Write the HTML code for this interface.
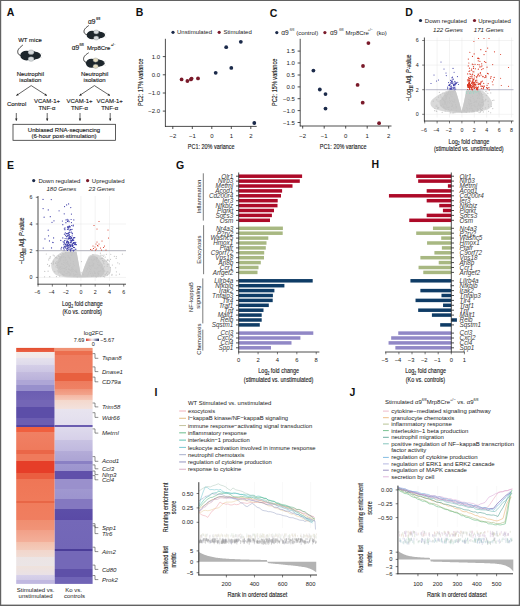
<!DOCTYPE html>
<html><head><meta charset="utf-8"><style>
html,body{margin:0;padding:0;background:#fff;}
svg{display:block;font-family:"Liberation Sans", sans-serif;}
text{stroke:none;}
text.g{stroke:none;}
text.b{stroke:#1a1a1a;stroke-width:0.13px;}
</style></head><body>
<svg width="520" height="606" viewBox="0 0 520 606">
<rect x="0" y="0" width="520" height="606" fill="#fff"/>
<text transform="translate(6.80,16.00)" font-size="10.5" fill="#111" font-weight="bold">A</text>
<text transform="translate(18.20,42.00)" font-size="6" fill="#1a1a1a" class="b">WT mice</text>
<path d="M22.5,45.3 C20,47.5 17.2,49.5 17.8,52.5 C18.2,54.5 19.5,55.5 21.5,55.6" fill="none" stroke="#3c3c3c" stroke-width="1.0" stroke-linecap="round" fill="none"/>
<ellipse cx="26.51" cy="55.60" rx="6.21" ry="4.95" fill="#1d262c"/>
<rect x="26.51" y="51.42" width="8.69" height="8.36" fill="#1d262c"/>
<ellipse cx="34.79" cy="55.60" rx="6.21" ry="3.74" fill="#1d262c"/>
<ellipse cx="31.06" cy="52.19" rx="2.90" ry="2.31" fill="#d6dadc" stroke="#7c8488" stroke-width="0.35"/>
<ellipse cx="31.06" cy="59.01" rx="2.90" ry="2.31" fill="#d6dadc" stroke="#7c8488" stroke-width="0.35"/>
<line x1="39.80" y1="54.60" x2="42.20" y2="53.20" stroke="#aaa" stroke-width="0.3"/>
<line x1="39.80" y1="56.60" x2="42.20" y2="58.00" stroke="#aaa" stroke-width="0.3"/>
<text transform="translate(88.00,23.50)" font-size="6.6" fill="#1a1a1a" class="b">α9</text>
<text transform="translate(96.20,20.20)" font-size="3.2" fill="#1a1a1a" class="b">fl/fl</text>
<path d="M88.4,25.8 C86,27.5 83.5,29.5 84.1,32.3 C84.6,34 86,34.6 87.8,34.8" fill="none" stroke="#3c3c3c" stroke-width="1.0" stroke-linecap="round" fill="none"/>
<ellipse cx="92.15" cy="35.00" rx="5.55" ry="4.32" fill="#1d262c"/>
<rect x="92.15" y="31.35" width="7.77" height="7.30" fill="#1d262c"/>
<ellipse cx="99.55" cy="35.00" rx="5.55" ry="3.26" fill="#1d262c"/>
<ellipse cx="96.22" cy="32.02" rx="2.59" ry="2.02" fill="#d6dadc" stroke="#7c8488" stroke-width="0.35"/>
<ellipse cx="96.22" cy="37.98" rx="2.59" ry="2.02" fill="#d6dadc" stroke="#7c8488" stroke-width="0.35"/>
<line x1="103.90" y1="34.00" x2="106.30" y2="32.60" stroke="#aaa" stroke-width="0.3"/>
<line x1="103.90" y1="36.00" x2="106.30" y2="37.40" stroke="#aaa" stroke-width="0.3"/>
<text transform="translate(71.80,49.60)" font-size="6.6" fill="#1a1a1a" class="b">α9</text>
<text transform="translate(79.60,46.40)" font-size="3.2" fill="#1a1a1a" class="b">fl/fl</text>
<text transform="translate(87.10,49.60)" font-size="6" fill="#1a1a1a" class="b">Mrp8Cre</text>
<text transform="translate(110.90,46.40)" font-size="3.2" fill="#1a1a1a" class="b">+/−</text>
<path d="M88.3,53 C86,54.5 83.2,56.5 83.6,59.5 C84,61.5 85.5,62.6 87.5,62.9" fill="none" stroke="#3c3c3c" stroke-width="1.0" stroke-linecap="round" fill="none"/>
<ellipse cx="91.51" cy="63.20" rx="5.61" ry="4.50" fill="#1d262c"/>
<rect x="91.51" y="59.40" width="7.85" height="7.60" fill="#1d262c"/>
<ellipse cx="98.99" cy="63.20" rx="5.61" ry="3.40" fill="#1d262c"/>
<ellipse cx="95.62" cy="60.10" rx="2.62" ry="2.10" fill="#e4dcc0" stroke="#7c8488" stroke-width="0.35"/>
<ellipse cx="95.62" cy="66.30" rx="2.62" ry="2.10" fill="#e4dcc0" stroke="#7c8488" stroke-width="0.35"/>
<line x1="103.40" y1="62.20" x2="105.80" y2="60.80" stroke="#aaa" stroke-width="0.3"/>
<line x1="103.40" y1="64.20" x2="105.80" y2="65.60" stroke="#aaa" stroke-width="0.3"/>
<text transform="translate(30.30,76.30)" font-size="6" fill="#1a1a1a" class="b" text-anchor="middle">Neutrophil</text>
<text transform="translate(30.30,82.40)" font-size="6" fill="#1a1a1a" class="b" text-anchor="middle">isolation</text>
<text transform="translate(94.60,76.30)" font-size="6" fill="#1a1a1a" class="b" text-anchor="middle">Neutrophil</text>
<text transform="translate(94.60,82.40)" font-size="6" fill="#1a1a1a" class="b" text-anchor="middle">isolation</text>
<line x1="31.20" y1="85.60" x2="16.30" y2="95.60" stroke="#222" stroke-width="0.7"/>
<path d="M16.30,95.60 L17.46,93.38 L18.80,95.37 Z" fill="#222"/>
<line x1="31.20" y1="85.60" x2="46.90" y2="95.60" stroke="#222" stroke-width="0.7"/>
<path d="M46.90,95.60 L44.40,95.43 L45.69,93.41 Z" fill="#222"/>
<line x1="94.40" y1="85.60" x2="79.40" y2="95.60" stroke="#222" stroke-width="0.7"/>
<path d="M79.40,95.60 L80.56,93.38 L81.90,95.38 Z" fill="#222"/>
<line x1="94.40" y1="85.60" x2="110.00" y2="95.60" stroke="#222" stroke-width="0.7"/>
<path d="M110.00,95.60 L107.50,95.42 L108.80,93.40 Z" fill="#222"/>
<text transform="translate(16.60,106.00)" font-size="6" fill="#1a1a1a" class="b" text-anchor="middle">Control</text>
<text transform="translate(47.00,103.20)" font-size="6" fill="#1a1a1a" class="b" text-anchor="middle">VCAM-1+</text>
<text transform="translate(47.00,109.50)" font-size="6" fill="#1a1a1a" class="b" text-anchor="middle">TNF-α</text>
<text transform="translate(79.50,103.20)" font-size="6" fill="#1a1a1a" class="b" text-anchor="middle">VCAM-1+</text>
<text transform="translate(79.50,109.50)" font-size="6" fill="#1a1a1a" class="b" text-anchor="middle">TNF-α</text>
<text transform="translate(109.70,103.20)" font-size="6" fill="#1a1a1a" class="b" text-anchor="middle">VCAM-1+</text>
<text transform="translate(109.70,109.50)" font-size="6" fill="#1a1a1a" class="b" text-anchor="middle">TNF-α</text>
<line x1="16.30" y1="113.00" x2="16.30" y2="120.80" stroke="#222" stroke-width="0.7"/>
<path d="M16.30,120.80 L15.10,118.60 L17.50,118.60 Z" fill="#222"/>
<line x1="47.20" y1="113.00" x2="47.20" y2="120.80" stroke="#222" stroke-width="0.7"/>
<path d="M47.20,120.80 L46.00,118.60 L48.40,118.60 Z" fill="#222"/>
<line x1="80.00" y1="113.00" x2="80.00" y2="120.80" stroke="#222" stroke-width="0.7"/>
<path d="M80.00,120.80 L78.80,118.60 L81.20,118.60 Z" fill="#222"/>
<line x1="110.20" y1="113.00" x2="110.20" y2="120.80" stroke="#222" stroke-width="0.7"/>
<path d="M110.20,120.80 L109.00,118.60 L111.40,118.60 Z" fill="#222"/>
<rect x="13" y="124.3" width="102.4" height="16" fill="none" stroke="#333" stroke-width="0.8"/>
<text transform="translate(64.00,131.70)" font-size="6" fill="#1a1a1a" class="b" text-anchor="middle">Unbiased RNA-sequencing</text>
<text transform="translate(64.00,138.10)" font-size="6" fill="#1a1a1a" class="b" text-anchor="middle">(6-hour post-stimulation)</text>
<text transform="translate(135.80,16.00)" font-size="10.5" fill="#111" font-weight="bold">B</text>
<line x1="165.40" y1="38.80" x2="165.40" y2="126.80" stroke="#222" stroke-width="0.8"/>
<line x1="165.00" y1="126.40" x2="256.70" y2="126.40" stroke="#222" stroke-width="0.8"/>
<line x1="172.80" y1="126.40" x2="172.80" y2="129.00" stroke="#222" stroke-width="0.8"/>
<text transform="translate(172.80,137.70)" font-size="6.0" fill="#1a1a1a" text-anchor="middle">−2</text>
<line x1="192.30" y1="126.40" x2="192.30" y2="129.00" stroke="#222" stroke-width="0.8"/>
<text transform="translate(192.30,137.70)" font-size="6.0" fill="#1a1a1a" text-anchor="middle">−1</text>
<line x1="211.80" y1="126.40" x2="211.80" y2="129.00" stroke="#222" stroke-width="0.8"/>
<text transform="translate(211.80,137.70)" font-size="6.0" fill="#1a1a1a" text-anchor="middle">0</text>
<line x1="231.30" y1="126.40" x2="231.30" y2="129.00" stroke="#222" stroke-width="0.8"/>
<text transform="translate(231.30,137.70)" font-size="6.0" fill="#1a1a1a" text-anchor="middle">1</text>
<line x1="250.80" y1="126.40" x2="250.80" y2="129.00" stroke="#222" stroke-width="0.8"/>
<text transform="translate(250.80,137.70)" font-size="6.0" fill="#1a1a1a" text-anchor="middle">2</text>
<line x1="162.80" y1="56.60" x2="165.40" y2="56.60" stroke="#222" stroke-width="0.8"/>
<text transform="translate(160.10,58.70)" font-size="6.0" fill="#1a1a1a" text-anchor="end">1.0</text>
<line x1="162.80" y1="74.80" x2="165.40" y2="74.80" stroke="#222" stroke-width="0.8"/>
<text transform="translate(160.10,76.90)" font-size="6.0" fill="#1a1a1a" text-anchor="end">0.0</text>
<line x1="162.80" y1="93.00" x2="165.40" y2="93.00" stroke="#222" stroke-width="0.8"/>
<text transform="translate(160.10,95.10)" font-size="6.0" fill="#1a1a1a" text-anchor="end">−1.0</text>
<line x1="162.80" y1="111.10" x2="165.40" y2="111.10" stroke="#222" stroke-width="0.8"/>
<text transform="translate(160.10,113.20)" font-size="6.0" fill="#1a1a1a" text-anchor="end">−2.0</text>
<text transform="translate(211.20,149.20) scale(0.76,1)" font-size="7.2" fill="#1a1a1a" class="b" text-anchor="middle">PC1: 20% variance</text>
<text transform="translate(142.70,82.40) rotate(-90) scale(0.77,1)" font-size="7.2" fill="#1a1a1a" class="b" text-anchor="middle">PC2: 17% variance</text>
<circle cx="173.00" cy="32.30" r="1.6" fill="#1b2a4a"/>
<text transform="translate(177.00,34.40)" font-size="6" fill="#1a1a1a">Unstimulated</text>
<circle cx="219.20" cy="32.30" r="1.6" fill="#7a1a2a"/>
<text transform="translate(223.40,34.40)" font-size="6" fill="#1a1a1a">Stimulated</text>
<circle cx="226.20" cy="47.20" r="1.9" fill="#1b2a4a"/>
<circle cx="240.80" cy="41.80" r="1.9" fill="#1b2a4a"/>
<circle cx="231.30" cy="67.90" r="1.9" fill="#1b2a4a"/>
<circle cx="215.70" cy="72.80" r="1.9" fill="#1b2a4a"/>
<circle cx="254.30" cy="123.00" r="1.9" fill="#1b2a4a"/>
<circle cx="181.60" cy="79.40" r="1.9" fill="#7a1a2a"/>
<circle cx="187.40" cy="81.00" r="1.9" fill="#7a1a2a"/>
<circle cx="190.90" cy="79.40" r="1.9" fill="#7a1a2a"/>
<circle cx="191.60" cy="78.60" r="1.9" fill="#7a1a2a"/>
<circle cx="198.00" cy="78.40" r="1.9" fill="#7a1a2a"/>
<text transform="translate(269.80,16.60)" font-size="10.5" fill="#111" font-weight="bold">C</text>
<line x1="300.20" y1="38.80" x2="300.20" y2="126.40" stroke="#222" stroke-width="0.8"/>
<line x1="299.80" y1="126.00" x2="391.50" y2="126.00" stroke="#222" stroke-width="0.8"/>
<line x1="302.70" y1="126.00" x2="302.70" y2="128.60" stroke="#222" stroke-width="0.8"/>
<text transform="translate(302.70,137.70)" font-size="6.0" fill="#1a1a1a" text-anchor="middle">−2</text>
<line x1="324.20" y1="126.00" x2="324.20" y2="128.60" stroke="#222" stroke-width="0.8"/>
<text transform="translate(324.20,137.70)" font-size="6.0" fill="#1a1a1a" text-anchor="middle">−1</text>
<line x1="345.70" y1="126.00" x2="345.70" y2="128.60" stroke="#222" stroke-width="0.8"/>
<text transform="translate(345.70,137.70)" font-size="6.0" fill="#1a1a1a" text-anchor="middle">0</text>
<line x1="367.20" y1="126.00" x2="367.20" y2="128.60" stroke="#222" stroke-width="0.8"/>
<text transform="translate(367.20,137.70)" font-size="6.0" fill="#1a1a1a" text-anchor="middle">1</text>
<line x1="388.70" y1="126.00" x2="388.70" y2="128.60" stroke="#222" stroke-width="0.8"/>
<text transform="translate(388.70,137.70)" font-size="6.0" fill="#1a1a1a" text-anchor="middle">2</text>
<line x1="297.60" y1="51.10" x2="300.20" y2="51.10" stroke="#222" stroke-width="0.8"/>
<text transform="translate(294.90,53.20)" font-size="6.0" fill="#1a1a1a" text-anchor="end">1.5</text>
<line x1="297.60" y1="63.00" x2="300.20" y2="63.00" stroke="#222" stroke-width="0.8"/>
<text transform="translate(294.90,65.10)" font-size="6.0" fill="#1a1a1a" text-anchor="end">1.0</text>
<line x1="297.60" y1="75.00" x2="300.20" y2="75.00" stroke="#222" stroke-width="0.8"/>
<text transform="translate(294.90,77.10)" font-size="6.0" fill="#1a1a1a" text-anchor="end">0.5</text>
<line x1="297.60" y1="86.90" x2="300.20" y2="86.90" stroke="#222" stroke-width="0.8"/>
<text transform="translate(294.90,89.00)" font-size="6.0" fill="#1a1a1a" text-anchor="end">0.0</text>
<line x1="297.60" y1="98.70" x2="300.20" y2="98.70" stroke="#222" stroke-width="0.8"/>
<text transform="translate(294.90,100.80)" font-size="6.0" fill="#1a1a1a" text-anchor="end">−0.5</text>
<line x1="297.60" y1="110.60" x2="300.20" y2="110.60" stroke="#222" stroke-width="0.8"/>
<text transform="translate(294.90,112.70)" font-size="6.0" fill="#1a1a1a" text-anchor="end">−1.0</text>
<line x1="297.60" y1="122.50" x2="300.20" y2="122.50" stroke="#222" stroke-width="0.8"/>
<text transform="translate(294.90,124.60)" font-size="6.0" fill="#1a1a1a" text-anchor="end">−1.5</text>
<text transform="translate(343.10,149.20) scale(0.76,1)" font-size="7.2" fill="#1a1a1a" class="b" text-anchor="middle">PC1: 20% variance</text>
<text transform="translate(276.60,82.40) rotate(-90) scale(0.77,1)" font-size="7.2" fill="#1a1a1a" class="b" text-anchor="middle">PC2: 15% variance</text>
<circle cx="276.80" cy="32.60" r="1.6" fill="#1b2a4a"/>
<text transform="translate(281.30,34.50)" font-size="6.6" fill="#1a1a1a">α9</text>
<text transform="translate(289.80,31.20)" font-size="3.4" fill="#1a1a1a">fl/fl</text>
<text transform="translate(296.20,34.50)" font-size="6" fill="#1a1a1a">(control)</text>
<circle cx="324.90" cy="32.60" r="1.6" fill="#7a1a2a"/>
<text transform="translate(329.90,34.50)" font-size="6.6" fill="#1a1a1a">α9</text>
<text transform="translate(339.20,31.20)" font-size="3.4" fill="#1a1a1a">fl/fl</text>
<text transform="translate(345.60,34.50)" font-size="6" fill="#1a1a1a">Mrp8Cre</text>
<text transform="translate(367.80,31.20)" font-size="3.4" fill="#1a1a1a">+/−</text>
<text transform="translate(376.50,34.50)" font-size="6" fill="#1a1a1a">(ko)</text>
<circle cx="313.40" cy="70.60" r="1.9" fill="#1b2a4a"/>
<circle cx="319.80" cy="89.50" r="1.9" fill="#1b2a4a"/>
<circle cx="325.50" cy="94.10" r="1.9" fill="#1b2a4a"/>
<circle cx="325.50" cy="108.60" r="1.9" fill="#1b2a4a"/>
<circle cx="368.40" cy="43.10" r="1.9" fill="#7a1a2a"/>
<circle cx="363.00" cy="66.00" r="1.9" fill="#7a1a2a"/>
<circle cx="357.60" cy="84.90" r="1.9" fill="#7a1a2a"/>
<circle cx="362.70" cy="102.70" r="1.9" fill="#7a1a2a"/>
<circle cx="379.10" cy="123.20" r="1.9" fill="#7a1a2a"/>
<text transform="translate(405.30,16.30)" font-size="10.5" fill="#111" font-weight="bold">D</text>
<circle cx="420.50" cy="20.50" r="1.6" fill="#1b2a4a"/>
<text transform="translate(424.80,22.60)" font-size="6" fill="#1a1a1a">Down regulated</text>
<circle cx="474.50" cy="20.50" r="1.6" fill="#7a1a2a"/>
<text transform="translate(478.20,22.60)" font-size="6" fill="#1a1a1a">Upregulated</text>
<text transform="translate(433.00,32.00)" font-size="6.1" fill="#1a1a1a" font-style="italic">122 Genes</text>
<text transform="translate(473.80,32.00)" font-size="6.1" fill="#1a1a1a" font-style="italic">171 Genes</text>
<line x1="437.10" y1="37.50" x2="437.10" y2="117.50" stroke="#e6e6e6" stroke-width="0.5"/>
<line x1="449.50" y1="37.50" x2="449.50" y2="117.50" stroke="#e6e6e6" stroke-width="0.5"/>
<line x1="461.90" y1="37.50" x2="461.90" y2="117.50" stroke="#e6e6e6" stroke-width="0.5"/>
<line x1="474.30" y1="37.50" x2="474.30" y2="117.50" stroke="#e6e6e6" stroke-width="0.5"/>
<line x1="486.70" y1="37.50" x2="486.70" y2="117.50" stroke="#e6e6e6" stroke-width="0.5"/>
<line x1="499.10" y1="37.50" x2="499.10" y2="117.50" stroke="#e6e6e6" stroke-width="0.5"/>
<line x1="511.50" y1="37.50" x2="511.50" y2="117.50" stroke="#e6e6e6" stroke-width="0.5"/>
<line x1="425.50" y1="114.30" x2="513.50" y2="114.30" stroke="#e6e6e6" stroke-width="0.5"/>
<line x1="425.50" y1="65.10" x2="513.50" y2="65.10" stroke="#e6e6e6" stroke-width="0.5"/>
<line x1="425.50" y1="40.50" x2="513.50" y2="40.50" stroke="#e6e6e6" stroke-width="0.5"/>
<path d="M448,90.6 C442,93 434,97 431,101 C429.5,104 431,107.5 436,109.5 C442,111.5 450,112.6 456,112.9 L461.6,113 L467,112.9 C474,112.6 482,111.5 487.5,109.5 C492,107.5 493,104 491.5,101 C489.5,97 486,93.5 482.5,90.6 L466.3,90.6 C465.2,96 463.8,104 461.6,111.3 C459.8,104 457.5,96 455.6,90.6 Z" fill="#d9d9d9"/>
<path d="M449,90.6 C445,94 440,99 439.5,103 C439.5,106.5 443,109 448,110.6 C453,111.8 458,112.2 461.6,112.3 C466,112.2 472,111.6 477,110.4 C482,109 484.5,106 484,102.5 C483.5,98.5 482,94 480.5,90.6 L466.3,90.6 C465.2,96 463.8,104 461.6,111.3 C459.8,104 457.5,96 455.6,90.6 Z" fill="#c8c8c8"/>
<circle cx="433.26" cy="101.14" r="0.6" fill="#c2c2c2"/>
<circle cx="470.75" cy="103.84" r="0.6" fill="#c2c2c2"/>
<circle cx="437.86" cy="108.40" r="0.6" fill="#c2c2c2"/>
<circle cx="446.31" cy="97.54" r="0.6" fill="#c2c2c2"/>
<circle cx="450.66" cy="91.73" r="0.6" fill="#c2c2c2"/>
<circle cx="466.27" cy="112.22" r="0.6" fill="#c2c2c2"/>
<circle cx="473.72" cy="91.13" r="0.6" fill="#c2c2c2"/>
<circle cx="474.08" cy="92.12" r="0.6" fill="#c2c2c2"/>
<circle cx="447.08" cy="101.10" r="0.6" fill="#c2c2c2"/>
<circle cx="448.60" cy="109.50" r="0.6" fill="#c2c2c2"/>
<circle cx="471.39" cy="105.51" r="0.6" fill="#c2c2c2"/>
<circle cx="441.10" cy="96.98" r="0.6" fill="#c2c2c2"/>
<circle cx="491.36" cy="106.51" r="0.6" fill="#c2c2c2"/>
<circle cx="446.66" cy="95.90" r="0.6" fill="#c2c2c2"/>
<circle cx="482.46" cy="99.38" r="0.6" fill="#c2c2c2"/>
<circle cx="477.14" cy="95.46" r="0.6" fill="#c2c2c2"/>
<circle cx="476.80" cy="101.23" r="0.6" fill="#c2c2c2"/>
<circle cx="474.66" cy="104.77" r="0.6" fill="#c2c2c2"/>
<circle cx="478.75" cy="96.79" r="0.6" fill="#c2c2c2"/>
<circle cx="438.69" cy="107.63" r="0.6" fill="#c2c2c2"/>
<circle cx="481.92" cy="100.73" r="0.6" fill="#c2c2c2"/>
<circle cx="446.61" cy="105.09" r="0.6" fill="#c2c2c2"/>
<circle cx="443.58" cy="100.14" r="0.6" fill="#c2c2c2"/>
<circle cx="444.86" cy="108.64" r="0.6" fill="#c2c2c2"/>
<circle cx="464.16" cy="110.44" r="0.6" fill="#c2c2c2"/>
<circle cx="436.95" cy="105.05" r="0.6" fill="#c2c2c2"/>
<circle cx="454.87" cy="112.76" r="0.6" fill="#c2c2c2"/>
<circle cx="446.42" cy="98.10" r="0.6" fill="#c2c2c2"/>
<circle cx="442.79" cy="104.15" r="0.6" fill="#c2c2c2"/>
<circle cx="444.59" cy="100.86" r="0.6" fill="#c2c2c2"/>
<circle cx="467.25" cy="110.04" r="0.6" fill="#c2c2c2"/>
<circle cx="447.87" cy="94.22" r="0.6" fill="#c2c2c2"/>
<circle cx="479.35" cy="95.01" r="0.6" fill="#c2c2c2"/>
<circle cx="471.83" cy="111.68" r="0.6" fill="#c2c2c2"/>
<circle cx="442.86" cy="93.11" r="0.6" fill="#c2c2c2"/>
<circle cx="451.67" cy="106.44" r="0.6" fill="#c2c2c2"/>
<circle cx="445.89" cy="109.09" r="0.6" fill="#c2c2c2"/>
<circle cx="475.74" cy="106.79" r="0.6" fill="#c2c2c2"/>
<circle cx="450.89" cy="95.87" r="0.6" fill="#c2c2c2"/>
<circle cx="483.21" cy="97.02" r="0.6" fill="#c2c2c2"/>
<circle cx="446.15" cy="92.14" r="0.6" fill="#c2c2c2"/>
<circle cx="454.01" cy="98.99" r="0.6" fill="#c2c2c2"/>
<circle cx="481.82" cy="110.58" r="0.6" fill="#c2c2c2"/>
<circle cx="482.23" cy="105.38" r="0.6" fill="#c2c2c2"/>
<circle cx="473.44" cy="91.58" r="0.6" fill="#c2c2c2"/>
<circle cx="445.19" cy="111.01" r="0.6" fill="#c2c2c2"/>
<circle cx="478.51" cy="104.92" r="0.6" fill="#c2c2c2"/>
<circle cx="446.69" cy="107.02" r="0.6" fill="#c2c2c2"/>
<circle cx="449.57" cy="102.92" r="0.6" fill="#c2c2c2"/>
<circle cx="476.99" cy="110.78" r="0.6" fill="#c2c2c2"/>
<circle cx="473.18" cy="111.11" r="0.6" fill="#c2c2c2"/>
<circle cx="435.94" cy="106.01" r="0.6" fill="#c2c2c2"/>
<circle cx="482.37" cy="108.35" r="0.6" fill="#c2c2c2"/>
<circle cx="471.36" cy="103.52" r="0.6" fill="#c2c2c2"/>
<circle cx="469.67" cy="104.32" r="0.6" fill="#c2c2c2"/>
<circle cx="452.79" cy="104.99" r="0.6" fill="#c2c2c2"/>
<circle cx="485.81" cy="99.42" r="0.6" fill="#c2c2c2"/>
<circle cx="468.70" cy="103.70" r="0.6" fill="#c2c2c2"/>
<circle cx="448.43" cy="107.45" r="0.6" fill="#c2c2c2"/>
<circle cx="444.69" cy="104.15" r="0.6" fill="#c2c2c2"/>
<circle cx="448.25" cy="101.84" r="0.6" fill="#c2c2c2"/>
<circle cx="488.52" cy="111.23" r="0.6" fill="#c2c2c2"/>
<circle cx="452.49" cy="105.85" r="0.6" fill="#c2c2c2"/>
<circle cx="447.39" cy="94.57" r="0.6" fill="#c2c2c2"/>
<circle cx="472.66" cy="110.60" r="0.6" fill="#c2c2c2"/>
<circle cx="441.07" cy="105.58" r="0.6" fill="#c2c2c2"/>
<circle cx="436.32" cy="111.10" r="0.6" fill="#c2c2c2"/>
<circle cx="482.71" cy="99.33" r="0.6" fill="#c2c2c2"/>
<circle cx="475.35" cy="101.82" r="0.6" fill="#c2c2c2"/>
<circle cx="480.71" cy="109.64" r="0.6" fill="#c2c2c2"/>
<circle cx="482.74" cy="94.55" r="0.6" fill="#c2c2c2"/>
<circle cx="445.38" cy="96.91" r="0.6" fill="#c2c2c2"/>
<circle cx="439.19" cy="101.76" r="0.6" fill="#c2c2c2"/>
<circle cx="451.69" cy="109.43" r="0.6" fill="#c2c2c2"/>
<circle cx="474.18" cy="91.50" r="0.6" fill="#c2c2c2"/>
<circle cx="477.87" cy="91.72" r="0.6" fill="#c2c2c2"/>
<circle cx="471.18" cy="108.37" r="0.6" fill="#c2c2c2"/>
<circle cx="444.60" cy="93.82" r="0.6" fill="#c2c2c2"/>
<circle cx="448.89" cy="91.84" r="0.6" fill="#c2c2c2"/>
<circle cx="467.02" cy="105.34" r="0.6" fill="#c2c2c2"/>
<circle cx="480.49" cy="112.08" r="0.6" fill="#c2c2c2"/>
<circle cx="479.67" cy="94.77" r="0.6" fill="#c2c2c2"/>
<circle cx="454.01" cy="101.28" r="0.6" fill="#c2c2c2"/>
<circle cx="479.58" cy="98.48" r="0.6" fill="#c2c2c2"/>
<circle cx="482.40" cy="102.35" r="0.6" fill="#c2c2c2"/>
<circle cx="477.29" cy="108.38" r="0.6" fill="#c2c2c2"/>
<circle cx="469.51" cy="92.74" r="0.6" fill="#c2c2c2"/>
<circle cx="476.32" cy="100.87" r="0.6" fill="#c2c2c2"/>
<circle cx="473.10" cy="111.00" r="0.6" fill="#c2c2c2"/>
<circle cx="434.86" cy="108.49" r="0.6" fill="#c2c2c2"/>
<circle cx="470.54" cy="101.09" r="0.6" fill="#c2c2c2"/>
<circle cx="480.36" cy="108.97" r="0.6" fill="#c2c2c2"/>
<circle cx="488.52" cy="106.73" r="0.6" fill="#c2c2c2"/>
<circle cx="461.75" cy="112.50" r="0.6" fill="#c2c2c2"/>
<circle cx="440.15" cy="100.59" r="0.6" fill="#c2c2c2"/>
<circle cx="477.99" cy="91.43" r="0.6" fill="#c2c2c2"/>
<circle cx="480.16" cy="108.29" r="0.6" fill="#c2c2c2"/>
<circle cx="452.20" cy="94.10" r="0.6" fill="#c2c2c2"/>
<circle cx="474.63" cy="106.10" r="0.6" fill="#c2c2c2"/>
<circle cx="481.55" cy="102.49" r="0.6" fill="#c2c2c2"/>
<circle cx="449.37" cy="106.98" r="0.6" fill="#c2c2c2"/>
<circle cx="445.21" cy="99.26" r="0.6" fill="#c2c2c2"/>
<circle cx="481.16" cy="109.69" r="0.6" fill="#c2c2c2"/>
<circle cx="474.00" cy="102.44" r="0.6" fill="#c2c2c2"/>
<circle cx="479.82" cy="101.97" r="0.6" fill="#c2c2c2"/>
<circle cx="485.86" cy="91.42" r="0.6" fill="#c2c2c2"/>
<circle cx="469.45" cy="108.58" r="0.6" fill="#c2c2c2"/>
<circle cx="476.24" cy="101.70" r="0.6" fill="#c2c2c2"/>
<circle cx="485.54" cy="99.99" r="0.6" fill="#c2c2c2"/>
<circle cx="480.75" cy="111.30" r="0.6" fill="#c2c2c2"/>
<circle cx="443.66" cy="100.43" r="0.6" fill="#c2c2c2"/>
<circle cx="477.66" cy="110.79" r="0.6" fill="#c2c2c2"/>
<circle cx="445.26" cy="104.52" r="0.6" fill="#c2c2c2"/>
<circle cx="481.46" cy="93.67" r="0.6" fill="#c2c2c2"/>
<circle cx="481.88" cy="95.85" r="0.6" fill="#c2c2c2"/>
<circle cx="477.70" cy="97.95" r="0.6" fill="#c2c2c2"/>
<circle cx="444.77" cy="107.03" r="0.6" fill="#c2c2c2"/>
<circle cx="444.91" cy="102.13" r="0.6" fill="#c2c2c2"/>
<circle cx="449.58" cy="100.50" r="0.6" fill="#c2c2c2"/>
<circle cx="454.56" cy="99.98" r="0.6" fill="#c2c2c2"/>
<circle cx="479.72" cy="104.82" r="0.6" fill="#c2c2c2"/>
<circle cx="481.28" cy="102.56" r="0.6" fill="#c2c2c2"/>
<circle cx="467.45" cy="108.79" r="0.6" fill="#c2c2c2"/>
<circle cx="474.38" cy="111.29" r="0.6" fill="#c2c2c2"/>
<circle cx="452.18" cy="112.96" r="0.6" fill="#c2c2c2"/>
<circle cx="480.70" cy="106.93" r="0.6" fill="#c2c2c2"/>
<circle cx="450.59" cy="92.95" r="0.6" fill="#c2c2c2"/>
<circle cx="452.43" cy="106.01" r="0.6" fill="#c2c2c2"/>
<circle cx="449.99" cy="111.03" r="0.6" fill="#c2c2c2"/>
<circle cx="487.82" cy="93.36" r="0.6" fill="#c2c2c2"/>
<circle cx="477.45" cy="106.02" r="0.6" fill="#c2c2c2"/>
<circle cx="439.33" cy="92.37" r="0.6" fill="#c2c2c2"/>
<circle cx="455.01" cy="102.23" r="0.6" fill="#c2c2c2"/>
<circle cx="479.21" cy="94.05" r="0.6" fill="#c2c2c2"/>
<circle cx="450.55" cy="112.78" r="0.6" fill="#c2c2c2"/>
<circle cx="490.77" cy="92.91" r="0.6" fill="#c2c2c2"/>
<circle cx="453.90" cy="107.78" r="0.6" fill="#c2c2c2"/>
<circle cx="444.83" cy="101.17" r="0.6" fill="#c2c2c2"/>
<circle cx="481.32" cy="109.54" r="0.6" fill="#c2c2c2"/>
<circle cx="436.78" cy="99.80" r="0.6" fill="#c2c2c2"/>
<circle cx="450.04" cy="94.46" r="0.6" fill="#c2c2c2"/>
<circle cx="492.79" cy="108.60" r="0.6" fill="#c2c2c2"/>
<circle cx="478.53" cy="109.91" r="0.6" fill="#c2c2c2"/>
<circle cx="468.62" cy="102.00" r="0.6" fill="#c2c2c2"/>
<circle cx="482.73" cy="108.67" r="0.6" fill="#c2c2c2"/>
<circle cx="456.11" cy="108.07" r="0.6" fill="#c2c2c2"/>
<circle cx="470.45" cy="99.81" r="0.6" fill="#c2c2c2"/>
<circle cx="485.42" cy="107.83" r="0.6" fill="#c2c2c2"/>
<circle cx="469.08" cy="99.81" r="0.6" fill="#c2c2c2"/>
<circle cx="483.20" cy="101.21" r="0.6" fill="#c2c2c2"/>
<circle cx="449.55" cy="98.70" r="0.6" fill="#c2c2c2"/>
<circle cx="473.12" cy="111.77" r="0.6" fill="#c2c2c2"/>
<circle cx="473.17" cy="98.30" r="0.6" fill="#c2c2c2"/>
<circle cx="468.61" cy="99.45" r="0.6" fill="#c2c2c2"/>
<circle cx="473.08" cy="105.06" r="0.6" fill="#c2c2c2"/>
<circle cx="478.55" cy="91.31" r="0.6" fill="#c2c2c2"/>
<circle cx="456.07" cy="107.20" r="0.6" fill="#c2c2c2"/>
<circle cx="445.30" cy="95.14" r="0.6" fill="#c2c2c2"/>
<circle cx="448.21" cy="92.99" r="0.6" fill="#c2c2c2"/>
<circle cx="453.81" cy="102.07" r="0.6" fill="#c2c2c2"/>
<circle cx="471.70" cy="103.41" r="0.6" fill="#c2c2c2"/>
<circle cx="466.59" cy="107.66" r="0.6" fill="#c2c2c2"/>
<circle cx="450.47" cy="101.27" r="0.6" fill="#c2c2c2"/>
<circle cx="445.37" cy="101.80" r="0.6" fill="#c2c2c2"/>
<circle cx="493.87" cy="100.14" r="0.6" fill="#c2c2c2"/>
<circle cx="483.50" cy="104.07" r="0.6" fill="#c2c2c2"/>
<circle cx="444.89" cy="103.25" r="0.6" fill="#c2c2c2"/>
<circle cx="456.25" cy="106.71" r="0.6" fill="#c2c2c2"/>
<circle cx="451.85" cy="91.75" r="0.6" fill="#c2c2c2"/>
<circle cx="447.43" cy="107.55" r="0.6" fill="#c2c2c2"/>
<circle cx="469.52" cy="111.77" r="0.6" fill="#c2c2c2"/>
<circle cx="452.71" cy="101.40" r="0.6" fill="#c2c2c2"/>
<circle cx="472.56" cy="96.21" r="0.6" fill="#c2c2c2"/>
<circle cx="488.09" cy="101.20" r="0.6" fill="#c2c2c2"/>
<circle cx="472.39" cy="108.93" r="0.6" fill="#c2c2c2"/>
<circle cx="484.87" cy="100.92" r="0.6" fill="#c2c2c2"/>
<circle cx="453.02" cy="91.96" r="0.6" fill="#c2c2c2"/>
<circle cx="482.76" cy="105.63" r="0.6" fill="#c2c2c2"/>
<circle cx="451.95" cy="96.62" r="0.6" fill="#c2c2c2"/>
<circle cx="483.30" cy="111.95" r="0.6" fill="#c2c2c2"/>
<circle cx="477.27" cy="110.62" r="0.6" fill="#c2c2c2"/>
<circle cx="480.68" cy="104.67" r="0.6" fill="#c2c2c2"/>
<circle cx="445.67" cy="103.34" r="0.6" fill="#c2c2c2"/>
<circle cx="488.30" cy="104.85" r="0.6" fill="#c2c2c2"/>
<circle cx="479.10" cy="112.55" r="0.6" fill="#c2c2c2"/>
<circle cx="482.27" cy="110.31" r="0.6" fill="#c2c2c2"/>
<circle cx="451.80" cy="100.24" r="0.6" fill="#c2c2c2"/>
<circle cx="479.22" cy="93.07" r="0.6" fill="#c2c2c2"/>
<circle cx="479.86" cy="105.81" r="0.6" fill="#c2c2c2"/>
<circle cx="478.40" cy="104.81" r="0.6" fill="#c2c2c2"/>
<circle cx="442.57" cy="98.43" r="0.6" fill="#c2c2c2"/>
<circle cx="477.69" cy="109.42" r="0.6" fill="#c2c2c2"/>
<circle cx="455.64" cy="104.65" r="0.6" fill="#c2c2c2"/>
<circle cx="486.33" cy="95.53" r="0.6" fill="#c2c2c2"/>
<circle cx="446.40" cy="98.99" r="0.6" fill="#c2c2c2"/>
<circle cx="490.65" cy="112.76" r="0.6" fill="#c2c2c2"/>
<circle cx="436.74" cy="111.24" r="0.6" fill="#c2c2c2"/>
<circle cx="443.76" cy="99.00" r="0.6" fill="#c2c2c2"/>
<circle cx="448.86" cy="92.64" r="0.6" fill="#c2c2c2"/>
<circle cx="474.86" cy="101.56" r="0.6" fill="#c2c2c2"/>
<circle cx="473.08" cy="92.49" r="0.6" fill="#c2c2c2"/>
<circle cx="443.54" cy="106.21" r="0.6" fill="#c2c2c2"/>
<circle cx="446.07" cy="93.41" r="0.6" fill="#c2c2c2"/>
<circle cx="469.92" cy="103.44" r="0.6" fill="#c2c2c2"/>
<circle cx="492.42" cy="100.52" r="0.6" fill="#c2c2c2"/>
<circle cx="470.89" cy="97.57" r="0.6" fill="#c2c2c2"/>
<circle cx="434.74" cy="110.66" r="0.6" fill="#c2c2c2"/>
<circle cx="442.74" cy="99.40" r="0.6" fill="#c2c2c2"/>
<circle cx="451.94" cy="103.32" r="0.6" fill="#c2c2c2"/>
<circle cx="443.88" cy="107.65" r="0.6" fill="#c2c2c2"/>
<circle cx="476.69" cy="102.25" r="0.6" fill="#c2c2c2"/>
<circle cx="478.56" cy="103.40" r="0.6" fill="#c2c2c2"/>
<circle cx="456.26" cy="110.76" r="0.6" fill="#c2c2c2"/>
<circle cx="452.22" cy="104.88" r="0.6" fill="#c2c2c2"/>
<circle cx="446.75" cy="96.25" r="0.6" fill="#c2c2c2"/>
<circle cx="437.60" cy="107.79" r="0.6" fill="#c2c2c2"/>
<circle cx="477.69" cy="98.30" r="0.6" fill="#c2c2c2"/>
<circle cx="469.52" cy="105.73" r="0.6" fill="#c2c2c2"/>
<circle cx="436.90" cy="106.52" r="0.6" fill="#c2c2c2"/>
<circle cx="474.21" cy="99.92" r="0.6" fill="#c2c2c2"/>
<circle cx="469.66" cy="108.69" r="0.6" fill="#c2c2c2"/>
<circle cx="464.27" cy="110.53" r="0.6" fill="#c2c2c2"/>
<circle cx="471.19" cy="106.56" r="0.6" fill="#c2c2c2"/>
<circle cx="469.95" cy="100.16" r="0.6" fill="#c2c2c2"/>
<circle cx="453.49" cy="112.80" r="0.6" fill="#c2c2c2"/>
<circle cx="442.19" cy="112.33" r="0.6" fill="#c2c2c2"/>
<circle cx="449.45" cy="97.65" r="0.6" fill="#c2c2c2"/>
<circle cx="440.28" cy="94.78" r="0.6" fill="#c2c2c2"/>
<circle cx="437.99" cy="100.98" r="0.6" fill="#c2c2c2"/>
<circle cx="478.72" cy="93.21" r="0.6" fill="#c2c2c2"/>
<circle cx="446.05" cy="95.63" r="0.6" fill="#c2c2c2"/>
<circle cx="445.21" cy="95.77" r="0.6" fill="#c2c2c2"/>
<circle cx="438.45" cy="97.04" r="0.6" fill="#c2c2c2"/>
<circle cx="447.26" cy="102.97" r="0.6" fill="#c2c2c2"/>
<circle cx="470.52" cy="101.44" r="0.6" fill="#c2c2c2"/>
<circle cx="469.65" cy="93.16" r="0.6" fill="#9fd6c4"/>
<circle cx="478.80" cy="91.53" r="0.6" fill="#9fd6c4"/>
<circle cx="473.66" cy="93.37" r="0.6" fill="#9fd6c4"/>
<circle cx="472.76" cy="91.16" r="0.6" fill="#9fd6c4"/>
<circle cx="466.70" cy="93.34" r="0.6" fill="#9fd6c4"/>
<circle cx="477.22" cy="91.65" r="0.6" fill="#9fd6c4"/>
<circle cx="473.39" cy="92.05" r="0.6" fill="#9fd6c4"/>
<circle cx="469.84" cy="93.47" r="0.6" fill="#9fd6c4"/>
<circle cx="475.21" cy="91.21" r="0.6" fill="#9fd6c4"/>
<circle cx="466.15" cy="91.92" r="0.6" fill="#9fd6c4"/>
<circle cx="471.20" cy="92.89" r="0.6" fill="#9fd6c4"/>
<circle cx="475.99" cy="92.32" r="0.6" fill="#9fd6c4"/>
<circle cx="468.20" cy="90.97" r="0.6" fill="#9fd6c4"/>
<circle cx="470.51" cy="91.28" r="0.6" fill="#9fd6c4"/>
<line x1="425.50" y1="89.70" x2="513.50" y2="89.70" stroke="#8a8aa6" stroke-width="0.6"/>
<circle cx="450.21" cy="84.26" r="0.55" fill="#3c3ca8"/>
<circle cx="446.28" cy="75.60" r="0.55" fill="#3c3ca8"/>
<circle cx="455.70" cy="89.10" r="0.55" fill="#3c3ca8"/>
<circle cx="456.12" cy="82.98" r="0.55" fill="#3c3ca8"/>
<circle cx="452.54" cy="77.01" r="0.55" fill="#3c3ca8"/>
<circle cx="448.52" cy="82.61" r="0.55" fill="#3c3ca8"/>
<circle cx="453.52" cy="85.18" r="0.55" fill="#3c3ca8"/>
<circle cx="451.35" cy="89.34" r="0.55" fill="#3c3ca8"/>
<circle cx="452.86" cy="82.19" r="0.55" fill="#3c3ca8"/>
<circle cx="451.55" cy="81.06" r="0.55" fill="#3c3ca8"/>
<circle cx="450.77" cy="86.28" r="0.55" fill="#3c3ca8"/>
<circle cx="449.88" cy="88.22" r="0.55" fill="#3c3ca8"/>
<circle cx="451.93" cy="87.35" r="0.55" fill="#3c3ca8"/>
<circle cx="450.92" cy="87.79" r="0.55" fill="#3c3ca8"/>
<circle cx="451.65" cy="81.77" r="0.55" fill="#3c3ca8"/>
<circle cx="456.61" cy="82.74" r="0.55" fill="#3c3ca8"/>
<circle cx="454.58" cy="87.73" r="0.55" fill="#3c3ca8"/>
<circle cx="453.52" cy="84.69" r="0.55" fill="#3c3ca8"/>
<circle cx="453.34" cy="79.14" r="0.55" fill="#3c3ca8"/>
<circle cx="455.56" cy="83.21" r="0.55" fill="#3c3ca8"/>
<circle cx="454.11" cy="84.48" r="0.55" fill="#3c3ca8"/>
<circle cx="454.12" cy="72.25" r="0.55" fill="#3c3ca8"/>
<circle cx="449.18" cy="85.10" r="0.55" fill="#3c3ca8"/>
<circle cx="452.70" cy="83.21" r="0.55" fill="#3c3ca8"/>
<circle cx="450.65" cy="88.72" r="0.55" fill="#3c3ca8"/>
<circle cx="451.37" cy="82.87" r="0.55" fill="#3c3ca8"/>
<circle cx="453.03" cy="68.40" r="0.55" fill="#3c3ca8"/>
<circle cx="450.82" cy="88.54" r="0.55" fill="#3c3ca8"/>
<circle cx="451.07" cy="85.68" r="0.55" fill="#3c3ca8"/>
<circle cx="454.78" cy="83.80" r="0.55" fill="#3c3ca8"/>
<circle cx="454.75" cy="88.11" r="0.55" fill="#3c3ca8"/>
<circle cx="454.92" cy="81.91" r="0.55" fill="#3c3ca8"/>
<circle cx="454.24" cy="89.81" r="0.55" fill="#3c3ca8"/>
<circle cx="450.19" cy="89.27" r="0.55" fill="#3c3ca8"/>
<circle cx="451.37" cy="81.53" r="0.55" fill="#3c3ca8"/>
<circle cx="450.20" cy="88.97" r="0.55" fill="#3c3ca8"/>
<circle cx="451.49" cy="88.57" r="0.55" fill="#3c3ca8"/>
<circle cx="453.40" cy="88.03" r="0.55" fill="#3c3ca8"/>
<circle cx="448.83" cy="85.18" r="0.55" fill="#3c3ca8"/>
<circle cx="454.89" cy="86.97" r="0.55" fill="#3c3ca8"/>
<circle cx="449.52" cy="85.13" r="0.55" fill="#3c3ca8"/>
<circle cx="453.50" cy="85.76" r="0.55" fill="#3c3ca8"/>
<circle cx="453.62" cy="88.01" r="0.55" fill="#3c3ca8"/>
<circle cx="453.06" cy="87.73" r="0.55" fill="#3c3ca8"/>
<circle cx="451.19" cy="83.51" r="0.55" fill="#3c3ca8"/>
<circle cx="452.23" cy="79.92" r="0.55" fill="#3c3ca8"/>
<circle cx="447.70" cy="88.63" r="0.55" fill="#3c3ca8"/>
<circle cx="454.03" cy="85.26" r="0.55" fill="#3c3ca8"/>
<circle cx="452.74" cy="88.95" r="0.55" fill="#3c3ca8"/>
<circle cx="454.86" cy="81.19" r="0.55" fill="#3c3ca8"/>
<circle cx="451.98" cy="77.72" r="0.55" fill="#3c3ca8"/>
<circle cx="449.49" cy="84.87" r="0.55" fill="#3c3ca8"/>
<circle cx="452.77" cy="83.77" r="0.55" fill="#3c3ca8"/>
<circle cx="455.66" cy="84.44" r="0.55" fill="#3c3ca8"/>
<circle cx="454.07" cy="84.65" r="0.55" fill="#3c3ca8"/>
<circle cx="452.23" cy="77.68" r="0.55" fill="#3c3ca8"/>
<circle cx="449.32" cy="85.62" r="0.55" fill="#3c3ca8"/>
<circle cx="456.22" cy="83.50" r="0.55" fill="#3c3ca8"/>
<circle cx="450.62" cy="82.76" r="0.55" fill="#3c3ca8"/>
<circle cx="454.95" cy="85.05" r="0.55" fill="#3c3ca8"/>
<circle cx="455.70" cy="83.04" r="0.55" fill="#3c3ca8"/>
<circle cx="452.24" cy="81.60" r="0.55" fill="#3c3ca8"/>
<circle cx="447.68" cy="87.13" r="0.55" fill="#3c3ca8"/>
<circle cx="458.42" cy="84.51" r="0.55" fill="#3c3ca8"/>
<circle cx="451.26" cy="86.76" r="0.55" fill="#3c3ca8"/>
<circle cx="453.47" cy="85.46" r="0.55" fill="#3c3ca8"/>
<circle cx="450.64" cy="80.41" r="0.55" fill="#3c3ca8"/>
<circle cx="457.76" cy="82.31" r="0.55" fill="#3c3ca8"/>
<circle cx="454.72" cy="84.98" r="0.55" fill="#3c3ca8"/>
<circle cx="457.43" cy="76.58" r="0.55" fill="#3c3ca8"/>
<circle cx="436.50" cy="81.00" r="0.55" fill="#3c3ca8"/>
<circle cx="434.00" cy="75.00" r="0.55" fill="#3c3ca8"/>
<circle cx="431.00" cy="83.50" r="0.55" fill="#3c3ca8"/>
<circle cx="441.00" cy="62.00" r="0.55" fill="#3c3ca8"/>
<circle cx="444.00" cy="69.00" r="0.55" fill="#3c3ca8"/>
<circle cx="446.00" cy="73.00" r="0.55" fill="#3c3ca8"/>
<circle cx="438.50" cy="80.00" r="0.55" fill="#3c3ca8"/>
<circle cx="487.05" cy="67.19" r="0.6" fill="#d8341f"/>
<circle cx="471.65" cy="70.24" r="0.6" fill="#d8341f"/>
<circle cx="470.98" cy="78.35" r="0.6" fill="#d8341f"/>
<circle cx="487.65" cy="48.06" r="0.6" fill="#d8341f"/>
<circle cx="482.34" cy="81.07" r="0.6" fill="#d8341f"/>
<circle cx="483.10" cy="68.58" r="0.6" fill="#d8341f"/>
<circle cx="492.34" cy="81.81" r="0.6" fill="#d8341f"/>
<circle cx="483.14" cy="88.80" r="0.6" fill="#d8341f"/>
<circle cx="474.22" cy="85.02" r="0.6" fill="#d8341f"/>
<circle cx="468.92" cy="83.91" r="0.6" fill="#d8341f"/>
<circle cx="469.01" cy="80.12" r="0.6" fill="#d8341f"/>
<circle cx="469.82" cy="52.23" r="0.6" fill="#d8341f"/>
<circle cx="476.13" cy="82.53" r="0.6" fill="#d8341f"/>
<circle cx="484.78" cy="77.57" r="0.6" fill="#d8341f"/>
<circle cx="478.38" cy="74.23" r="0.6" fill="#d8341f"/>
<circle cx="469.56" cy="89.04" r="0.6" fill="#d8341f"/>
<circle cx="480.31" cy="84.40" r="0.6" fill="#d8341f"/>
<circle cx="476.78" cy="80.15" r="0.6" fill="#d8341f"/>
<circle cx="470.64" cy="81.04" r="0.6" fill="#d8341f"/>
<circle cx="468.66" cy="77.58" r="0.6" fill="#d8341f"/>
<circle cx="471.97" cy="76.92" r="0.6" fill="#d8341f"/>
<circle cx="470.09" cy="87.20" r="0.6" fill="#d8341f"/>
<circle cx="473.40" cy="85.74" r="0.6" fill="#d8341f"/>
<circle cx="471.61" cy="69.04" r="0.6" fill="#d8341f"/>
<circle cx="469.82" cy="73.82" r="0.6" fill="#d8341f"/>
<circle cx="480.38" cy="72.57" r="0.6" fill="#d8341f"/>
<circle cx="487.51" cy="88.65" r="0.6" fill="#d8341f"/>
<circle cx="487.55" cy="73.44" r="0.6" fill="#d8341f"/>
<circle cx="474.43" cy="75.64" r="0.6" fill="#d8341f"/>
<circle cx="477.99" cy="58.21" r="0.6" fill="#d8341f"/>
<circle cx="469.88" cy="70.74" r="0.6" fill="#d8341f"/>
<circle cx="478.24" cy="58.44" r="0.6" fill="#d8341f"/>
<circle cx="471.13" cy="87.69" r="0.6" fill="#d8341f"/>
<circle cx="492.96" cy="84.75" r="0.6" fill="#d8341f"/>
<circle cx="483.59" cy="87.56" r="0.6" fill="#d8341f"/>
<circle cx="477.73" cy="89.84" r="0.6" fill="#d8341f"/>
<circle cx="470.03" cy="84.93" r="0.6" fill="#d8341f"/>
<circle cx="476.70" cy="77.64" r="0.6" fill="#d8341f"/>
<circle cx="467.70" cy="73.92" r="0.6" fill="#d8341f"/>
<circle cx="473.43" cy="66.65" r="0.6" fill="#d8341f"/>
<circle cx="468.96" cy="78.33" r="0.6" fill="#d8341f"/>
<circle cx="478.80" cy="84.44" r="0.6" fill="#d8341f"/>
<circle cx="472.00" cy="89.47" r="0.6" fill="#d8341f"/>
<circle cx="484.04" cy="54.62" r="0.6" fill="#d8341f"/>
<circle cx="488.28" cy="73.78" r="0.6" fill="#d8341f"/>
<circle cx="477.79" cy="64.52" r="0.6" fill="#d8341f"/>
<circle cx="487.07" cy="85.32" r="0.6" fill="#d8341f"/>
<circle cx="478.07" cy="58.41" r="0.6" fill="#d8341f"/>
<circle cx="479.85" cy="66.90" r="0.6" fill="#d8341f"/>
<circle cx="477.96" cy="75.84" r="0.6" fill="#d8341f"/>
<circle cx="467.62" cy="89.48" r="0.6" fill="#d8341f"/>
<circle cx="477.61" cy="89.49" r="0.6" fill="#d8341f"/>
<circle cx="471.35" cy="87.39" r="0.6" fill="#d8341f"/>
<circle cx="481.01" cy="66.74" r="0.6" fill="#d8341f"/>
<circle cx="474.28" cy="78.00" r="0.6" fill="#d8341f"/>
<circle cx="469.38" cy="85.79" r="0.6" fill="#d8341f"/>
<circle cx="472.49" cy="56.43" r="0.6" fill="#d8341f"/>
<circle cx="480.68" cy="83.32" r="0.6" fill="#d8341f"/>
<circle cx="480.81" cy="49.72" r="0.6" fill="#d8341f"/>
<circle cx="468.90" cy="79.28" r="0.6" fill="#d8341f"/>
<circle cx="493.56" cy="79.82" r="0.6" fill="#d8341f"/>
<circle cx="472.28" cy="81.59" r="0.6" fill="#d8341f"/>
<circle cx="477.05" cy="82.15" r="0.6" fill="#d8341f"/>
<circle cx="468.77" cy="80.32" r="0.6" fill="#d8341f"/>
<circle cx="494.50" cy="51.80" r="0.6" fill="#d8341f"/>
<circle cx="483.71" cy="83.28" r="0.6" fill="#d8341f"/>
<circle cx="490.57" cy="78.16" r="0.6" fill="#d8341f"/>
<circle cx="469.26" cy="82.79" r="0.6" fill="#d8341f"/>
<circle cx="477.78" cy="87.90" r="0.6" fill="#d8341f"/>
<circle cx="481.70" cy="63.84" r="0.6" fill="#d8341f"/>
<circle cx="473.79" cy="88.02" r="0.6" fill="#d8341f"/>
<circle cx="494.17" cy="77.44" r="0.6" fill="#d8341f"/>
<circle cx="469.14" cy="83.89" r="0.6" fill="#d8341f"/>
<circle cx="477.64" cy="87.71" r="0.6" fill="#d8341f"/>
<circle cx="475.19" cy="87.40" r="0.6" fill="#d8341f"/>
<circle cx="475.48" cy="85.08" r="0.6" fill="#d8341f"/>
<circle cx="485.73" cy="75.54" r="0.6" fill="#d8341f"/>
<circle cx="480.19" cy="73.60" r="0.6" fill="#d8341f"/>
<circle cx="478.14" cy="74.03" r="0.6" fill="#d8341f"/>
<circle cx="477.57" cy="88.22" r="0.6" fill="#d8341f"/>
<circle cx="475.40" cy="68.74" r="0.6" fill="#d8341f"/>
<circle cx="484.41" cy="86.16" r="0.6" fill="#d8341f"/>
<circle cx="485.86" cy="51.43" r="0.6" fill="#d8341f"/>
<circle cx="472.89" cy="71.75" r="0.6" fill="#d8341f"/>
<circle cx="468.20" cy="85.22" r="0.6" fill="#d8341f"/>
<circle cx="473.26" cy="79.39" r="0.6" fill="#d8341f"/>
<circle cx="489.14" cy="89.84" r="0.6" fill="#d8341f"/>
<circle cx="472.62" cy="78.81" r="0.6" fill="#d8341f"/>
<circle cx="476.51" cy="89.57" r="0.6" fill="#d8341f"/>
<circle cx="482.37" cy="86.33" r="0.6" fill="#d8341f"/>
<circle cx="491.07" cy="76.72" r="0.6" fill="#d8341f"/>
<circle cx="467.74" cy="85.83" r="0.6" fill="#d8341f"/>
<circle cx="472.27" cy="64.11" r="0.6" fill="#d8341f"/>
<circle cx="485.80" cy="62.42" r="0.6" fill="#d8341f"/>
<circle cx="467.50" cy="79.92" r="0.6" fill="#d8341f"/>
<circle cx="473.45" cy="68.38" r="0.6" fill="#d8341f"/>
<circle cx="481.08" cy="75.10" r="0.6" fill="#d8341f"/>
<circle cx="481.66" cy="86.03" r="0.6" fill="#d8341f"/>
<circle cx="468.32" cy="59.10" r="0.6" fill="#d8341f"/>
<circle cx="480.83" cy="82.21" r="0.6" fill="#d8341f"/>
<circle cx="469.72" cy="80.56" r="0.6" fill="#d8341f"/>
<circle cx="474.59" cy="88.22" r="0.6" fill="#d8341f"/>
<circle cx="473.02" cy="80.88" r="0.6" fill="#d8341f"/>
<circle cx="475.06" cy="64.35" r="0.6" fill="#d8341f"/>
<circle cx="488.18" cy="83.55" r="0.6" fill="#d8341f"/>
<circle cx="481.35" cy="88.36" r="0.6" fill="#d8341f"/>
<circle cx="483.05" cy="86.21" r="0.6" fill="#d8341f"/>
<circle cx="467.52" cy="85.71" r="0.6" fill="#d8341f"/>
<circle cx="478.36" cy="69.21" r="0.6" fill="#d8341f"/>
<circle cx="478.24" cy="60.83" r="0.6" fill="#d8341f"/>
<circle cx="473.73" cy="86.09" r="0.6" fill="#d8341f"/>
<circle cx="469.07" cy="71.38" r="0.6" fill="#d8341f"/>
<circle cx="472.67" cy="74.16" r="0.6" fill="#d8341f"/>
<circle cx="488.91" cy="87.67" r="0.6" fill="#d8341f"/>
<circle cx="479.02" cy="58.67" r="0.6" fill="#d8341f"/>
<circle cx="473.80" cy="71.82" r="0.6" fill="#d8341f"/>
<circle cx="476.05" cy="86.95" r="0.6" fill="#d8341f"/>
<circle cx="475.73" cy="81.62" r="0.6" fill="#d8341f"/>
<circle cx="470.24" cy="76.59" r="0.6" fill="#d8341f"/>
<circle cx="477.61" cy="75.86" r="0.6" fill="#d8341f"/>
<circle cx="483.43" cy="88.03" r="0.6" fill="#d8341f"/>
<circle cx="479.24" cy="64.81" r="0.6" fill="#d8341f"/>
<circle cx="475.61" cy="84.20" r="0.6" fill="#d8341f"/>
<circle cx="483.01" cy="76.84" r="0.6" fill="#d8341f"/>
<circle cx="485.93" cy="76.31" r="0.6" fill="#d8341f"/>
<circle cx="472.12" cy="74.75" r="0.6" fill="#d8341f"/>
<circle cx="473.81" cy="82.64" r="0.6" fill="#d8341f"/>
<circle cx="468.15" cy="85.39" r="0.6" fill="#d8341f"/>
<circle cx="468.83" cy="62.98" r="0.6" fill="#d8341f"/>
<circle cx="468.08" cy="81.09" r="0.6" fill="#d8341f"/>
<circle cx="473.00" cy="64.59" r="0.6" fill="#d8341f"/>
<circle cx="469.67" cy="78.49" r="0.6" fill="#d8341f"/>
<circle cx="471.72" cy="83.19" r="0.6" fill="#d8341f"/>
<circle cx="473.79" cy="79.47" r="0.6" fill="#d8341f"/>
<circle cx="469.69" cy="84.32" r="0.6" fill="#d8341f"/>
<circle cx="486.96" cy="87.83" r="0.6" fill="#d8341f"/>
<circle cx="476.60" cy="88.46" r="0.6" fill="#d8341f"/>
<circle cx="470.36" cy="78.73" r="0.6" fill="#d8341f"/>
<circle cx="474.16" cy="53.93" r="0.6" fill="#d8341f"/>
<circle cx="475.71" cy="80.47" r="0.6" fill="#d8341f"/>
<circle cx="469.44" cy="68.17" r="0.6" fill="#d8341f"/>
<circle cx="470.51" cy="74.25" r="0.6" fill="#d8341f"/>
<circle cx="470.87" cy="86.73" r="0.6" fill="#d8341f"/>
<circle cx="482.90" cy="76.38" r="0.6" fill="#d8341f"/>
<circle cx="479.57" cy="75.92" r="0.6" fill="#d8341f"/>
<circle cx="476.26" cy="76.52" r="0.6" fill="#d8341f"/>
<circle cx="481.89" cy="65.92" r="0.6" fill="#d8341f"/>
<circle cx="481.72" cy="69.53" r="0.6" fill="#d8341f"/>
<circle cx="478.33" cy="86.81" r="0.6" fill="#d8341f"/>
<circle cx="481.36" cy="81.81" r="0.6" fill="#d8341f"/>
<circle cx="474.44" cy="84.44" r="0.6" fill="#d8341f"/>
<circle cx="480.64" cy="86.02" r="0.6" fill="#d8341f"/>
<circle cx="479.69" cy="83.74" r="0.6" fill="#d8341f"/>
<circle cx="468.26" cy="65.89" r="0.6" fill="#d8341f"/>
<circle cx="473.67" cy="82.96" r="0.6" fill="#d8341f"/>
<circle cx="470.63" cy="85.39" r="0.6" fill="#d8341f"/>
<circle cx="478.13" cy="84.53" r="0.6" fill="#d8341f"/>
<circle cx="469.80" cy="89.52" r="0.6" fill="#d8341f"/>
<circle cx="476.02" cy="84.83" r="0.6" fill="#d8341f"/>
<circle cx="484.45" cy="61.62" r="0.6" fill="#d8341f"/>
<circle cx="476.77" cy="87.25" r="0.6" fill="#d8341f"/>
<circle cx="472.81" cy="84.06" r="0.6" fill="#d8341f"/>
<circle cx="471.89" cy="76.07" r="0.6" fill="#d8341f"/>
<circle cx="486.65" cy="87.48" r="0.6" fill="#d8341f"/>
<circle cx="468.84" cy="87.29" r="0.6" fill="#d8341f"/>
<circle cx="478.13" cy="83.10" r="0.6" fill="#d8341f"/>
<circle cx="479.89" cy="61.31" r="0.6" fill="#d8341f"/>
<circle cx="485.84" cy="77.49" r="0.6" fill="#d8341f"/>
<circle cx="467.99" cy="84.66" r="0.6" fill="#d8341f"/>
<circle cx="472.97" cy="80.72" r="0.6" fill="#d8341f"/>
<circle cx="469.24" cy="81.15" r="0.6" fill="#d8341f"/>
<circle cx="469.22" cy="86.64" r="0.6" fill="#d8341f"/>
<circle cx="479.15" cy="83.59" r="0.6" fill="#d8341f"/>
<circle cx="471.58" cy="83.09" r="0.65" fill="#d8341f"/>
<circle cx="472.80" cy="84.08" r="0.65" fill="#d8341f"/>
<circle cx="472.94" cy="87.33" r="0.65" fill="#d8341f"/>
<circle cx="468.60" cy="83.64" r="0.65" fill="#d8341f"/>
<circle cx="469.60" cy="87.70" r="0.65" fill="#d8341f"/>
<circle cx="470.54" cy="85.09" r="0.65" fill="#d8341f"/>
<circle cx="473.99" cy="83.81" r="0.65" fill="#d8341f"/>
<circle cx="469.69" cy="84.76" r="0.65" fill="#d8341f"/>
<circle cx="469.12" cy="82.33" r="0.65" fill="#d8341f"/>
<circle cx="467.68" cy="87.04" r="0.65" fill="#d8341f"/>
<circle cx="471.74" cy="88.47" r="0.65" fill="#d8341f"/>
<circle cx="474.82" cy="84.38" r="0.65" fill="#d8341f"/>
<circle cx="472.53" cy="89.35" r="0.65" fill="#d8341f"/>
<circle cx="469.12" cy="87.51" r="0.65" fill="#d8341f"/>
<circle cx="472.50" cy="89.64" r="0.65" fill="#d8341f"/>
<circle cx="474.01" cy="83.88" r="0.65" fill="#d8341f"/>
<circle cx="472.24" cy="82.72" r="0.65" fill="#d8341f"/>
<circle cx="470.71" cy="85.14" r="0.65" fill="#d8341f"/>
<circle cx="467.95" cy="85.07" r="0.65" fill="#d8341f"/>
<circle cx="469.96" cy="85.98" r="0.65" fill="#d8341f"/>
<circle cx="469.60" cy="83.27" r="0.65" fill="#d8341f"/>
<circle cx="470.52" cy="85.80" r="0.65" fill="#d8341f"/>
<circle cx="468.75" cy="87.32" r="0.65" fill="#d8341f"/>
<circle cx="469.30" cy="82.74" r="0.65" fill="#d8341f"/>
<circle cx="470.06" cy="85.38" r="0.65" fill="#d8341f"/>
<circle cx="468.63" cy="86.66" r="0.65" fill="#d8341f"/>
<circle cx="472.76" cy="86.43" r="0.65" fill="#d8341f"/>
<circle cx="472.75" cy="82.18" r="0.65" fill="#d8341f"/>
<circle cx="470.44" cy="84.91" r="0.65" fill="#d8341f"/>
<circle cx="467.97" cy="85.23" r="0.65" fill="#d8341f"/>
<circle cx="467.91" cy="85.96" r="0.65" fill="#d8341f"/>
<circle cx="471.89" cy="85.75" r="0.65" fill="#d8341f"/>
<circle cx="469.94" cy="84.03" r="0.65" fill="#d8341f"/>
<circle cx="467.68" cy="84.78" r="0.65" fill="#d8341f"/>
<circle cx="474.19" cy="86.53" r="0.65" fill="#d8341f"/>
<circle cx="469.46" cy="87.34" r="0.65" fill="#d8341f"/>
<circle cx="468.90" cy="85.75" r="0.65" fill="#d8341f"/>
<circle cx="472.11" cy="89.64" r="0.65" fill="#d8341f"/>
<circle cx="470.22" cy="86.61" r="0.65" fill="#d8341f"/>
<circle cx="474.57" cy="88.17" r="0.65" fill="#d8341f"/>
<circle cx="472.21" cy="86.97" r="0.65" fill="#d8341f"/>
<circle cx="470.58" cy="85.32" r="0.65" fill="#d8341f"/>
<circle cx="469.57" cy="88.64" r="0.65" fill="#d8341f"/>
<circle cx="474.10" cy="85.06" r="0.65" fill="#d8341f"/>
<circle cx="474.32" cy="82.31" r="0.65" fill="#d8341f"/>
<circle cx="473.90" cy="41.50" r="0.55" fill="#d8341f"/>
<circle cx="478.50" cy="38.50" r="0.55" fill="#d8341f"/>
<circle cx="484.00" cy="38.50" r="0.55" fill="#d8341f"/>
<circle cx="489.00" cy="38.50" r="0.55" fill="#d8341f"/>
<circle cx="500.60" cy="54.50" r="0.55" fill="#d8341f"/>
<circle cx="492.70" cy="64.60" r="0.55" fill="#d8341f"/>
<circle cx="508.50" cy="67.50" r="0.55" fill="#d8341f"/>
<circle cx="500.60" cy="78.30" r="0.55" fill="#d8341f"/>
<circle cx="501.30" cy="85.50" r="0.55" fill="#d8341f"/>
<circle cx="508.50" cy="86.20" r="0.55" fill="#d8341f"/>
<line x1="424.40" y1="37.50" x2="424.40" y2="121.40" stroke="#222" stroke-width="0.8"/>
<line x1="424.00" y1="121.00" x2="513.50" y2="121.00" stroke="#222" stroke-width="0.8"/>
<line x1="422.20" y1="114.30" x2="424.40" y2="114.30" stroke="#222" stroke-width="0.6"/>
<text transform="translate(418.60,116.20)" font-size="5.3" fill="#1a1a1a" text-anchor="end">0</text>
<line x1="422.20" y1="89.70" x2="424.40" y2="89.70" stroke="#222" stroke-width="0.6"/>
<text transform="translate(418.60,91.60)" font-size="5.3" fill="#1a1a1a" text-anchor="end">2</text>
<line x1="422.20" y1="65.10" x2="424.40" y2="65.10" stroke="#222" stroke-width="0.6"/>
<text transform="translate(418.60,67.00)" font-size="5.3" fill="#1a1a1a" text-anchor="end">4</text>
<line x1="422.20" y1="40.50" x2="424.40" y2="40.50" stroke="#222" stroke-width="0.6"/>
<text transform="translate(418.60,42.40)" font-size="5.3" fill="#1a1a1a" text-anchor="end">6</text>
<line x1="424.70" y1="121.00" x2="424.70" y2="123.40" stroke="#222" stroke-width="0.6"/>
<text transform="translate(423.80,132.20)" font-size="5.3" fill="#1a1a1a" text-anchor="middle">−6</text>
<line x1="437.10" y1="121.00" x2="437.10" y2="123.40" stroke="#222" stroke-width="0.6"/>
<text transform="translate(436.20,132.20)" font-size="5.3" fill="#1a1a1a" text-anchor="middle">−4</text>
<line x1="449.50" y1="121.00" x2="449.50" y2="123.40" stroke="#222" stroke-width="0.6"/>
<text transform="translate(448.60,132.20)" font-size="5.3" fill="#1a1a1a" text-anchor="middle">−2</text>
<line x1="461.90" y1="121.00" x2="461.90" y2="123.40" stroke="#222" stroke-width="0.6"/>
<text transform="translate(461.90,132.20)" font-size="5.3" fill="#1a1a1a" text-anchor="middle">0</text>
<line x1="474.30" y1="121.00" x2="474.30" y2="123.40" stroke="#222" stroke-width="0.6"/>
<text transform="translate(474.30,132.20)" font-size="5.3" fill="#1a1a1a" text-anchor="middle">2</text>
<line x1="486.70" y1="121.00" x2="486.70" y2="123.40" stroke="#222" stroke-width="0.6"/>
<text transform="translate(486.70,132.20)" font-size="5.3" fill="#1a1a1a" text-anchor="middle">4</text>
<line x1="499.10" y1="121.00" x2="499.10" y2="123.40" stroke="#222" stroke-width="0.6"/>
<text transform="translate(499.10,132.20)" font-size="5.3" fill="#1a1a1a" text-anchor="middle">6</text>
<line x1="511.50" y1="121.00" x2="511.50" y2="123.40" stroke="#222" stroke-width="0.6"/>
<text transform="translate(511.50,132.20)" font-size="5.3" fill="#1a1a1a" text-anchor="middle">8</text>
<text transform="translate(469.00,143.80) scale(0.75,1)" font-size="7.3" fill="#1a1a1a" class="b" text-anchor="middle">Log<tspan font-size="4.53" dy="1.6">2</tspan><tspan dy="-1.6"> fold change</tspan></text>
<text transform="translate(468.80,150.60) scale(0.75,1)" font-size="7.3" fill="#1a1a1a" class="b" text-anchor="middle">(stimulated vs. unstimulated)</text>
<text transform="translate(410.90,77.80) rotate(-90) scale(0.75,1)" font-size="7.3" fill="#1a1a1a" class="b" text-anchor="middle">−Log<tspan font-size="4.53" dy="1.6">10</tspan><tspan dy="-1.6"> Adj. </tspan><tspan font-style="italic">P</tspan>-value</text>
<text transform="translate(6.90,168.70)" font-size="10.5" fill="#111" font-weight="bold">E</text>
<circle cx="33.70" cy="180.60" r="1.6" fill="#1b2a4a"/>
<text transform="translate(38.40,182.70)" font-size="6" fill="#1a1a1a">Down regulated</text>
<circle cx="87.60" cy="180.60" r="1.6" fill="#7a1a2a"/>
<text transform="translate(91.80,182.70)" font-size="6" fill="#1a1a1a">Upregulated</text>
<text transform="translate(46.40,191.40)" font-size="6.1" fill="#1a1a1a" font-style="italic">180 Genes</text>
<text transform="translate(88.40,191.40)" font-size="6.1" fill="#1a1a1a" font-style="italic">23 Genes</text>
<line x1="80.90" y1="196.00" x2="80.90" y2="281.00" stroke="#e6e6e6" stroke-width="0.5"/>
<line x1="95.18" y1="196.00" x2="95.18" y2="281.00" stroke="#e6e6e6" stroke-width="0.5"/>
<line x1="109.46" y1="196.00" x2="109.46" y2="281.00" stroke="#e6e6e6" stroke-width="0.5"/>
<line x1="38.50" y1="277.40" x2="126.00" y2="277.40" stroke="#e6e6e6" stroke-width="0.5"/>
<line x1="38.50" y1="224.00" x2="126.00" y2="224.00" stroke="#e6e6e6" stroke-width="0.5"/>
<path d="M63,251.2 C58,254 53,258 51.5,263 C50.5,267 52,272 56,275 C60,277 66,277.6 72,277.8 L81,278 C88,277.8 97,277.6 104,276.8 C109,276 111.5,273 111,269 C110,264 106,259 100,255.5 C96,253.5 91,253.8 88.5,256.5 C86,262 84,268 81.1,276 C79.5,268 78,259 76.5,251.2 Z" fill="#d9d9d9"/>
<path d="M65.5,252 C62,255 58,258.5 56.8,262.5 C56.5,266 57.5,270 59.5,273 C61.5,275.5 64,276.6 68,276.8 C74,277 78,277 81.1,277 C86,277 94,276.8 100,276.5 C103.5,276 105,273.5 104.5,270 C103.5,265 100,260 96,256.5 C93.5,254.5 90.5,255.5 88.5,258 C86,262 84,268 81.1,276 C79.5,268 78,259 76.5,252 Z" fill="#c8c8c8"/>
<circle cx="61.54" cy="263.72" r="0.6" fill="#c2c2c2"/>
<circle cx="54.79" cy="271.71" r="0.6" fill="#c2c2c2"/>
<circle cx="65.21" cy="260.96" r="0.6" fill="#c2c2c2"/>
<circle cx="110.50" cy="259.34" r="0.6" fill="#c2c2c2"/>
<circle cx="94.70" cy="268.17" r="0.6" fill="#c2c2c2"/>
<circle cx="48.71" cy="259.89" r="0.6" fill="#c2c2c2"/>
<circle cx="74.40" cy="265.58" r="0.6" fill="#c2c2c2"/>
<circle cx="61.91" cy="263.86" r="0.6" fill="#c2c2c2"/>
<circle cx="100.17" cy="258.80" r="0.6" fill="#c2c2c2"/>
<circle cx="107.86" cy="271.54" r="0.6" fill="#c2c2c2"/>
<circle cx="86.67" cy="270.78" r="0.6" fill="#c2c2c2"/>
<circle cx="50.25" cy="256.63" r="0.6" fill="#c2c2c2"/>
<circle cx="98.50" cy="274.41" r="0.6" fill="#c2c2c2"/>
<circle cx="59.83" cy="261.34" r="0.6" fill="#c2c2c2"/>
<circle cx="103.39" cy="262.89" r="0.6" fill="#c2c2c2"/>
<circle cx="77.27" cy="276.82" r="0.6" fill="#c2c2c2"/>
<circle cx="73.48" cy="264.03" r="0.6" fill="#c2c2c2"/>
<circle cx="95.93" cy="268.00" r="0.6" fill="#c2c2c2"/>
<circle cx="89.62" cy="268.32" r="0.6" fill="#c2c2c2"/>
<circle cx="69.78" cy="275.14" r="0.6" fill="#c2c2c2"/>
<circle cx="72.89" cy="266.73" r="0.6" fill="#c2c2c2"/>
<circle cx="68.50" cy="272.25" r="0.6" fill="#c2c2c2"/>
<circle cx="98.00" cy="262.62" r="0.6" fill="#c2c2c2"/>
<circle cx="87.35" cy="276.04" r="0.6" fill="#c2c2c2"/>
<circle cx="49.75" cy="276.72" r="0.6" fill="#c2c2c2"/>
<circle cx="56.51" cy="257.80" r="0.6" fill="#c2c2c2"/>
<circle cx="97.79" cy="272.52" r="0.6" fill="#c2c2c2"/>
<circle cx="98.91" cy="265.11" r="0.6" fill="#c2c2c2"/>
<circle cx="102.58" cy="260.67" r="0.6" fill="#c2c2c2"/>
<circle cx="68.11" cy="255.85" r="0.6" fill="#c2c2c2"/>
<circle cx="56.43" cy="276.58" r="0.6" fill="#c2c2c2"/>
<circle cx="112.40" cy="265.02" r="0.6" fill="#c2c2c2"/>
<circle cx="76.04" cy="270.08" r="0.6" fill="#c2c2c2"/>
<circle cx="63.35" cy="256.91" r="0.6" fill="#c2c2c2"/>
<circle cx="101.21" cy="267.83" r="0.6" fill="#c2c2c2"/>
<circle cx="49.15" cy="266.32" r="0.6" fill="#c2c2c2"/>
<circle cx="92.04" cy="260.35" r="0.6" fill="#c2c2c2"/>
<circle cx="106.40" cy="254.24" r="0.6" fill="#c2c2c2"/>
<circle cx="97.88" cy="267.65" r="0.6" fill="#c2c2c2"/>
<circle cx="95.44" cy="273.59" r="0.6" fill="#c2c2c2"/>
<circle cx="95.59" cy="276.05" r="0.6" fill="#c2c2c2"/>
<circle cx="105.17" cy="257.07" r="0.6" fill="#c2c2c2"/>
<circle cx="67.60" cy="262.89" r="0.6" fill="#c2c2c2"/>
<circle cx="67.07" cy="273.62" r="0.6" fill="#c2c2c2"/>
<circle cx="103.84" cy="261.46" r="0.6" fill="#c2c2c2"/>
<circle cx="69.34" cy="269.60" r="0.6" fill="#c2c2c2"/>
<circle cx="104.02" cy="255.06" r="0.6" fill="#c2c2c2"/>
<circle cx="106.90" cy="272.19" r="0.6" fill="#c2c2c2"/>
<circle cx="55.56" cy="263.33" r="0.6" fill="#c2c2c2"/>
<circle cx="66.46" cy="269.64" r="0.6" fill="#c2c2c2"/>
<circle cx="60.74" cy="269.27" r="0.6" fill="#c2c2c2"/>
<circle cx="98.32" cy="260.79" r="0.6" fill="#c2c2c2"/>
<circle cx="46.30" cy="254.01" r="0.6" fill="#c2c2c2"/>
<circle cx="89.32" cy="265.69" r="0.6" fill="#c2c2c2"/>
<circle cx="103.59" cy="270.09" r="0.6" fill="#c2c2c2"/>
<circle cx="64.50" cy="265.80" r="0.6" fill="#c2c2c2"/>
<circle cx="44.57" cy="276.83" r="0.6" fill="#c2c2c2"/>
<circle cx="68.95" cy="272.27" r="0.6" fill="#c2c2c2"/>
<circle cx="97.62" cy="264.31" r="0.6" fill="#c2c2c2"/>
<circle cx="108.85" cy="264.18" r="0.6" fill="#c2c2c2"/>
<circle cx="67.52" cy="261.43" r="0.6" fill="#c2c2c2"/>
<circle cx="66.41" cy="262.56" r="0.6" fill="#c2c2c2"/>
<circle cx="68.66" cy="269.46" r="0.6" fill="#c2c2c2"/>
<circle cx="94.37" cy="259.44" r="0.6" fill="#c2c2c2"/>
<circle cx="56.75" cy="263.91" r="0.6" fill="#c2c2c2"/>
<circle cx="99.70" cy="265.03" r="0.6" fill="#c2c2c2"/>
<circle cx="65.18" cy="269.79" r="0.6" fill="#c2c2c2"/>
<circle cx="98.33" cy="271.45" r="0.6" fill="#c2c2c2"/>
<circle cx="93.24" cy="275.08" r="0.6" fill="#c2c2c2"/>
<circle cx="60.18" cy="267.18" r="0.6" fill="#c2c2c2"/>
<circle cx="122.39" cy="254.15" r="0.6" fill="#c2c2c2"/>
<circle cx="60.22" cy="259.45" r="0.6" fill="#c2c2c2"/>
<circle cx="74.54" cy="275.56" r="0.6" fill="#c2c2c2"/>
<circle cx="91.81" cy="275.99" r="0.6" fill="#c2c2c2"/>
<circle cx="97.01" cy="258.73" r="0.6" fill="#c2c2c2"/>
<circle cx="57.90" cy="258.15" r="0.6" fill="#c2c2c2"/>
<circle cx="68.77" cy="268.87" r="0.6" fill="#c2c2c2"/>
<circle cx="61.95" cy="266.75" r="0.6" fill="#c2c2c2"/>
<circle cx="51.36" cy="263.41" r="0.6" fill="#c2c2c2"/>
<circle cx="69.83" cy="258.45" r="0.6" fill="#c2c2c2"/>
<circle cx="73.45" cy="276.00" r="0.6" fill="#c2c2c2"/>
<circle cx="73.36" cy="269.47" r="0.6" fill="#c2c2c2"/>
<circle cx="47.55" cy="264.28" r="0.6" fill="#c2c2c2"/>
<circle cx="55.72" cy="257.63" r="0.6" fill="#c2c2c2"/>
<circle cx="57.73" cy="265.38" r="0.6" fill="#c2c2c2"/>
<circle cx="62.61" cy="274.31" r="0.6" fill="#c2c2c2"/>
<circle cx="100.85" cy="255.13" r="0.6" fill="#c2c2c2"/>
<circle cx="56.62" cy="261.78" r="0.6" fill="#c2c2c2"/>
<circle cx="98.52" cy="273.40" r="0.6" fill="#c2c2c2"/>
<circle cx="112.01" cy="274.32" r="0.6" fill="#c2c2c2"/>
<circle cx="62.97" cy="274.44" r="0.6" fill="#c2c2c2"/>
<circle cx="94.18" cy="271.46" r="0.6" fill="#c2c2c2"/>
<circle cx="102.05" cy="264.84" r="0.6" fill="#c2c2c2"/>
<circle cx="92.25" cy="262.12" r="0.6" fill="#c2c2c2"/>
<circle cx="71.74" cy="267.49" r="0.6" fill="#c2c2c2"/>
<circle cx="99.04" cy="265.77" r="0.6" fill="#c2c2c2"/>
<circle cx="97.45" cy="258.37" r="0.6" fill="#c2c2c2"/>
<circle cx="68.18" cy="264.12" r="0.6" fill="#c2c2c2"/>
<circle cx="96.89" cy="269.02" r="0.6" fill="#c2c2c2"/>
<circle cx="92.41" cy="273.03" r="0.6" fill="#c2c2c2"/>
<circle cx="65.47" cy="252.53" r="0.6" fill="#c2c2c2"/>
<circle cx="54.29" cy="255.94" r="0.6" fill="#c2c2c2"/>
<circle cx="93.43" cy="265.36" r="0.6" fill="#c2c2c2"/>
<circle cx="75.13" cy="274.61" r="0.6" fill="#c2c2c2"/>
<circle cx="105.10" cy="274.89" r="0.6" fill="#c2c2c2"/>
<circle cx="89.63" cy="262.97" r="0.6" fill="#c2c2c2"/>
<circle cx="110.75" cy="254.26" r="0.6" fill="#c2c2c2"/>
<circle cx="60.16" cy="267.15" r="0.6" fill="#c2c2c2"/>
<circle cx="96.46" cy="257.71" r="0.6" fill="#c2c2c2"/>
<circle cx="104.52" cy="266.76" r="0.6" fill="#c2c2c2"/>
<circle cx="93.57" cy="263.33" r="0.6" fill="#c2c2c2"/>
<circle cx="68.69" cy="265.27" r="0.6" fill="#c2c2c2"/>
<circle cx="92.91" cy="254.62" r="0.6" fill="#c2c2c2"/>
<circle cx="69.43" cy="266.30" r="0.6" fill="#c2c2c2"/>
<circle cx="63.04" cy="254.23" r="0.6" fill="#c2c2c2"/>
<circle cx="90.66" cy="266.03" r="0.6" fill="#c2c2c2"/>
<circle cx="91.41" cy="259.52" r="0.6" fill="#c2c2c2"/>
<circle cx="65.62" cy="267.84" r="0.6" fill="#c2c2c2"/>
<circle cx="96.11" cy="259.82" r="0.6" fill="#c2c2c2"/>
<circle cx="53.67" cy="261.14" r="0.6" fill="#c2c2c2"/>
<circle cx="64.97" cy="263.20" r="0.6" fill="#c2c2c2"/>
<circle cx="76.51" cy="272.48" r="0.6" fill="#c2c2c2"/>
<circle cx="100.78" cy="270.81" r="0.6" fill="#c2c2c2"/>
<circle cx="96.31" cy="276.95" r="0.6" fill="#c2c2c2"/>
<circle cx="67.97" cy="272.22" r="0.6" fill="#c2c2c2"/>
<circle cx="70.62" cy="263.27" r="0.6" fill="#c2c2c2"/>
<circle cx="57.12" cy="267.53" r="0.6" fill="#c2c2c2"/>
<circle cx="89.69" cy="271.28" r="0.6" fill="#c2c2c2"/>
<circle cx="50.06" cy="257.89" r="0.6" fill="#c2c2c2"/>
<circle cx="101.50" cy="258.57" r="0.6" fill="#c2c2c2"/>
<circle cx="76.09" cy="274.48" r="0.6" fill="#c2c2c2"/>
<circle cx="61.71" cy="255.23" r="0.6" fill="#c2c2c2"/>
<circle cx="107.92" cy="260.09" r="0.6" fill="#c2c2c2"/>
<circle cx="94.21" cy="258.76" r="0.6" fill="#c2c2c2"/>
<circle cx="71.72" cy="269.68" r="0.6" fill="#c2c2c2"/>
<circle cx="63.01" cy="268.06" r="0.6" fill="#c2c2c2"/>
<circle cx="58.93" cy="256.43" r="0.6" fill="#c2c2c2"/>
<circle cx="70.66" cy="273.95" r="0.6" fill="#c2c2c2"/>
<circle cx="110.33" cy="267.68" r="0.6" fill="#c2c2c2"/>
<circle cx="67.81" cy="264.27" r="0.6" fill="#c2c2c2"/>
<circle cx="87.01" cy="268.62" r="0.6" fill="#c2c2c2"/>
<circle cx="89.46" cy="265.82" r="0.6" fill="#c2c2c2"/>
<circle cx="58.93" cy="271.63" r="0.6" fill="#c2c2c2"/>
<circle cx="60.18" cy="257.15" r="0.6" fill="#c2c2c2"/>
<circle cx="88.24" cy="267.41" r="0.6" fill="#c2c2c2"/>
<circle cx="60.90" cy="271.88" r="0.6" fill="#c2c2c2"/>
<circle cx="66.32" cy="259.87" r="0.6" fill="#c2c2c2"/>
<circle cx="71.22" cy="255.37" r="0.6" fill="#c2c2c2"/>
<circle cx="97.72" cy="273.49" r="0.6" fill="#c2c2c2"/>
<circle cx="72.79" cy="270.90" r="0.6" fill="#c2c2c2"/>
<circle cx="62.71" cy="253.67" r="0.6" fill="#c2c2c2"/>
<circle cx="55.95" cy="266.78" r="0.6" fill="#c2c2c2"/>
<circle cx="69.20" cy="272.36" r="0.6" fill="#c2c2c2"/>
<circle cx="63.59" cy="274.79" r="0.6" fill="#c2c2c2"/>
<circle cx="73.04" cy="271.51" r="0.6" fill="#c2c2c2"/>
<circle cx="48.09" cy="271.17" r="0.6" fill="#c2c2c2"/>
<circle cx="96.19" cy="258.19" r="0.6" fill="#c2c2c2"/>
<circle cx="116.41" cy="271.85" r="0.6" fill="#c2c2c2"/>
<circle cx="107.19" cy="266.20" r="0.6" fill="#c2c2c2"/>
<circle cx="59.22" cy="268.23" r="0.6" fill="#c2c2c2"/>
<circle cx="76.56" cy="271.93" r="0.6" fill="#c2c2c2"/>
<circle cx="65.14" cy="259.78" r="0.6" fill="#c2c2c2"/>
<circle cx="99.81" cy="271.33" r="0.6" fill="#c2c2c2"/>
<circle cx="64.51" cy="268.38" r="0.6" fill="#c2c2c2"/>
<circle cx="69.87" cy="257.41" r="0.6" fill="#c2c2c2"/>
<circle cx="71.92" cy="269.12" r="0.6" fill="#c2c2c2"/>
<circle cx="88.90" cy="264.89" r="0.6" fill="#c2c2c2"/>
<circle cx="92.08" cy="265.37" r="0.6" fill="#c2c2c2"/>
<circle cx="70.27" cy="259.92" r="0.6" fill="#c2c2c2"/>
<circle cx="61.37" cy="256.96" r="0.6" fill="#c2c2c2"/>
<circle cx="89.07" cy="259.30" r="0.6" fill="#c2c2c2"/>
<circle cx="107.41" cy="264.36" r="0.6" fill="#c2c2c2"/>
<circle cx="94.45" cy="273.13" r="0.6" fill="#c2c2c2"/>
<circle cx="88.03" cy="274.50" r="0.6" fill="#c2c2c2"/>
<circle cx="97.00" cy="257.35" r="0.6" fill="#c2c2c2"/>
<circle cx="97.87" cy="276.18" r="0.6" fill="#c2c2c2"/>
<circle cx="91.88" cy="276.46" r="0.6" fill="#c2c2c2"/>
<circle cx="73.34" cy="261.58" r="0.6" fill="#c2c2c2"/>
<circle cx="94.98" cy="272.27" r="0.6" fill="#c2c2c2"/>
<circle cx="103.02" cy="271.11" r="0.6" fill="#c2c2c2"/>
<circle cx="109.23" cy="272.94" r="0.6" fill="#c2c2c2"/>
<circle cx="72.34" cy="269.07" r="0.6" fill="#c2c2c2"/>
<circle cx="64.05" cy="268.43" r="0.6" fill="#c2c2c2"/>
<circle cx="71.77" cy="254.99" r="0.6" fill="#c2c2c2"/>
<circle cx="72.10" cy="253.86" r="0.6" fill="#c2c2c2"/>
<circle cx="66.22" cy="267.74" r="0.6" fill="#c2c2c2"/>
<circle cx="63.33" cy="264.51" r="0.6" fill="#c2c2c2"/>
<circle cx="53.36" cy="262.04" r="0.6" fill="#c2c2c2"/>
<circle cx="70.47" cy="270.08" r="0.6" fill="#c2c2c2"/>
<circle cx="58.30" cy="272.79" r="0.6" fill="#c2c2c2"/>
<circle cx="107.38" cy="259.91" r="0.6" fill="#c2c2c2"/>
<circle cx="90.63" cy="273.46" r="0.6" fill="#c2c2c2"/>
<circle cx="88.36" cy="272.83" r="0.6" fill="#c2c2c2"/>
<circle cx="75.62" cy="271.48" r="0.6" fill="#c2c2c2"/>
<circle cx="63.24" cy="260.32" r="0.6" fill="#c2c2c2"/>
<circle cx="70.33" cy="252.15" r="0.6" fill="#c2c2c2"/>
<circle cx="101.43" cy="266.75" r="0.6" fill="#c2c2c2"/>
<circle cx="106.41" cy="273.48" r="0.6" fill="#c2c2c2"/>
<circle cx="103.42" cy="256.24" r="0.6" fill="#c2c2c2"/>
<circle cx="109.29" cy="261.09" r="0.6" fill="#c2c2c2"/>
<circle cx="67.78" cy="271.68" r="0.6" fill="#c2c2c2"/>
<circle cx="104.84" cy="271.16" r="0.6" fill="#c2c2c2"/>
<circle cx="96.29" cy="261.00" r="0.6" fill="#c2c2c2"/>
<circle cx="73.48" cy="273.80" r="0.6" fill="#c2c2c2"/>
<circle cx="116.11" cy="275.12" r="0.6" fill="#c2c2c2"/>
<circle cx="100.81" cy="276.58" r="0.6" fill="#c2c2c2"/>
<circle cx="107.48" cy="274.97" r="0.6" fill="#c2c2c2"/>
<circle cx="63.84" cy="274.69" r="0.6" fill="#c2c2c2"/>
<circle cx="56.43" cy="265.49" r="0.6" fill="#c2c2c2"/>
<circle cx="70.56" cy="252.29" r="0.6" fill="#c2c2c2"/>
<circle cx="53.18" cy="255.11" r="0.6" fill="#c2c2c2"/>
<circle cx="93.78" cy="275.87" r="0.6" fill="#c2c2c2"/>
<circle cx="93.64" cy="264.14" r="0.6" fill="#c2c2c2"/>
<circle cx="87.96" cy="263.16" r="0.6" fill="#c2c2c2"/>
<circle cx="74.78" cy="270.62" r="0.6" fill="#c2c2c2"/>
<circle cx="61.69" cy="257.24" r="0.6" fill="#c2c2c2"/>
<circle cx="79.78" cy="274.74" r="0.6" fill="#c2c2c2"/>
<circle cx="59.75" cy="258.17" r="0.6" fill="#c2c2c2"/>
<circle cx="69.91" cy="265.20" r="0.6" fill="#c2c2c2"/>
<circle cx="63.31" cy="253.51" r="0.6" fill="#c2c2c2"/>
<circle cx="65.43" cy="257.63" r="0.6" fill="#c2c2c2"/>
<circle cx="61.85" cy="268.28" r="0.6" fill="#c2c2c2"/>
<circle cx="91.03" cy="271.15" r="0.6" fill="#c2c2c2"/>
<circle cx="102.34" cy="269.45" r="0.6" fill="#c2c2c2"/>
<circle cx="92.91" cy="266.15" r="0.6" fill="#c2c2c2"/>
<circle cx="107.95" cy="260.10" r="0.6" fill="#c2c2c2"/>
<circle cx="104.09" cy="263.74" r="0.6" fill="#c2c2c2"/>
<circle cx="66.06" cy="273.57" r="0.6" fill="#c2c2c2"/>
<circle cx="102.94" cy="268.46" r="0.6" fill="#c2c2c2"/>
<circle cx="60.03" cy="256.68" r="0.6" fill="#c2c2c2"/>
<circle cx="87.50" cy="269.26" r="0.6" fill="#c2c2c2"/>
<circle cx="44.77" cy="271.43" r="0.6" fill="#c2c2c2"/>
<circle cx="58.47" cy="262.47" r="0.6" fill="#c2c2c2"/>
<circle cx="60.85" cy="258.16" r="0.6" fill="#c2c2c2"/>
<circle cx="63.85" cy="256.52" r="0.6" fill="#c2c2c2"/>
<circle cx="104.45" cy="276.82" r="0.6" fill="#c2c2c2"/>
<circle cx="83.08" cy="274.56" r="0.6" fill="#c2c2c2"/>
<circle cx="60.66" cy="260.20" r="0.6" fill="#c2c2c2"/>
<circle cx="72.26" cy="252.96" r="0.6" fill="#c2c2c2"/>
<circle cx="102.33" cy="258.27" r="0.6" fill="#c2c2c2"/>
<circle cx="64.33" cy="271.81" r="0.6" fill="#c2c2c2"/>
<circle cx="66.69" cy="266.67" r="0.6" fill="#c2c2c2"/>
<circle cx="90.51" cy="269.50" r="0.6" fill="#c2c2c2"/>
<circle cx="91.30" cy="267.82" r="0.6" fill="#c2c2c2"/>
<circle cx="53.43" cy="263.33" r="0.6" fill="#c2c2c2"/>
<circle cx="55.53" cy="262.92" r="0.6" fill="#c2c2c2"/>
<circle cx="59.72" cy="276.05" r="0.6" fill="#c2c2c2"/>
<circle cx="63.29" cy="264.61" r="0.6" fill="#c2c2c2"/>
<circle cx="60.93" cy="254.39" r="0.6" fill="#c2c2c2"/>
<circle cx="72.25" cy="268.15" r="0.6" fill="#c2c2c2"/>
<circle cx="71.51" cy="271.79" r="0.6" fill="#c2c2c2"/>
<circle cx="103.31" cy="276.43" r="0.6" fill="#c2c2c2"/>
<circle cx="65.98" cy="264.21" r="0.6" fill="#c2c2c2"/>
<circle cx="57.30" cy="270.92" r="0.6" fill="#c2c2c2"/>
<circle cx="64.25" cy="271.75" r="0.6" fill="#c2c2c2"/>
<circle cx="93.64" cy="260.10" r="0.6" fill="#c2c2c2"/>
<circle cx="63.94" cy="262.38" r="0.6" fill="#c2c2c2"/>
<circle cx="111.88" cy="275.25" r="0.6" fill="#c2c2c2"/>
<circle cx="104.21" cy="260.74" r="0.6" fill="#c4c4c4"/>
<circle cx="69.39" cy="273.75" r="0.6" fill="#c4c4c4"/>
<circle cx="114.36" cy="256.36" r="0.6" fill="#c4c4c4"/>
<circle cx="70.98" cy="270.13" r="0.6" fill="#c4c4c4"/>
<circle cx="102.51" cy="258.51" r="0.6" fill="#c4c4c4"/>
<circle cx="77.70" cy="274.12" r="0.6" fill="#c4c4c4"/>
<circle cx="49.22" cy="258.30" r="0.6" fill="#c4c4c4"/>
<circle cx="95.14" cy="272.87" r="0.6" fill="#c4c4c4"/>
<circle cx="117.75" cy="262.80" r="0.6" fill="#c4c4c4"/>
<circle cx="105.22" cy="274.36" r="0.6" fill="#c4c4c4"/>
<circle cx="68.36" cy="257.23" r="0.6" fill="#c4c4c4"/>
<circle cx="62.77" cy="270.00" r="0.6" fill="#c4c4c4"/>
<circle cx="53.16" cy="264.57" r="0.6" fill="#c4c4c4"/>
<circle cx="116.38" cy="256.62" r="0.6" fill="#c4c4c4"/>
<circle cx="92.30" cy="264.19" r="0.6" fill="#c4c4c4"/>
<circle cx="119.30" cy="263.81" r="0.6" fill="#c4c4c4"/>
<circle cx="81.27" cy="272.78" r="0.6" fill="#c4c4c4"/>
<circle cx="102.19" cy="255.34" r="0.6" fill="#c4c4c4"/>
<circle cx="106.30" cy="261.18" r="0.6" fill="#c4c4c4"/>
<circle cx="119.50" cy="274.15" r="0.6" fill="#c4c4c4"/>
<circle cx="81.46" cy="261.57" r="0.6" fill="#c4c4c4"/>
<circle cx="60.16" cy="258.35" r="0.6" fill="#c4c4c4"/>
<circle cx="58.49" cy="255.87" r="0.6" fill="#c4c4c4"/>
<circle cx="100.41" cy="253.18" r="0.6" fill="#c4c4c4"/>
<circle cx="89.90" cy="265.75" r="0.6" fill="#c4c4c4"/>
<circle cx="100.85" cy="265.05" r="0.6" fill="#c4c4c4"/>
<circle cx="116.18" cy="258.47" r="0.6" fill="#c4c4c4"/>
<circle cx="49.45" cy="265.40" r="0.6" fill="#c4c4c4"/>
<circle cx="63.55" cy="274.73" r="0.6" fill="#c4c4c4"/>
<circle cx="115.74" cy="267.81" r="0.6" fill="#c4c4c4"/>
<line x1="38.50" y1="250.70" x2="126.00" y2="250.70" stroke="#b0b0ba" stroke-width="1.0"/>
<circle cx="67.67" cy="244.61" r="0.6" fill="#3c3ca8"/>
<circle cx="69.28" cy="234.37" r="0.6" fill="#3c3ca8"/>
<circle cx="71.84" cy="241.74" r="0.6" fill="#3c3ca8"/>
<circle cx="69.14" cy="226.47" r="0.6" fill="#3c3ca8"/>
<circle cx="69.33" cy="230.10" r="0.6" fill="#3c3ca8"/>
<circle cx="73.82" cy="219.94" r="0.6" fill="#3c3ca8"/>
<circle cx="67.43" cy="229.51" r="0.6" fill="#3c3ca8"/>
<circle cx="73.67" cy="240.43" r="0.6" fill="#3c3ca8"/>
<circle cx="63.07" cy="241.73" r="0.6" fill="#3c3ca8"/>
<circle cx="68.14" cy="239.21" r="0.6" fill="#3c3ca8"/>
<circle cx="69.08" cy="247.22" r="0.6" fill="#3c3ca8"/>
<circle cx="67.40" cy="250.46" r="0.6" fill="#3c3ca8"/>
<circle cx="68.33" cy="249.27" r="0.6" fill="#3c3ca8"/>
<circle cx="68.44" cy="242.54" r="0.6" fill="#3c3ca8"/>
<circle cx="69.76" cy="238.05" r="0.6" fill="#3c3ca8"/>
<circle cx="66.99" cy="241.22" r="0.6" fill="#3c3ca8"/>
<circle cx="67.46" cy="221.26" r="0.6" fill="#3c3ca8"/>
<circle cx="68.90" cy="237.95" r="0.6" fill="#3c3ca8"/>
<circle cx="64.47" cy="240.79" r="0.6" fill="#3c3ca8"/>
<circle cx="67.08" cy="246.73" r="0.6" fill="#3c3ca8"/>
<circle cx="69.08" cy="221.63" r="0.6" fill="#3c3ca8"/>
<circle cx="73.45" cy="250.90" r="0.6" fill="#3c3ca8"/>
<circle cx="64.31" cy="228.82" r="0.6" fill="#3c3ca8"/>
<circle cx="74.38" cy="250.02" r="0.6" fill="#3c3ca8"/>
<circle cx="71.59" cy="248.96" r="0.6" fill="#3c3ca8"/>
<circle cx="69.16" cy="226.70" r="0.6" fill="#3c3ca8"/>
<circle cx="62.79" cy="224.67" r="0.6" fill="#3c3ca8"/>
<circle cx="72.52" cy="240.28" r="0.6" fill="#3c3ca8"/>
<circle cx="69.51" cy="237.94" r="0.6" fill="#3c3ca8"/>
<circle cx="68.68" cy="242.77" r="0.6" fill="#3c3ca8"/>
<circle cx="70.84" cy="250.68" r="0.6" fill="#3c3ca8"/>
<circle cx="65.63" cy="235.58" r="0.6" fill="#3c3ca8"/>
<circle cx="76.30" cy="244.67" r="0.6" fill="#3c3ca8"/>
<circle cx="68.04" cy="243.45" r="0.6" fill="#3c3ca8"/>
<circle cx="66.03" cy="219.90" r="0.6" fill="#3c3ca8"/>
<circle cx="74.73" cy="237.72" r="0.6" fill="#3c3ca8"/>
<circle cx="71.38" cy="240.26" r="0.6" fill="#3c3ca8"/>
<circle cx="71.43" cy="214.05" r="0.6" fill="#3c3ca8"/>
<circle cx="72.52" cy="245.94" r="0.6" fill="#3c3ca8"/>
<circle cx="74.85" cy="242.66" r="0.6" fill="#3c3ca8"/>
<circle cx="74.52" cy="237.62" r="0.6" fill="#3c3ca8"/>
<circle cx="72.49" cy="239.39" r="0.6" fill="#3c3ca8"/>
<circle cx="67.77" cy="241.44" r="0.6" fill="#3c3ca8"/>
<circle cx="67.81" cy="227.22" r="0.6" fill="#3c3ca8"/>
<circle cx="67.64" cy="235.64" r="0.6" fill="#3c3ca8"/>
<circle cx="67.39" cy="242.01" r="0.6" fill="#3c3ca8"/>
<circle cx="70.26" cy="249.72" r="0.6" fill="#3c3ca8"/>
<circle cx="66.53" cy="233.51" r="0.6" fill="#3c3ca8"/>
<circle cx="68.15" cy="247.96" r="0.6" fill="#3c3ca8"/>
<circle cx="66.56" cy="242.29" r="0.6" fill="#3c3ca8"/>
<circle cx="67.21" cy="219.31" r="0.6" fill="#3c3ca8"/>
<circle cx="68.53" cy="232.95" r="0.6" fill="#3c3ca8"/>
<circle cx="68.30" cy="245.14" r="0.6" fill="#3c3ca8"/>
<circle cx="66.55" cy="236.69" r="0.6" fill="#3c3ca8"/>
<circle cx="69.78" cy="232.20" r="0.6" fill="#3c3ca8"/>
<circle cx="64.54" cy="206.54" r="0.6" fill="#3c3ca8"/>
<circle cx="70.34" cy="239.05" r="0.6" fill="#3c3ca8"/>
<circle cx="68.28" cy="238.19" r="0.6" fill="#3c3ca8"/>
<circle cx="69.49" cy="238.27" r="0.6" fill="#3c3ca8"/>
<circle cx="69.32" cy="225.99" r="0.6" fill="#3c3ca8"/>
<circle cx="70.26" cy="237.00" r="0.6" fill="#3c3ca8"/>
<circle cx="67.14" cy="248.82" r="0.6" fill="#3c3ca8"/>
<circle cx="73.50" cy="238.93" r="0.6" fill="#3c3ca8"/>
<circle cx="70.35" cy="226.85" r="0.6" fill="#3c3ca8"/>
<circle cx="68.68" cy="220.05" r="0.6" fill="#3c3ca8"/>
<circle cx="66.62" cy="204.96" r="0.6" fill="#3c3ca8"/>
<circle cx="64.94" cy="240.50" r="0.6" fill="#3c3ca8"/>
<circle cx="68.85" cy="227.73" r="0.6" fill="#3c3ca8"/>
<circle cx="70.55" cy="246.16" r="0.6" fill="#3c3ca8"/>
<circle cx="65.00" cy="227.90" r="0.6" fill="#3c3ca8"/>
<circle cx="63.88" cy="247.42" r="0.6" fill="#3c3ca8"/>
<circle cx="68.59" cy="203.92" r="0.6" fill="#3c3ca8"/>
<circle cx="70.55" cy="236.51" r="0.6" fill="#3c3ca8"/>
<circle cx="65.91" cy="222.68" r="0.6" fill="#3c3ca8"/>
<circle cx="67.52" cy="221.21" r="0.6" fill="#3c3ca8"/>
<circle cx="72.14" cy="233.07" r="0.6" fill="#3c3ca8"/>
<circle cx="65.71" cy="244.36" r="0.6" fill="#3c3ca8"/>
<circle cx="69.09" cy="226.34" r="0.6" fill="#3c3ca8"/>
<circle cx="69.14" cy="236.56" r="0.6" fill="#3c3ca8"/>
<circle cx="72.06" cy="229.31" r="0.6" fill="#3c3ca8"/>
<circle cx="73.37" cy="237.70" r="0.6" fill="#3c3ca8"/>
<circle cx="70.27" cy="240.60" r="0.6" fill="#3c3ca8"/>
<circle cx="62.80" cy="237.92" r="0.6" fill="#3c3ca8"/>
<circle cx="70.53" cy="229.86" r="0.6" fill="#3c3ca8"/>
<circle cx="71.38" cy="232.05" r="0.6" fill="#3c3ca8"/>
<circle cx="70.09" cy="248.23" r="0.6" fill="#3c3ca8"/>
<circle cx="71.11" cy="219.49" r="0.6" fill="#3c3ca8"/>
<circle cx="68.84" cy="227.63" r="0.6" fill="#3c3ca8"/>
<circle cx="72.36" cy="233.70" r="0.6" fill="#3c3ca8"/>
<circle cx="68.29" cy="241.82" r="0.6" fill="#3c3ca8"/>
<circle cx="63.90" cy="244.69" r="0.6" fill="#3c3ca8"/>
<circle cx="68.49" cy="229.07" r="0.6" fill="#3c3ca8"/>
<circle cx="67.24" cy="241.42" r="0.6" fill="#3c3ca8"/>
<circle cx="67.29" cy="248.17" r="0.6" fill="#3c3ca8"/>
<circle cx="66.03" cy="233.98" r="0.6" fill="#3c3ca8"/>
<circle cx="67.86" cy="221.16" r="0.6" fill="#3c3ca8"/>
<circle cx="70.54" cy="242.26" r="0.6" fill="#3c3ca8"/>
<circle cx="71.72" cy="240.35" r="0.6" fill="#3c3ca8"/>
<circle cx="67.56" cy="248.27" r="0.6" fill="#3c3ca8"/>
<circle cx="67.77" cy="233.62" r="0.6" fill="#3c3ca8"/>
<circle cx="73.55" cy="242.71" r="0.6" fill="#3c3ca8"/>
<circle cx="70.76" cy="207.58" r="0.6" fill="#3c3ca8"/>
<circle cx="73.16" cy="225.97" r="0.6" fill="#3c3ca8"/>
<circle cx="66.74" cy="238.73" r="0.6" fill="#3c3ca8"/>
<circle cx="70.74" cy="229.35" r="0.6" fill="#3c3ca8"/>
<circle cx="67.06" cy="245.82" r="0.6" fill="#3c3ca8"/>
<circle cx="66.11" cy="246.11" r="0.6" fill="#3c3ca8"/>
<circle cx="71.49" cy="222.60" r="0.6" fill="#3c3ca8"/>
<circle cx="72.73" cy="243.63" r="0.6" fill="#3c3ca8"/>
<circle cx="63.74" cy="248.50" r="0.6" fill="#3c3ca8"/>
<circle cx="67.13" cy="241.12" r="0.6" fill="#3c3ca8"/>
<circle cx="68.25" cy="245.39" r="0.6" fill="#3c3ca8"/>
<circle cx="67.95" cy="233.85" r="0.6" fill="#3c3ca8"/>
<circle cx="65.33" cy="232.87" r="0.6" fill="#3c3ca8"/>
<circle cx="64.39" cy="234.22" r="0.6" fill="#3c3ca8"/>
<circle cx="72.02" cy="240.39" r="0.6" fill="#3c3ca8"/>
<circle cx="70.92" cy="238.39" r="0.6" fill="#3c3ca8"/>
<circle cx="74.10" cy="242.39" r="0.6" fill="#3c3ca8"/>
<circle cx="73.28" cy="225.06" r="0.6" fill="#3c3ca8"/>
<circle cx="67.18" cy="236.06" r="0.6" fill="#3c3ca8"/>
<circle cx="71.41" cy="237.46" r="0.6" fill="#3c3ca8"/>
<circle cx="68.82" cy="242.27" r="0.6" fill="#3c3ca8"/>
<circle cx="68.63" cy="235.09" r="0.6" fill="#3c3ca8"/>
<circle cx="70.22" cy="238.23" r="0.6" fill="#3c3ca8"/>
<circle cx="71.15" cy="241.45" r="0.6" fill="#3c3ca8"/>
<circle cx="68.84" cy="247.01" r="0.6" fill="#3c3ca8"/>
<circle cx="72.13" cy="235.86" r="0.6" fill="#3c3ca8"/>
<circle cx="69.45" cy="236.07" r="0.6" fill="#3c3ca8"/>
<circle cx="69.74" cy="244.92" r="0.6" fill="#3c3ca8"/>
<circle cx="72.62" cy="244.60" r="0.6" fill="#3c3ca8"/>
<circle cx="66.72" cy="249.11" r="0.6" fill="#3c3ca8"/>
<circle cx="70.94" cy="229.66" r="0.6" fill="#3c3ca8"/>
<circle cx="73.52" cy="247.42" r="0.6" fill="#3c3ca8"/>
<circle cx="73.43" cy="242.99" r="0.6" fill="#3c3ca8"/>
<circle cx="67.50" cy="226.97" r="0.6" fill="#3c3ca8"/>
<circle cx="64.93" cy="229.63" r="0.6" fill="#3c3ca8"/>
<circle cx="69.10" cy="238.64" r="0.6" fill="#3c3ca8"/>
<circle cx="68.01" cy="233.32" r="0.6" fill="#3c3ca8"/>
<circle cx="71.71" cy="238.47" r="0.6" fill="#3c3ca8"/>
<circle cx="64.23" cy="213.82" r="0.6" fill="#3c3ca8"/>
<circle cx="67.32" cy="246.12" r="0.6" fill="#3c3ca8"/>
<circle cx="70.87" cy="242.58" r="0.6" fill="#3c3ca8"/>
<circle cx="65.13" cy="238.58" r="0.6" fill="#3c3ca8"/>
<circle cx="70.02" cy="249.67" r="0.6" fill="#3c3ca8"/>
<circle cx="68.99" cy="235.57" r="0.6" fill="#3c3ca8"/>
<circle cx="69.77" cy="232.62" r="0.6" fill="#3c3ca8"/>
<circle cx="71.65" cy="225.48" r="0.6" fill="#3c3ca8"/>
<circle cx="67.86" cy="228.00" r="0.6" fill="#3c3ca8"/>
<circle cx="68.84" cy="243.13" r="0.6" fill="#3c3ca8"/>
<circle cx="44.95" cy="238.92" r="0.6" fill="#3c3ca8"/>
<circle cx="53.97" cy="220.80" r="0.6" fill="#3c3ca8"/>
<circle cx="48.19" cy="230.21" r="0.6" fill="#3c3ca8"/>
<circle cx="61.73" cy="247.33" r="0.6" fill="#3c3ca8"/>
<circle cx="61.10" cy="248.88" r="0.6" fill="#3c3ca8"/>
<circle cx="43.03" cy="199.46" r="0.6" fill="#3c3ca8"/>
<circle cx="59.07" cy="210.85" r="0.6" fill="#3c3ca8"/>
<circle cx="52.00" cy="222.35" r="0.6" fill="#3c3ca8"/>
<circle cx="62.40" cy="221.02" r="0.6" fill="#3c3ca8"/>
<circle cx="43.10" cy="208.62" r="0.6" fill="#3c3ca8"/>
<circle cx="60.79" cy="240.43" r="0.6" fill="#3c3ca8"/>
<circle cx="43.21" cy="248.10" r="0.6" fill="#3c3ca8"/>
<circle cx="48.55" cy="235.82" r="0.6" fill="#3c3ca8"/>
<circle cx="52.99" cy="242.62" r="0.6" fill="#3c3ca8"/>
<circle cx="51.26" cy="199.54" r="0.6" fill="#3c3ca8"/>
<circle cx="52.83" cy="242.27" r="0.6" fill="#3c3ca8"/>
<circle cx="49.45" cy="240.97" r="0.6" fill="#3c3ca8"/>
<circle cx="50.27" cy="216.67" r="0.6" fill="#3c3ca8"/>
<circle cx="48.26" cy="209.88" r="0.6" fill="#3c3ca8"/>
<circle cx="51.51" cy="247.89" r="0.6" fill="#3c3ca8"/>
<circle cx="53.59" cy="237.92" r="0.6" fill="#3c3ca8"/>
<circle cx="44.12" cy="217.22" r="0.6" fill="#3c3ca8"/>
<circle cx="70.96" cy="245.45" r="0.65" fill="#3c3ca8"/>
<circle cx="64.10" cy="249.81" r="0.65" fill="#3c3ca8"/>
<circle cx="65.55" cy="247.93" r="0.65" fill="#3c3ca8"/>
<circle cx="75.77" cy="244.61" r="0.65" fill="#3c3ca8"/>
<circle cx="67.24" cy="244.98" r="0.65" fill="#3c3ca8"/>
<circle cx="70.50" cy="250.82" r="0.65" fill="#3c3ca8"/>
<circle cx="65.74" cy="244.20" r="0.65" fill="#3c3ca8"/>
<circle cx="74.75" cy="244.49" r="0.65" fill="#3c3ca8"/>
<circle cx="72.00" cy="248.49" r="0.65" fill="#3c3ca8"/>
<circle cx="64.01" cy="242.25" r="0.65" fill="#3c3ca8"/>
<circle cx="73.11" cy="250.27" r="0.65" fill="#3c3ca8"/>
<circle cx="72.34" cy="246.20" r="0.65" fill="#3c3ca8"/>
<circle cx="65.21" cy="246.74" r="0.65" fill="#3c3ca8"/>
<circle cx="65.32" cy="244.92" r="0.65" fill="#3c3ca8"/>
<circle cx="64.42" cy="246.63" r="0.65" fill="#3c3ca8"/>
<circle cx="69.61" cy="244.56" r="0.65" fill="#3c3ca8"/>
<circle cx="66.66" cy="242.60" r="0.65" fill="#3c3ca8"/>
<circle cx="64.33" cy="243.14" r="0.65" fill="#3c3ca8"/>
<circle cx="75.79" cy="242.30" r="0.65" fill="#3c3ca8"/>
<circle cx="72.60" cy="246.10" r="0.65" fill="#3c3ca8"/>
<circle cx="71.05" cy="244.74" r="0.65" fill="#3c3ca8"/>
<circle cx="75.77" cy="249.27" r="0.65" fill="#3c3ca8"/>
<circle cx="68.86" cy="245.88" r="0.65" fill="#3c3ca8"/>
<circle cx="75.02" cy="243.41" r="0.65" fill="#3c3ca8"/>
<circle cx="74.49" cy="247.57" r="0.65" fill="#3c3ca8"/>
<circle cx="70.80" cy="246.80" r="0.65" fill="#3c3ca8"/>
<circle cx="71.09" cy="242.82" r="0.65" fill="#3c3ca8"/>
<circle cx="66.99" cy="245.18" r="0.65" fill="#3c3ca8"/>
<circle cx="66.66" cy="242.77" r="0.65" fill="#3c3ca8"/>
<circle cx="72.55" cy="245.79" r="0.65" fill="#3c3ca8"/>
<circle cx="72.89" cy="245.53" r="0.65" fill="#3c3ca8"/>
<circle cx="75.30" cy="244.20" r="0.65" fill="#3c3ca8"/>
<circle cx="70.15" cy="245.81" r="0.65" fill="#3c3ca8"/>
<circle cx="73.49" cy="243.18" r="0.65" fill="#3c3ca8"/>
<circle cx="70.55" cy="246.08" r="0.65" fill="#3c3ca8"/>
<circle cx="92.00" cy="250.00" r="0.55" fill="#d8341f"/>
<circle cx="93.50" cy="248.50" r="0.55" fill="#d8341f"/>
<circle cx="95.00" cy="247.00" r="0.55" fill="#d8341f"/>
<circle cx="96.50" cy="249.00" r="0.55" fill="#d8341f"/>
<circle cx="98.00" cy="246.00" r="0.55" fill="#d8341f"/>
<circle cx="99.00" cy="244.00" r="0.55" fill="#d8341f"/>
<circle cx="100.50" cy="248.00" r="0.55" fill="#d8341f"/>
<circle cx="97.00" cy="242.00" r="0.55" fill="#d8341f"/>
<circle cx="102.00" cy="241.00" r="0.55" fill="#d8341f"/>
<circle cx="104.50" cy="246.00" r="0.55" fill="#d8341f"/>
<circle cx="108.50" cy="238.00" r="0.55" fill="#d8341f"/>
<circle cx="108.00" cy="230.00" r="0.55" fill="#d8341f"/>
<circle cx="94.00" cy="225.50" r="0.55" fill="#d8341f"/>
<circle cx="99.00" cy="221.50" r="0.55" fill="#d8341f"/>
<circle cx="97.00" cy="229.00" r="0.55" fill="#d8341f"/>
<circle cx="90.50" cy="249.50" r="0.55" fill="#d8341f"/>
<circle cx="95.50" cy="250.00" r="0.55" fill="#d8341f"/>
<circle cx="101.50" cy="250.00" r="0.55" fill="#d8341f"/>
<circle cx="106.00" cy="250.00" r="0.55" fill="#d8341f"/>
<circle cx="93.00" cy="246.00" r="0.55" fill="#d8341f"/>
<circle cx="97.50" cy="245.50" r="0.55" fill="#d8341f"/>
<circle cx="103.50" cy="247.50" r="0.55" fill="#d8341f"/>
<circle cx="96.00" cy="244.00" r="0.55" fill="#d8341f"/>
<line x1="38.00" y1="196.00" x2="38.00" y2="284.60" stroke="#222" stroke-width="0.8"/>
<line x1="37.60" y1="284.20" x2="126.00" y2="284.20" stroke="#222" stroke-width="0.8"/>
<line x1="35.80" y1="277.40" x2="38.00" y2="277.40" stroke="#222" stroke-width="0.6"/>
<text transform="translate(32.40,279.30)" font-size="5.3" fill="#1a1a1a" text-anchor="end">0</text>
<line x1="35.80" y1="250.70" x2="38.00" y2="250.70" stroke="#222" stroke-width="0.6"/>
<text transform="translate(32.40,252.60)" font-size="5.3" fill="#1a1a1a" text-anchor="end">2</text>
<line x1="35.80" y1="224.00" x2="38.00" y2="224.00" stroke="#222" stroke-width="0.6"/>
<text transform="translate(32.40,225.90)" font-size="5.3" fill="#1a1a1a" text-anchor="end">4</text>
<line x1="35.80" y1="197.30" x2="38.00" y2="197.30" stroke="#222" stroke-width="0.6"/>
<text transform="translate(32.40,199.20)" font-size="5.3" fill="#1a1a1a" text-anchor="end">6</text>
<line x1="38.06" y1="284.20" x2="38.06" y2="286.60" stroke="#222" stroke-width="0.6"/>
<text transform="translate(37.16,294.30)" font-size="5.3" fill="#1a1a1a" text-anchor="middle">−6</text>
<line x1="52.34" y1="284.20" x2="52.34" y2="286.60" stroke="#222" stroke-width="0.6"/>
<text transform="translate(51.44,294.30)" font-size="5.3" fill="#1a1a1a" text-anchor="middle">−4</text>
<line x1="66.62" y1="284.20" x2="66.62" y2="286.60" stroke="#222" stroke-width="0.6"/>
<text transform="translate(65.72,294.30)" font-size="5.3" fill="#1a1a1a" text-anchor="middle">−2</text>
<line x1="80.90" y1="284.20" x2="80.90" y2="286.60" stroke="#222" stroke-width="0.6"/>
<text transform="translate(80.90,294.30)" font-size="5.3" fill="#1a1a1a" text-anchor="middle">0</text>
<line x1="95.18" y1="284.20" x2="95.18" y2="286.60" stroke="#222" stroke-width="0.6"/>
<text transform="translate(95.18,294.30)" font-size="5.3" fill="#1a1a1a" text-anchor="middle">2</text>
<line x1="109.46" y1="284.20" x2="109.46" y2="286.60" stroke="#222" stroke-width="0.6"/>
<text transform="translate(109.46,294.30)" font-size="5.3" fill="#1a1a1a" text-anchor="middle">4</text>
<line x1="123.74" y1="284.20" x2="123.74" y2="286.60" stroke="#222" stroke-width="0.6"/>
<text transform="translate(123.74,294.30)" font-size="5.3" fill="#1a1a1a" text-anchor="middle">6</text>
<text transform="translate(82.40,306.20) scale(0.75,1)" font-size="7.3" fill="#1a1a1a" class="b" text-anchor="middle">Log<tspan font-size="4.53" dy="1.6">2</tspan><tspan dy="-1.6"> fold change</tspan></text>
<text transform="translate(82.20,314.40) scale(0.75,1)" font-size="7.3" fill="#1a1a1a" class="b" text-anchor="middle">(Ko vs. controls)</text>
<text transform="translate(24.10,240.90) rotate(-90) scale(0.75,1)" font-size="7.3" fill="#1a1a1a" class="b" text-anchor="middle">−Log<tspan font-size="4.53" dy="1.6">10</tspan><tspan dy="-1.6"> Adj. </tspan><tspan font-style="italic">P</tspan>-value</text>
<text transform="translate(6.90,334.70)" font-size="10.5" fill="#111" font-weight="bold">F</text>
<text transform="translate(93.40,335.40)" font-size="6" fill="#1a1a1a" text-anchor="middle">log2FC</text>
<text transform="translate(84.40,341.50)" font-size="5.5" fill="#1a1a1a" text-anchor="end">7.69</text>
<defs><linearGradient id="cb" x1="0" x2="1" y1="0" y2="0"><stop offset="0" stop-color="#d83a2a"/><stop offset="0.45" stop-color="#f6e8e4"/><stop offset="0.55" stop-color="#e4e2ee"/><stop offset="1" stop-color="#1e2a5a"/></linearGradient></defs>
<rect x="86.00" y="338.60" width="13.00" height="2.40" fill="url(#cb)"/>
<text transform="translate(100.30,341.50)" font-size="5.5" fill="#1a1a1a">−5.67</text>
<text transform="translate(93.20,345.80)" font-size="5.5" fill="#1a1a1a" text-anchor="middle">0</text>
<defs><linearGradient id="hm1" gradientUnits="userSpaceOnUse" x1="0" y1="347.90" x2="0" y2="583.90"><stop offset="0.00000" stop-color="#e24e2e"/><stop offset="0.01822" stop-color="#ec6448"/><stop offset="0.01822" stop-color="#f4ece8"/><stop offset="0.04195" stop-color="#f0e8ea"/><stop offset="0.04195" stop-color="#e6e2ed"/><stop offset="0.07331" stop-color="#dedaeb"/><stop offset="0.07331" stop-color="#d4cee7"/><stop offset="0.10212" stop-color="#ccc6e4"/><stop offset="0.10212" stop-color="#c4bcdf"/><stop offset="0.13602" stop-color="#bab2db"/><stop offset="0.13602" stop-color="#aea6d6"/><stop offset="0.15890" stop-color="#aea6d6"/><stop offset="0.15890" stop-color="#9890cc"/><stop offset="0.18432" stop-color="#9890cc"/><stop offset="0.18432" stop-color="#6c5eb2"/><stop offset="0.22076" stop-color="#7062b4"/><stop offset="0.22076" stop-color="#7466b6"/><stop offset="0.24915" stop-color="#7466b6"/><stop offset="0.24915" stop-color="#5c4ea8"/><stop offset="0.29492" stop-color="#5c4ea8"/><stop offset="0.29492" stop-color="#6c5eb2"/><stop offset="0.32627" stop-color="#6c5eb2"/><stop offset="0.32627" stop-color="#5242a0"/><stop offset="0.33686" stop-color="#5242a0"/><stop offset="0.33686" stop-color="#f0603f"/><stop offset="0.35466" stop-color="#f0603f"/><stop offset="0.35466" stop-color="#f08064"/><stop offset="0.43178" stop-color="#ef7a5c"/><stop offset="0.43178" stop-color="#ea6648"/><stop offset="0.44873" stop-color="#ea6648"/><stop offset="0.44873" stop-color="#ef7a5c"/><stop offset="0.47924" stop-color="#ef7a5c"/><stop offset="0.47924" stop-color="#e63e28"/><stop offset="0.53093" stop-color="#e63e28"/><stop offset="0.53093" stop-color="#ea5e40"/><stop offset="0.55636" stop-color="#ea5e40"/><stop offset="0.55636" stop-color="#ef7656"/><stop offset="0.64788" stop-color="#f07a5a"/><stop offset="0.64788" stop-color="#e86646"/><stop offset="0.65932" stop-color="#e86646"/><stop offset="0.65932" stop-color="#f07c5c"/><stop offset="0.72966" stop-color="#f07e60"/><stop offset="0.72966" stop-color="#f08e70"/><stop offset="0.77246" stop-color="#f19478"/><stop offset="0.77246" stop-color="#f2a088"/><stop offset="0.82373" stop-color="#f3b09a"/><stop offset="0.82373" stop-color="#f4c0ac"/><stop offset="0.85805" stop-color="#f3ccbc"/><stop offset="0.85805" stop-color="#f2d6cc"/><stop offset="0.88644" stop-color="#f0dcd4"/><stop offset="0.88644" stop-color="#ece4e4"/><stop offset="0.92627" stop-color="#ebe5e6"/><stop offset="0.92627" stop-color="#efe2dc"/><stop offset="0.96059" stop-color="#e9e1e6"/><stop offset="0.96059" stop-color="#d8d2ea"/><stop offset="0.98347" stop-color="#d0cae7"/><stop offset="0.98347" stop-color="#c0b8e0"/><stop offset="1.00000" stop-color="#c0b8e0"/></linearGradient></defs>
<rect x="16.20" y="347.90" width="38.50" height="236.00" fill="url(#hm1)"/>
<defs><linearGradient id="hm2" gradientUnits="userSpaceOnUse" x1="0" y1="347.90" x2="0" y2="583.90"><stop offset="0.00000" stop-color="#f09274"/><stop offset="0.01314" stop-color="#f09274"/><stop offset="0.01314" stop-color="#ec6e4e"/><stop offset="0.03008" stop-color="#ec6e4e"/><stop offset="0.03008" stop-color="#ef7c5f"/><stop offset="0.10805" stop-color="#ef7e61"/><stop offset="0.10805" stop-color="#e8603f"/><stop offset="0.13898" stop-color="#e8603f"/><stop offset="0.13898" stop-color="#ee7b5d"/><stop offset="0.17585" stop-color="#ef8265"/><stop offset="0.17585" stop-color="#f0947a"/><stop offset="0.19873" stop-color="#f2a48c"/><stop offset="0.19873" stop-color="#f4b6a2"/><stop offset="0.22161" stop-color="#f5c8b8"/><stop offset="0.22161" stop-color="#f4d8cc"/><stop offset="0.26059" stop-color="#f2e2de"/><stop offset="0.26059" stop-color="#e8e4ef"/><stop offset="0.32627" stop-color="#e2deee"/><stop offset="0.32627" stop-color="#6a5cb0"/><stop offset="0.33602" stop-color="#6a5cb0"/><stop offset="0.33602" stop-color="#dedaec"/><stop offset="0.39195" stop-color="#d6d0e9"/><stop offset="0.39195" stop-color="#c8c2e2"/><stop offset="0.43729" stop-color="#c0b9df"/><stop offset="0.43729" stop-color="#b4acd8"/><stop offset="0.47924" stop-color="#aca4d4"/><stop offset="0.47924" stop-color="#8a80c4"/><stop offset="0.49364" stop-color="#8a80c4"/><stop offset="0.49364" stop-color="#a098d0"/><stop offset="0.52246" stop-color="#9c94ce"/><stop offset="0.52246" stop-color="#6050aa"/><stop offset="0.55381" stop-color="#6050aa"/><stop offset="0.55381" stop-color="#9a90cc"/><stop offset="0.59619" stop-color="#9a90cc"/><stop offset="0.59619" stop-color="#a098d0"/><stop offset="0.64195" stop-color="#9c94ce"/><stop offset="0.64195" stop-color="#8478c0"/><stop offset="0.68178" stop-color="#8478c0"/><stop offset="0.68178" stop-color="#5c4ea8"/><stop offset="0.72966" stop-color="#5a4aa6"/><stop offset="0.72966" stop-color="#7468b8"/><stop offset="0.85212" stop-color="#7266b7"/><stop offset="0.85212" stop-color="#4a3c98"/><stop offset="0.86059" stop-color="#4a3c98"/><stop offset="0.86059" stop-color="#7468b8"/><stop offset="0.93771" stop-color="#7468b8"/><stop offset="0.93771" stop-color="#5e50a8"/><stop offset="0.97203" stop-color="#5e50a8"/><stop offset="0.97203" stop-color="#7064b6"/><stop offset="1.00000" stop-color="#7064b6"/></linearGradient></defs>
<rect x="54.70" y="347.90" width="37.90" height="236.00" fill="url(#hm2)"/>
<path d="M92.60,353.60 L95.0,353.60 L95.0,358.30 L98.3,358.30" fill="none" stroke="#333" stroke-width="0.55"/>
<text transform="translate(101.90,360.40)" font-size="6.1" fill="#262626" class="g" font-style="italic">Tspan8</text>
<path d="M92.60,366.90 L95.0,366.90 L95.0,371.60 L98.3,371.60" fill="none" stroke="#333" stroke-width="0.55"/>
<text transform="translate(101.90,373.70)" font-size="6.1" fill="#262626" class="g" font-style="italic">Dnase1</text>
<path d="M92.60,377.10 L95.0,377.10 L95.0,381.80 L98.3,381.80" fill="none" stroke="#333" stroke-width="0.55"/>
<text transform="translate(101.90,383.90)" font-size="6.1" fill="#262626" class="g" font-style="italic">CD79a</text>
<path d="M92.60,403.00 L95.0,403.00 L95.0,406.90 L98.3,406.90" fill="none" stroke="#333" stroke-width="0.55"/>
<text transform="translate(101.90,409.00)" font-size="6.1" fill="#262626" class="g" font-style="italic">Trim58</text>
<path d="M92.60,412.70 L95.0,412.70 L95.0,417.40 L98.3,417.40" fill="none" stroke="#333" stroke-width="0.55"/>
<text transform="translate(101.90,419.50)" font-size="6.1" fill="#262626" class="g" font-style="italic">Wdr66</text>
<path d="M92.60,428.90 L95.0,428.90 L95.0,433.10 L98.3,433.10" fill="none" stroke="#333" stroke-width="0.55"/>
<text transform="translate(101.90,435.20)" font-size="6.1" fill="#262626" class="g" font-style="italic">Metrnl</text>
<path d="M92.60,456.60 L95.0,456.60 L95.0,461.30 L98.3,461.30" fill="none" stroke="#333" stroke-width="0.55"/>
<text transform="translate(101.90,463.40)" font-size="6.1" fill="#262626" class="g" font-style="italic">Acod1</text>
<path d="M92.60,464.90 L95.0,464.90 L95.0,468.80 L98.3,468.80" fill="none" stroke="#333" stroke-width="0.55"/>
<text transform="translate(101.90,470.90)" font-size="6.1" fill="#262626" class="g" font-style="italic">Ccl3</text>
<path d="M92.60,471.00 L95.0,471.00 L95.0,474.60 L98.3,474.60" fill="none" stroke="#333" stroke-width="0.55"/>
<text transform="translate(101.90,476.70)" font-size="6.1" fill="#262626" class="g" font-style="italic">Nlrp3</text>
<path d="M92.60,475.60 L95.0,475.60 L95.0,479.80 L98.3,479.80" fill="none" stroke="#333" stroke-width="0.55"/>
<text transform="translate(101.90,481.90)" font-size="6.1" fill="#262626" class="g" font-style="italic">Ccl4</text>
<path d="M92.60,523.70 L95.0,523.70 L95.0,527.60 L98.3,527.60" fill="none" stroke="#333" stroke-width="0.55"/>
<text transform="translate(101.90,529.70)" font-size="6.1" fill="#262626" class="g" font-style="italic">Spp1</text>
<path d="M92.60,525.80 L95.0,525.80 L95.0,533.60 L98.3,533.60" fill="none" stroke="#333" stroke-width="0.55"/>
<text transform="translate(101.90,535.70)" font-size="6.1" fill="#262626" class="g" font-style="italic">Tlr6</text>
<path d="M92.60,547.20 L95.0,547.20 L95.0,551.60 L98.3,551.60" fill="none" stroke="#333" stroke-width="0.55"/>
<text transform="translate(101.90,553.70)" font-size="6.1" fill="#262626" class="g" font-style="italic">Aim2</text>
<path d="M92.60,565.10 L95.0,565.10 L95.0,569.40 L98.3,569.40" fill="none" stroke="#333" stroke-width="0.55"/>
<text transform="translate(101.90,571.50)" font-size="6.1" fill="#262626" class="g" font-style="italic">Cd80</text>
<path d="M92.60,575.50 L95.0,575.50 L95.0,579.60 L98.3,579.60" fill="none" stroke="#333" stroke-width="0.55"/>
<text transform="translate(101.90,581.70)" font-size="6.1" fill="#262626" class="g" font-style="italic">Prok2</text>
<text transform="translate(35.60,592.20)" font-size="6" fill="#1a1a1a" text-anchor="middle">Stimulated vs.</text>
<text transform="translate(35.60,598.20)" font-size="6" fill="#1a1a1a" text-anchor="middle">unstimulated</text>
<text transform="translate(73.60,592.20)" font-size="6" fill="#1a1a1a" text-anchor="middle">Ko vs.</text>
<text transform="translate(74.50,598.20)" font-size="6" fill="#1a1a1a" text-anchor="middle">controls</text>
<text transform="translate(176.00,168.50)" font-size="10.5" fill="#111" font-weight="bold">G</text>
<rect x="238.70" y="174.45" width="63.40" height="3.50" fill="#ad0a28"/>
<line x1="236.00" y1="176.20" x2="238.70" y2="176.20" stroke="#222" stroke-width="0.8"/>
<text transform="translate(233.20,178.50) scale(0.92,1)" font-size="6.9" fill="#3a3a3a" class="g" text-anchor="end" font-style="italic">Olr1</text>
<rect x="238.70" y="179.35" width="61.10" height="3.50" fill="#ad0a28"/>
<line x1="236.00" y1="181.10" x2="238.70" y2="181.10" stroke="#222" stroke-width="0.8"/>
<text transform="translate(233.20,183.40) scale(0.92,1)" font-size="6.9" fill="#3a3a3a" class="g" text-anchor="end" font-style="italic">Nlrp3</text>
<rect x="238.70" y="184.25" width="53.80" height="3.50" fill="#ad0a28"/>
<line x1="236.00" y1="186.00" x2="238.70" y2="186.00" stroke="#222" stroke-width="0.8"/>
<text transform="translate(233.20,188.30) scale(0.92,1)" font-size="6.9" fill="#3a3a3a" class="g" text-anchor="end" font-style="italic">Metrnl</text>
<rect x="238.70" y="189.15" width="43.40" height="3.50" fill="#ad0a28"/>
<line x1="236.00" y1="190.90" x2="238.70" y2="190.90" stroke="#222" stroke-width="0.8"/>
<text transform="translate(233.20,193.20) scale(0.92,1)" font-size="6.9" fill="#3a3a3a" class="g" text-anchor="end" font-style="italic">Acod1</text>
<rect x="238.70" y="194.05" width="42.30" height="3.50" fill="#ad0a28"/>
<line x1="236.00" y1="195.80" x2="238.70" y2="195.80" stroke="#222" stroke-width="0.8"/>
<text transform="translate(233.20,198.10) scale(0.92,1)" font-size="6.9" fill="#3a3a3a" class="g" text-anchor="end" font-style="italic">Cd200r4</text>
<rect x="238.70" y="198.95" width="39.00" height="3.50" fill="#ad0a28"/>
<line x1="236.00" y1="200.70" x2="238.70" y2="200.70" stroke="#222" stroke-width="0.8"/>
<text transform="translate(233.20,203.00) scale(0.92,1)" font-size="6.9" fill="#3a3a3a" class="g" text-anchor="end" font-style="italic">Ier3</text>
<rect x="238.70" y="203.85" width="38.80" height="3.50" fill="#ad0a28"/>
<line x1="236.00" y1="205.60" x2="238.70" y2="205.60" stroke="#222" stroke-width="0.8"/>
<text transform="translate(233.20,207.90) scale(0.92,1)" font-size="6.9" fill="#3a3a3a" class="g" text-anchor="end" font-style="italic">Nfkbiz</text>
<rect x="238.70" y="208.75" width="35.30" height="3.50" fill="#ad0a28"/>
<line x1="236.00" y1="210.50" x2="238.70" y2="210.50" stroke="#222" stroke-width="0.8"/>
<text transform="translate(233.20,212.80) scale(0.92,1)" font-size="6.9" fill="#3a3a3a" class="g" text-anchor="end" font-style="italic">Plgrkt</text>
<rect x="238.70" y="213.65" width="33.20" height="3.50" fill="#ad0a28"/>
<line x1="236.00" y1="215.40" x2="238.70" y2="215.40" stroke="#222" stroke-width="0.8"/>
<text transform="translate(233.20,217.70) scale(0.92,1)" font-size="6.9" fill="#3a3a3a" class="g" text-anchor="end" font-style="italic">Socs3</text>
<rect x="238.70" y="218.55" width="31.30" height="3.50" fill="#ad0a28"/>
<line x1="236.00" y1="220.30" x2="238.70" y2="220.30" stroke="#222" stroke-width="0.8"/>
<text transform="translate(233.20,222.60) scale(0.92,1)" font-size="6.9" fill="#3a3a3a" class="g" text-anchor="end" font-style="italic">Osm</text>
<rect x="238.70" y="226.55" width="44.20" height="3.50" fill="#a8b882"/>
<line x1="236.00" y1="228.30" x2="238.70" y2="228.30" stroke="#222" stroke-width="0.8"/>
<text transform="translate(233.20,230.60) scale(0.92,1)" font-size="6.9" fill="#3a3a3a" class="g" text-anchor="end" font-style="italic">Nr4a3</text>
<rect x="238.70" y="231.45" width="44.00" height="3.50" fill="#a8b882"/>
<line x1="236.00" y1="233.20" x2="238.70" y2="233.20" stroke="#222" stroke-width="0.8"/>
<text transform="translate(233.20,235.50) scale(0.92,1)" font-size="6.9" fill="#3a3a3a" class="g" text-anchor="end" font-style="italic">P2ry2</text>
<rect x="238.70" y="236.35" width="29.60" height="3.50" fill="#a8b882"/>
<line x1="236.00" y1="238.10" x2="238.70" y2="238.10" stroke="#222" stroke-width="0.8"/>
<text transform="translate(233.20,240.40) scale(0.92,1)" font-size="6.9" fill="#3a3a3a" class="g" text-anchor="end" font-style="italic">Washc5</text>
<rect x="238.70" y="241.25" width="27.80" height="3.50" fill="#a8b882"/>
<line x1="236.00" y1="243.00" x2="238.70" y2="243.00" stroke="#222" stroke-width="0.8"/>
<text transform="translate(233.20,245.30) scale(0.92,1)" font-size="6.9" fill="#3a3a3a" class="g" text-anchor="end" font-style="italic">Hmox1</text>
<rect x="238.70" y="246.15" width="27.10" height="3.50" fill="#a8b882"/>
<line x1="236.00" y1="247.90" x2="238.70" y2="247.90" stroke="#222" stroke-width="0.8"/>
<text transform="translate(233.20,250.20) scale(0.92,1)" font-size="6.9" fill="#3a3a3a" class="g" text-anchor="end" font-style="italic">Ptafr</text>
<rect x="238.70" y="251.05" width="25.50" height="3.50" fill="#a8b882"/>
<line x1="236.00" y1="252.80" x2="238.70" y2="252.80" stroke="#222" stroke-width="0.8"/>
<text transform="translate(233.20,255.10) scale(0.92,1)" font-size="6.9" fill="#3a3a3a" class="g" text-anchor="end" font-style="italic">C9orf72</text>
<rect x="238.70" y="255.95" width="25.30" height="3.50" fill="#a8b882"/>
<line x1="236.00" y1="257.70" x2="238.70" y2="257.70" stroke="#222" stroke-width="0.8"/>
<text transform="translate(233.20,260.00) scale(0.92,1)" font-size="6.9" fill="#3a3a3a" class="g" text-anchor="end" font-style="italic">Vps18</text>
<rect x="238.70" y="260.85" width="22.10" height="3.50" fill="#a8b882"/>
<line x1="236.00" y1="262.60" x2="238.70" y2="262.60" stroke="#222" stroke-width="0.8"/>
<text transform="translate(233.20,264.90) scale(0.92,1)" font-size="6.9" fill="#3a3a3a" class="g" text-anchor="end" font-style="italic">Arl8b</text>
<rect x="238.70" y="265.75" width="19.80" height="3.50" fill="#a8b882"/>
<line x1="236.00" y1="267.50" x2="238.70" y2="267.50" stroke="#222" stroke-width="0.8"/>
<text transform="translate(233.20,269.80) scale(0.92,1)" font-size="6.9" fill="#3a3a3a" class="g" text-anchor="end" font-style="italic">Ccr1</text>
<rect x="238.70" y="270.65" width="18.80" height="3.50" fill="#a8b882"/>
<line x1="236.00" y1="272.40" x2="238.70" y2="272.40" stroke="#222" stroke-width="0.8"/>
<text transform="translate(233.20,274.70) scale(0.92,1)" font-size="6.9" fill="#3a3a3a" class="g" text-anchor="end" font-style="italic">Arfgef2</text>
<rect x="238.70" y="279.05" width="74.00" height="3.50" fill="#0f3c66"/>
<line x1="236.00" y1="280.80" x2="238.70" y2="280.80" stroke="#222" stroke-width="0.8"/>
<text transform="translate(233.20,283.10) scale(0.92,1)" font-size="6.9" fill="#3a3a3a" class="g" text-anchor="end" font-style="italic">Lilrb4a</text>
<rect x="238.70" y="283.95" width="45.70" height="3.50" fill="#0f3c66"/>
<line x1="236.00" y1="285.70" x2="238.70" y2="285.70" stroke="#222" stroke-width="0.8"/>
<text transform="translate(233.20,288.00) scale(0.92,1)" font-size="6.9" fill="#3a3a3a" class="g" text-anchor="end" font-style="italic">Nfkbib</text>
<rect x="238.70" y="288.85" width="35.70" height="3.50" fill="#0f3c66"/>
<line x1="236.00" y1="290.60" x2="238.70" y2="290.60" stroke="#222" stroke-width="0.8"/>
<text transform="translate(233.20,292.90) scale(0.92,1)" font-size="6.9" fill="#3a3a3a" class="g" text-anchor="end" font-style="italic">Irak2</text>
<rect x="238.70" y="293.75" width="34.20" height="3.50" fill="#0f3c66"/>
<line x1="236.00" y1="295.50" x2="238.70" y2="295.50" stroke="#222" stroke-width="0.8"/>
<text transform="translate(233.20,297.80) scale(0.92,1)" font-size="6.9" fill="#3a3a3a" class="g" text-anchor="end" font-style="italic">Tnfaip3</text>
<rect x="238.70" y="298.65" width="34.00" height="3.50" fill="#0f3c66"/>
<line x1="236.00" y1="300.40" x2="238.70" y2="300.40" stroke="#222" stroke-width="0.8"/>
<text transform="translate(233.20,302.70) scale(0.92,1)" font-size="6.9" fill="#3a3a3a" class="g" text-anchor="end" font-style="italic">Tlr4</text>
<rect x="238.70" y="303.55" width="30.10" height="3.50" fill="#0f3c66"/>
<line x1="236.00" y1="305.30" x2="238.70" y2="305.30" stroke="#222" stroke-width="0.8"/>
<text transform="translate(233.20,307.60) scale(0.92,1)" font-size="6.9" fill="#3a3a3a" class="g" text-anchor="end" font-style="italic">Traf1</text>
<rect x="238.70" y="308.45" width="24.80" height="3.50" fill="#0f3c66"/>
<line x1="236.00" y1="310.20" x2="238.70" y2="310.20" stroke="#222" stroke-width="0.8"/>
<text transform="translate(233.20,312.50) scale(0.92,1)" font-size="6.9" fill="#3a3a3a" class="g" text-anchor="end" font-style="italic">Tnf</text>
<rect x="238.70" y="313.35" width="23.00" height="3.50" fill="#0f3c66"/>
<line x1="236.00" y1="315.10" x2="238.70" y2="315.10" stroke="#222" stroke-width="0.8"/>
<text transform="translate(233.20,317.40) scale(0.92,1)" font-size="6.9" fill="#3a3a3a" class="g" text-anchor="end" font-style="italic">Malt1</text>
<rect x="238.70" y="318.25" width="23.00" height="3.50" fill="#0f3c66"/>
<line x1="236.00" y1="320.00" x2="238.70" y2="320.00" stroke="#222" stroke-width="0.8"/>
<text transform="translate(233.20,322.30) scale(0.92,1)" font-size="6.9" fill="#3a3a3a" class="g" text-anchor="end" font-style="italic">Relb</text>
<rect x="238.70" y="323.15" width="21.10" height="3.50" fill="#0f3c66"/>
<line x1="236.00" y1="324.90" x2="238.70" y2="324.90" stroke="#222" stroke-width="0.8"/>
<text transform="translate(233.20,327.20) scale(0.92,1)" font-size="6.9" fill="#3a3a3a" class="g" text-anchor="end" font-style="italic">Sqstm1</text>
<rect x="238.70" y="331.35" width="74.60" height="3.50" fill="#9188c6"/>
<line x1="236.00" y1="333.10" x2="238.70" y2="333.10" stroke="#222" stroke-width="0.8"/>
<text transform="translate(233.20,335.40) scale(0.92,1)" font-size="6.9" fill="#3a3a3a" class="g" text-anchor="end" font-style="italic">Ccl3</text>
<rect x="238.70" y="336.25" width="61.70" height="3.50" fill="#9188c6"/>
<line x1="236.00" y1="338.00" x2="238.70" y2="338.00" stroke="#222" stroke-width="0.8"/>
<text transform="translate(233.20,340.30) scale(0.92,1)" font-size="6.9" fill="#3a3a3a" class="g" text-anchor="end" font-style="italic">Cxcl2</text>
<rect x="238.70" y="341.15" width="52.80" height="3.50" fill="#9188c6"/>
<line x1="236.00" y1="342.90" x2="238.70" y2="342.90" stroke="#222" stroke-width="0.8"/>
<text transform="translate(233.20,345.20) scale(0.92,1)" font-size="6.9" fill="#3a3a3a" class="g" text-anchor="end" font-style="italic">Ccl4</text>
<rect x="238.70" y="346.05" width="32.30" height="3.50" fill="#9188c6"/>
<line x1="236.00" y1="347.80" x2="238.70" y2="347.80" stroke="#222" stroke-width="0.8"/>
<text transform="translate(233.20,350.10) scale(0.92,1)" font-size="6.9" fill="#3a3a3a" class="g" text-anchor="end" font-style="italic">Spp1</text>
<line x1="238.70" y1="172.50" x2="238.70" y2="352.30" stroke="#222" stroke-width="0.8"/>
<line x1="238.30" y1="352.00" x2="319.40" y2="352.00" stroke="#222" stroke-width="0.8"/>
<line x1="238.70" y1="352.00" x2="238.70" y2="354.30" stroke="#222" stroke-width="0.6"/>
<text transform="translate(238.70,362.40)" font-size="5.8" fill="#1a1a1a" text-anchor="middle">0</text>
<line x1="258.08" y1="352.00" x2="258.08" y2="354.30" stroke="#222" stroke-width="0.6"/>
<text transform="translate(258.08,362.40)" font-size="5.8" fill="#1a1a1a" text-anchor="middle">2</text>
<line x1="277.46" y1="352.00" x2="277.46" y2="354.30" stroke="#222" stroke-width="0.6"/>
<text transform="translate(277.46,362.40)" font-size="5.8" fill="#1a1a1a" text-anchor="middle">4</text>
<line x1="296.84" y1="352.00" x2="296.84" y2="354.30" stroke="#222" stroke-width="0.6"/>
<text transform="translate(296.84,362.40)" font-size="5.8" fill="#1a1a1a" text-anchor="middle">6</text>
<line x1="316.22" y1="352.00" x2="316.22" y2="354.30" stroke="#222" stroke-width="0.6"/>
<text transform="translate(316.22,362.40)" font-size="5.8" fill="#1a1a1a" text-anchor="middle">8</text>
<text transform="translate(278.70,373.40) scale(0.75,1)" font-size="7.3" fill="#1a1a1a" class="b" text-anchor="middle">Log<tspan font-size="4.53" dy="1.6">2</tspan><tspan dy="-1.6"> fold change</tspan></text>
<text transform="translate(278.60,382.00) scale(0.75,1)" font-size="7.3" fill="#1a1a1a" class="b" text-anchor="middle">(stimulated vs. unstimulated)</text>
<line x1="203.30" y1="173.30" x2="203.30" y2="220.60" stroke="#222" stroke-width="0.6"/>
<text transform="translate(201.00,196.60) rotate(-90)" font-size="5.9" fill="#2a2a2a" class="g" text-anchor="middle">Inflammation</text>
<line x1="203.60" y1="225.20" x2="203.60" y2="274.20" stroke="#222" stroke-width="0.6"/>
<text transform="translate(201.00,249.70) rotate(-90)" font-size="5.9" fill="#2a2a2a" class="g" text-anchor="middle">Exocytosis</text>
<line x1="202.80" y1="278.40" x2="202.80" y2="323.40" stroke="#222" stroke-width="0.6"/>
<text transform="translate(193.20,297.00) rotate(-90)" font-size="5.9" fill="#2a2a2a" class="g" text-anchor="middle">NF-kappaB</text>
<text transform="translate(199.80,297.00) rotate(-90)" font-size="5.9" fill="#2a2a2a" class="g" text-anchor="middle">signaling</text>
<line x1="202.80" y1="329.60" x2="202.80" y2="350.60" stroke="#222" stroke-width="0.6"/>
<text transform="translate(201.00,339.20) rotate(-90)" font-size="5.9" fill="#2a2a2a" class="g" text-anchor="middle">Chemotaxis</text>
<text transform="translate(371.60,167.80)" font-size="10.5" fill="#111" font-weight="bold">H</text>
<rect x="416.19" y="174.45" width="35.11" height="3.50" fill="#ad0a28"/>
<line x1="451.30" y1="176.20" x2="454.00" y2="176.20" stroke="#222" stroke-width="0.8"/>
<text transform="translate(459.60,178.50) scale(0.92,1)" font-size="6.9" fill="#3a3a3a" class="g" font-style="italic">Olr1</text>
<rect x="418.16" y="179.35" width="33.14" height="3.50" fill="#ad0a28"/>
<line x1="451.30" y1="181.10" x2="454.00" y2="181.10" stroke="#222" stroke-width="0.8"/>
<text transform="translate(459.60,183.40) scale(0.92,1)" font-size="6.9" fill="#3a3a3a" class="g" font-style="italic">Nlrp3</text>
<rect x="447.89" y="184.25" width="3.41" height="3.50" fill="#ad0a28"/>
<line x1="451.30" y1="186.00" x2="454.00" y2="186.00" stroke="#222" stroke-width="0.8"/>
<text transform="translate(459.60,188.30) scale(0.92,1)" font-size="6.9" fill="#3a3a3a" class="g" font-style="italic">Metrnl</text>
<rect x="426.67" y="189.15" width="24.63" height="3.50" fill="#ad0a28"/>
<line x1="451.30" y1="190.90" x2="454.00" y2="190.90" stroke="#222" stroke-width="0.8"/>
<text transform="translate(459.60,193.20) scale(0.92,1)" font-size="6.9" fill="#3a3a3a" class="g" font-style="italic">Acod1</text>
<rect x="388.94" y="194.05" width="62.36" height="3.50" fill="#ad0a28"/>
<line x1="451.30" y1="195.80" x2="454.00" y2="195.80" stroke="#222" stroke-width="0.8"/>
<text transform="translate(459.60,198.10) scale(0.92,1)" font-size="6.9" fill="#3a3a3a" class="g" font-style="italic">Cd200r4</text>
<rect x="426.67" y="198.95" width="24.63" height="3.50" fill="#ad0a28"/>
<line x1="451.30" y1="200.70" x2="454.00" y2="200.70" stroke="#222" stroke-width="0.8"/>
<text transform="translate(459.60,203.00) scale(0.92,1)" font-size="6.9" fill="#3a3a3a" class="g" font-style="italic">Ier3</text>
<rect x="439.25" y="203.85" width="12.05" height="3.50" fill="#ad0a28"/>
<line x1="451.30" y1="205.60" x2="454.00" y2="205.60" stroke="#222" stroke-width="0.8"/>
<text transform="translate(459.60,207.90) scale(0.92,1)" font-size="6.9" fill="#3a3a3a" class="g" font-style="italic">Nfkbiz</text>
<rect x="442.92" y="208.75" width="8.38" height="3.50" fill="#ad0a28"/>
<line x1="451.30" y1="210.50" x2="454.00" y2="210.50" stroke="#222" stroke-width="0.8"/>
<text transform="translate(459.60,212.80) scale(0.92,1)" font-size="6.9" fill="#3a3a3a" class="g" font-style="italic">Plgrkt</text>
<rect x="426.67" y="213.65" width="24.63" height="3.50" fill="#ad0a28"/>
<line x1="451.30" y1="215.40" x2="454.00" y2="215.40" stroke="#222" stroke-width="0.8"/>
<text transform="translate(459.60,217.70) scale(0.92,1)" font-size="6.9" fill="#3a3a3a" class="g" font-style="italic">Socs3</text>
<rect x="409.25" y="218.55" width="42.05" height="3.50" fill="#ad0a28"/>
<line x1="451.30" y1="220.30" x2="454.00" y2="220.30" stroke="#222" stroke-width="0.8"/>
<text transform="translate(459.60,222.60) scale(0.92,1)" font-size="6.9" fill="#3a3a3a" class="g" font-style="italic">Osm</text>
<rect x="432.96" y="226.55" width="18.34" height="3.50" fill="#a8b882"/>
<line x1="451.30" y1="228.30" x2="454.00" y2="228.30" stroke="#222" stroke-width="0.8"/>
<text transform="translate(459.60,230.60) scale(0.92,1)" font-size="6.9" fill="#3a3a3a" class="g" font-style="italic">Nr4a3</text>
<rect x="416.19" y="231.45" width="35.11" height="3.50" fill="#a8b882"/>
<line x1="451.30" y1="233.20" x2="454.00" y2="233.20" stroke="#222" stroke-width="0.8"/>
<text transform="translate(459.60,235.50) scale(0.92,1)" font-size="6.9" fill="#3a3a3a" class="g" font-style="italic">P2ry2</text>
<rect x="441.21" y="236.35" width="10.09" height="3.50" fill="#a8b882"/>
<line x1="451.30" y1="238.10" x2="454.00" y2="238.10" stroke="#222" stroke-width="0.8"/>
<text transform="translate(459.60,240.40) scale(0.92,1)" font-size="6.9" fill="#3a3a3a" class="g" font-style="italic">Washc5</text>
<rect x="427.06" y="241.25" width="24.24" height="3.50" fill="#a8b882"/>
<line x1="451.30" y1="243.00" x2="454.00" y2="243.00" stroke="#222" stroke-width="0.8"/>
<text transform="translate(459.60,245.30) scale(0.92,1)" font-size="6.9" fill="#3a3a3a" class="g" font-style="italic">Hmox1</text>
<rect x="441.87" y="246.15" width="9.43" height="3.50" fill="#a8b882"/>
<line x1="451.30" y1="247.90" x2="454.00" y2="247.90" stroke="#222" stroke-width="0.8"/>
<text transform="translate(459.60,250.20) scale(0.92,1)" font-size="6.9" fill="#3a3a3a" class="g" font-style="italic">Ptafr</text>
<rect x="434.40" y="251.05" width="16.90" height="3.50" fill="#a8b882"/>
<line x1="451.30" y1="252.80" x2="454.00" y2="252.80" stroke="#222" stroke-width="0.8"/>
<text transform="translate(459.60,255.10) scale(0.92,1)" font-size="6.9" fill="#3a3a3a" class="g" font-style="italic">C9orf72</text>
<rect x="420.38" y="255.95" width="30.92" height="3.50" fill="#a8b882"/>
<line x1="451.30" y1="257.70" x2="454.00" y2="257.70" stroke="#222" stroke-width="0.8"/>
<text transform="translate(459.60,260.00) scale(0.92,1)" font-size="6.9" fill="#3a3a3a" class="g" font-style="italic">Vps18</text>
<rect x="438.72" y="260.85" width="12.58" height="3.50" fill="#a8b882"/>
<line x1="451.30" y1="262.60" x2="454.00" y2="262.60" stroke="#222" stroke-width="0.8"/>
<text transform="translate(459.60,264.90) scale(0.92,1)" font-size="6.9" fill="#3a3a3a" class="g" font-style="italic">Arl8b</text>
<rect x="418.55" y="265.75" width="32.75" height="3.50" fill="#a8b882"/>
<line x1="451.30" y1="267.50" x2="454.00" y2="267.50" stroke="#222" stroke-width="0.8"/>
<text transform="translate(459.60,269.80) scale(0.92,1)" font-size="6.9" fill="#3a3a3a" class="g" font-style="italic">Ccr1</text>
<rect x="423.27" y="270.65" width="28.03" height="3.50" fill="#a8b882"/>
<line x1="451.30" y1="272.40" x2="454.00" y2="272.40" stroke="#222" stroke-width="0.8"/>
<text transform="translate(459.60,274.70) scale(0.92,1)" font-size="6.9" fill="#3a3a3a" class="g" font-style="italic">Arfgef2</text>
<rect x="410.43" y="279.05" width="40.87" height="3.50" fill="#0f3c66"/>
<line x1="451.30" y1="280.80" x2="454.00" y2="280.80" stroke="#222" stroke-width="0.8"/>
<text transform="translate(459.60,283.10) scale(0.92,1)" font-size="6.9" fill="#3a3a3a" class="g" font-style="italic">Lilrb4a</text>
<rect x="450.65" y="283.95" width="0.65" height="3.50" fill="#0f3c66"/>
<line x1="451.30" y1="285.70" x2="454.00" y2="285.70" stroke="#222" stroke-width="0.8"/>
<text transform="translate(459.60,288.00) scale(0.92,1)" font-size="6.9" fill="#3a3a3a" class="g" font-style="italic">Nfkbib</text>
<rect x="420.38" y="288.85" width="30.92" height="3.50" fill="#0f3c66"/>
<line x1="451.30" y1="290.60" x2="454.00" y2="290.60" stroke="#222" stroke-width="0.8"/>
<text transform="translate(459.60,292.90) scale(0.92,1)" font-size="6.9" fill="#3a3a3a" class="g" font-style="italic">Irak2</text>
<rect x="441.48" y="293.75" width="9.82" height="3.50" fill="#0f3c66"/>
<line x1="451.30" y1="295.50" x2="454.00" y2="295.50" stroke="#222" stroke-width="0.8"/>
<text transform="translate(459.60,297.80) scale(0.92,1)" font-size="6.9" fill="#3a3a3a" class="g" font-style="italic">Tnfaip3</text>
<rect x="415.54" y="298.65" width="35.76" height="3.50" fill="#0f3c66"/>
<line x1="451.30" y1="300.40" x2="454.00" y2="300.40" stroke="#222" stroke-width="0.8"/>
<text transform="translate(459.60,302.70) scale(0.92,1)" font-size="6.9" fill="#3a3a3a" class="g" font-style="italic">Tlr4</text>
<rect x="443.05" y="303.55" width="8.25" height="3.50" fill="#0f3c66"/>
<line x1="451.30" y1="305.30" x2="454.00" y2="305.30" stroke="#222" stroke-width="0.8"/>
<text transform="translate(459.60,307.60) scale(0.92,1)" font-size="6.9" fill="#3a3a3a" class="g" font-style="italic">Traf1</text>
<rect x="418.16" y="308.45" width="33.14" height="3.50" fill="#0f3c66"/>
<line x1="451.30" y1="310.20" x2="454.00" y2="310.20" stroke="#222" stroke-width="0.8"/>
<text transform="translate(459.60,312.50) scale(0.92,1)" font-size="6.9" fill="#3a3a3a" class="g" font-style="italic">Tnf</text>
<rect x="431.91" y="313.35" width="19.39" height="3.50" fill="#0f3c66"/>
<line x1="451.30" y1="315.10" x2="454.00" y2="315.10" stroke="#222" stroke-width="0.8"/>
<text transform="translate(459.60,317.40) scale(0.92,1)" font-size="6.9" fill="#3a3a3a" class="g" font-style="italic">Malt1</text>
<rect x="451.30" y="318.25" width="5.63" height="3.50" fill="#0f3c66"/>
<line x1="451.30" y1="320.00" x2="454.00" y2="320.00" stroke="#222" stroke-width="0.8"/>
<text transform="translate(459.60,322.30) scale(0.92,1)" font-size="6.9" fill="#3a3a3a" class="g" font-style="italic">Relb</text>
<rect x="440.17" y="323.15" width="11.13" height="3.50" fill="#0f3c66"/>
<line x1="451.30" y1="324.90" x2="454.00" y2="324.90" stroke="#222" stroke-width="0.8"/>
<text transform="translate(459.60,327.20) scale(0.92,1)" font-size="6.9" fill="#3a3a3a" class="g" font-style="italic">Sqstm1</text>
<rect x="398.25" y="331.35" width="53.06" height="3.50" fill="#9188c6"/>
<line x1="451.30" y1="333.10" x2="454.00" y2="333.10" stroke="#222" stroke-width="0.8"/>
<text transform="translate(459.60,335.40) scale(0.92,1)" font-size="6.9" fill="#3a3a3a" class="g" font-style="italic">Ccl3</text>
<rect x="391.17" y="336.25" width="60.13" height="3.50" fill="#9188c6"/>
<line x1="451.30" y1="338.00" x2="454.00" y2="338.00" stroke="#222" stroke-width="0.8"/>
<text transform="translate(459.60,340.30) scale(0.92,1)" font-size="6.9" fill="#3a3a3a" class="g" font-style="italic">Cxcl2</text>
<rect x="388.55" y="341.15" width="62.75" height="3.50" fill="#9188c6"/>
<line x1="451.30" y1="342.90" x2="454.00" y2="342.90" stroke="#222" stroke-width="0.8"/>
<text transform="translate(459.60,345.20) scale(0.92,1)" font-size="6.9" fill="#3a3a3a" class="g" font-style="italic">Ccl4</text>
<rect x="395.36" y="346.05" width="55.94" height="3.50" fill="#9188c6"/>
<line x1="451.30" y1="347.80" x2="454.00" y2="347.80" stroke="#222" stroke-width="0.8"/>
<text transform="translate(459.60,350.10) scale(0.92,1)" font-size="6.9" fill="#3a3a3a" class="g" font-style="italic">Spp1</text>
<line x1="451.30" y1="172.50" x2="451.30" y2="352.30" stroke="#222" stroke-width="0.8"/>
<line x1="385.00" y1="352.00" x2="464.70" y2="352.00" stroke="#222" stroke-width="0.8"/>
<line x1="385.80" y1="352.00" x2="385.80" y2="354.30" stroke="#222" stroke-width="0.6"/>
<text transform="translate(384.90,362.40)" font-size="5.8" fill="#1a1a1a" text-anchor="middle">−5</text>
<line x1="398.90" y1="352.00" x2="398.90" y2="354.30" stroke="#222" stroke-width="0.6"/>
<text transform="translate(398.00,362.40)" font-size="5.8" fill="#1a1a1a" text-anchor="middle">−4</text>
<line x1="412.00" y1="352.00" x2="412.00" y2="354.30" stroke="#222" stroke-width="0.6"/>
<text transform="translate(411.10,362.40)" font-size="5.8" fill="#1a1a1a" text-anchor="middle">−3</text>
<line x1="425.10" y1="352.00" x2="425.10" y2="354.30" stroke="#222" stroke-width="0.6"/>
<text transform="translate(424.20,362.40)" font-size="5.8" fill="#1a1a1a" text-anchor="middle">−2</text>
<line x1="438.20" y1="352.00" x2="438.20" y2="354.30" stroke="#222" stroke-width="0.6"/>
<text transform="translate(437.30,362.40)" font-size="5.8" fill="#1a1a1a" text-anchor="middle">−1</text>
<line x1="451.30" y1="352.00" x2="451.30" y2="354.30" stroke="#222" stroke-width="0.6"/>
<text transform="translate(451.30,362.40)" font-size="5.8" fill="#1a1a1a" text-anchor="middle">0</text>
<line x1="464.40" y1="352.00" x2="464.40" y2="354.30" stroke="#222" stroke-width="0.6"/>
<text transform="translate(464.40,362.40)" font-size="5.8" fill="#1a1a1a" text-anchor="middle">1</text>
<text transform="translate(425.60,373.40) scale(0.75,1)" font-size="7.3" fill="#1a1a1a" class="b" text-anchor="middle">Log<tspan font-size="4.53" dy="1.6">2</tspan><tspan dy="-1.6"> fold change</tspan></text>
<text transform="translate(425.40,382.20) scale(0.75,1)" font-size="7.3" fill="#1a1a1a" class="b" text-anchor="middle">(Ko vs. controls)</text>
<text transform="translate(154.60,396.20)" font-size="10.5" fill="#111" font-weight="bold">I</text>
<text transform="translate(187.90,405.20) scale(0.975,1)" font-size="6.1" fill="#1a1a1a">WT Stimulated vs. unstimulated</text>
<line x1="179.20" y1="411.00" x2="186.00" y2="411.00" stroke="#ec98a4" stroke-width="0.75"/>
<text transform="translate(187.90,413.10) scale(0.955,1)" font-size="6.1" fill="#1a1a1a">exocytosis</text>
<line x1="179.20" y1="418.28" x2="186.00" y2="418.28" stroke="#d8a85a" stroke-width="0.75"/>
<text transform="translate(187.90,420.38) scale(0.955,1)" font-size="6.1" fill="#1a1a1a">I−kappaB kinase/NF−kappaB signaling</text>
<line x1="179.20" y1="425.56" x2="186.00" y2="425.56" stroke="#b2b07e" stroke-width="0.75"/>
<text transform="translate(187.90,427.66) scale(0.955,1)" font-size="6.1" fill="#1a1a1a">immune response−activating signal transduction</text>
<line x1="179.20" y1="432.84" x2="186.00" y2="432.84" stroke="#3aa868" stroke-width="0.75"/>
<text transform="translate(187.90,434.94) scale(0.955,1)" font-size="6.1" fill="#1a1a1a">inflammatory response</text>
<line x1="179.20" y1="440.12" x2="186.00" y2="440.12" stroke="#2ab09c" stroke-width="0.75"/>
<text transform="translate(187.90,442.22) scale(0.955,1)" font-size="6.1" fill="#1a1a1a">interleukin−1 production</text>
<line x1="179.20" y1="447.40" x2="186.00" y2="447.40" stroke="#4ab6c2" stroke-width="0.75"/>
<text transform="translate(187.90,449.50) scale(0.955,1)" font-size="6.1" fill="#1a1a1a">leukocyte activation involved in immune response</text>
<line x1="179.20" y1="454.68" x2="186.00" y2="454.68" stroke="#8a96bc" stroke-width="0.75"/>
<text transform="translate(187.90,456.78) scale(0.955,1)" font-size="6.1" fill="#1a1a1a">neutrophil chemotaxis</text>
<line x1="179.20" y1="461.96" x2="186.00" y2="461.96" stroke="#7272aa" stroke-width="0.75"/>
<text transform="translate(187.90,464.06) scale(0.955,1)" font-size="6.1" fill="#1a1a1a">regulation of cytokine production</text>
<line x1="179.20" y1="469.24" x2="186.00" y2="469.24" stroke="#cc96b0" stroke-width="0.75"/>
<text transform="translate(187.90,471.34) scale(0.955,1)" font-size="6.1" fill="#1a1a1a">response to cytokine</text>
<line x1="226.38" y1="482.00" x2="226.38" y2="528.00" stroke="#f2f2f2" stroke-width="0.5"/>
<line x1="254.46" y1="482.00" x2="254.46" y2="528.00" stroke="#f2f2f2" stroke-width="0.5"/>
<line x1="282.54" y1="482.00" x2="282.54" y2="528.00" stroke="#f2f2f2" stroke-width="0.5"/>
<line x1="310.62" y1="482.00" x2="310.62" y2="528.00" stroke="#f2f2f2" stroke-width="0.5"/>
<path d="M198.30,561.80 L198.30,551.55 L199.42,552.26 L200.55,552.90 L201.67,553.48 L202.79,554.01 L203.92,554.49 L205.04,554.93 L206.16,555.32 L207.29,555.68 L208.41,556.01 L209.53,556.31 L210.66,556.58 L211.78,556.83 L212.90,557.06 L214.02,557.27 L215.15,557.46 L216.27,557.63 L217.39,557.79 L218.52,557.94 L219.64,558.07 L220.76,558.19 L221.89,558.31 L223.01,558.41 L224.13,558.51 L225.26,558.60 L226.38,558.68 L227.50,558.76 L228.63,558.83 L229.75,558.90 L230.87,558.96 L232.00,559.02 L233.12,559.07 L234.24,559.12 L235.37,559.17 L236.49,559.22 L237.61,559.26 L238.74,559.30 L239.86,559.34 L240.98,559.38 L242.10,559.42 L243.23,559.45 L244.35,559.49 L245.47,559.52 L246.60,559.55 L247.72,559.58 L248.84,559.61 L249.97,559.64 L251.09,559.67 L252.21,559.69 L253.34,559.72 L254.46,559.75 L255.58,559.77 L256.71,559.80 L257.83,559.82 L258.95,559.85 L260.08,559.87 L261.20,559.89 L262.32,559.92 L263.45,559.94 L264.57,559.96 L265.69,559.99 L266.82,560.01 L267.94,563.12 L269.06,563.23 L270.18,563.34 L271.31,563.46 L272.43,563.57 L273.55,563.68 L274.68,563.79 L275.80,563.90 L276.92,564.01 L278.05,564.12 L279.17,564.23 L280.29,564.35 L281.42,564.46 L282.54,564.57 L283.66,564.68 L284.79,564.79 L285.91,564.90 L287.03,565.02 L288.16,565.13 L289.28,565.24 L290.40,565.36 L291.53,565.47 L292.65,565.59 L293.77,565.71 L294.90,565.83 L296.02,565.96 L297.14,566.09 L298.26,566.23 L299.39,566.38 L300.51,566.54 L301.63,566.71 L302.76,566.89 L303.88,567.09 L305.00,567.32 L306.13,567.57 L307.25,567.86 L308.37,568.18 L309.50,568.55 L310.62,568.97 L311.74,569.46 L312.87,570.02 L313.99,570.66 L315.11,571.41 L316.24,572.26 L316.24,561.80 Z" fill="#b3b3b3"/>
<line x1="272.38" y1="535.62" x2="272.38" y2="539.01" stroke="#e0d8e0" stroke-width="0.45"/>
<line x1="286.07" y1="533.10" x2="286.07" y2="535.53" stroke="#e4dccc" stroke-width="0.45"/>
<line x1="309.87" y1="535.97" x2="309.87" y2="537.70" stroke="#e4e0cc" stroke-width="0.45"/>
<line x1="254.38" y1="534.26" x2="254.38" y2="535.96" stroke="#d8e4d8" stroke-width="0.45"/>
<line x1="228.67" y1="534.35" x2="228.67" y2="536.21" stroke="#d8e4d8" stroke-width="0.45"/>
<line x1="300.99" y1="533.53" x2="300.99" y2="536.62" stroke="#dcdcdc" stroke-width="0.45"/>
<line x1="215.74" y1="534.47" x2="215.74" y2="536.23" stroke="#e4dccc" stroke-width="0.45"/>
<line x1="313.26" y1="533.69" x2="313.26" y2="535.62" stroke="#e4e0cc" stroke-width="0.45"/>
<line x1="314.44" y1="533.95" x2="314.44" y2="537.38" stroke="#d8e4d8" stroke-width="0.45"/>
<line x1="262.59" y1="533.60" x2="262.59" y2="537.04" stroke="#d8e4d8" stroke-width="0.45"/>
<line x1="222.53" y1="533.99" x2="222.53" y2="536.21" stroke="#dcdcdc" stroke-width="0.45"/>
<line x1="218.92" y1="533.87" x2="218.92" y2="536.03" stroke="#d8e4d8" stroke-width="0.45"/>
<line x1="295.14" y1="533.01" x2="295.14" y2="535.87" stroke="#e4dccc" stroke-width="0.45"/>
<line x1="239.03" y1="534.17" x2="239.03" y2="536.28" stroke="#e0d8e0" stroke-width="0.45"/>
<line x1="280.98" y1="534.59" x2="280.98" y2="537.50" stroke="#d8e4d8" stroke-width="0.45"/>
<line x1="206.17" y1="536.13" x2="206.17" y2="538.35" stroke="#e4e0cc" stroke-width="0.45"/>
<line x1="246.80" y1="535.60" x2="246.80" y2="537.83" stroke="#e4dccc" stroke-width="0.45"/>
<line x1="267.19" y1="534.49" x2="267.19" y2="537.41" stroke="#e4e0cc" stroke-width="0.45"/>
<line x1="272.47" y1="533.39" x2="272.47" y2="535.38" stroke="#d8e4d8" stroke-width="0.45"/>
<line x1="295.38" y1="534.14" x2="295.38" y2="536.35" stroke="#dcdcdc" stroke-width="0.45"/>
<line x1="260.89" y1="533.36" x2="260.89" y2="536.35" stroke="#dcdcdc" stroke-width="0.45"/>
<line x1="292.78" y1="533.12" x2="292.78" y2="536.51" stroke="#e0d8e0" stroke-width="0.45"/>
<line x1="210.17" y1="534.69" x2="210.17" y2="536.92" stroke="#e0d8e0" stroke-width="0.45"/>
<line x1="216.84" y1="536.05" x2="216.84" y2="538.64" stroke="#e0d8e0" stroke-width="0.45"/>
<line x1="236.06" y1="534.01" x2="236.06" y2="537.11" stroke="#e0d8e0" stroke-width="0.45"/>
<line x1="272.84" y1="536.29" x2="272.84" y2="538.11" stroke="#e0d8e0" stroke-width="0.45"/>
<line x1="205.18" y1="534.76" x2="205.18" y2="537.07" stroke="#e4dccc" stroke-width="0.45"/>
<line x1="227.27" y1="534.13" x2="227.27" y2="536.14" stroke="#e4dccc" stroke-width="0.45"/>
<line x1="275.66" y1="533.18" x2="275.66" y2="536.52" stroke="#d8e4d8" stroke-width="0.45"/>
<line x1="203.33" y1="534.10" x2="203.33" y2="536.02" stroke="#dcdcdc" stroke-width="0.45"/>
<line x1="314.31" y1="536.13" x2="314.31" y2="538.90" stroke="#e4dccc" stroke-width="0.45"/>
<line x1="291.70" y1="533.56" x2="291.70" y2="535.80" stroke="#e4e0cc" stroke-width="0.45"/>
<line x1="206.38" y1="533.97" x2="206.38" y2="536.38" stroke="#dcdcdc" stroke-width="0.45"/>
<line x1="316.42" y1="536.22" x2="316.42" y2="538.63" stroke="#d8e4d8" stroke-width="0.45"/>
<line x1="256.61" y1="534.58" x2="256.61" y2="536.66" stroke="#e0d8e0" stroke-width="0.45"/>
<line x1="246.74" y1="533.37" x2="246.74" y2="536.52" stroke="#d8e4d8" stroke-width="0.45"/>
<line x1="261.71" y1="535.07" x2="261.71" y2="537.57" stroke="#d8e4d8" stroke-width="0.45"/>
<line x1="239.10" y1="534.62" x2="239.10" y2="537.15" stroke="#e4e0cc" stroke-width="0.45"/>
<line x1="263.63" y1="534.19" x2="263.63" y2="537.26" stroke="#e4dccc" stroke-width="0.45"/>
<line x1="290.16" y1="535.19" x2="290.16" y2="538.21" stroke="#e4dccc" stroke-width="0.45"/>
<line x1="242.02" y1="535.76" x2="242.02" y2="537.79" stroke="#e0d8e0" stroke-width="0.45"/>
<line x1="314.27" y1="536.16" x2="314.27" y2="538.34" stroke="#e0d8e0" stroke-width="0.45"/>
<line x1="220.40" y1="534.57" x2="220.40" y2="537.61" stroke="#e4e0cc" stroke-width="0.45"/>
<line x1="237.63" y1="534.53" x2="237.63" y2="537.66" stroke="#e0d8e0" stroke-width="0.45"/>
<line x1="275.25" y1="534.15" x2="275.25" y2="536.94" stroke="#e0d8e0" stroke-width="0.45"/>
<line x1="285.83" y1="534.16" x2="285.83" y2="537.34" stroke="#dcdcdc" stroke-width="0.45"/>
<line x1="301.28" y1="536.22" x2="301.28" y2="539.63" stroke="#dcdcdc" stroke-width="0.45"/>
<line x1="260.12" y1="536.23" x2="260.12" y2="538.13" stroke="#e4dccc" stroke-width="0.45"/>
<line x1="241.86" y1="533.93" x2="241.86" y2="535.59" stroke="#dcdcdc" stroke-width="0.45"/>
<line x1="277.99" y1="533.57" x2="277.99" y2="536.63" stroke="#dcdcdc" stroke-width="0.45"/>
<line x1="267.46" y1="534.00" x2="267.46" y2="536.61" stroke="#dcdcdc" stroke-width="0.45"/>
<line x1="300.95" y1="535.38" x2="300.95" y2="536.93" stroke="#e0d8e0" stroke-width="0.45"/>
<line x1="218.22" y1="535.06" x2="218.22" y2="536.92" stroke="#dcdcdc" stroke-width="0.45"/>
<line x1="288.30" y1="535.08" x2="288.30" y2="536.67" stroke="#d8e4d8" stroke-width="0.45"/>
<line x1="254.68" y1="533.55" x2="254.68" y2="536.83" stroke="#d8e4d8" stroke-width="0.45"/>
<line x1="212.47" y1="534.59" x2="212.47" y2="537.19" stroke="#d8e4d8" stroke-width="0.45"/>
<line x1="248.11" y1="534.25" x2="248.11" y2="536.98" stroke="#e0d8e0" stroke-width="0.45"/>
<line x1="268.55" y1="535.37" x2="268.55" y2="537.62" stroke="#d8e4d8" stroke-width="0.45"/>
<line x1="240.51" y1="535.82" x2="240.51" y2="539.06" stroke="#e0d8e0" stroke-width="0.45"/>
<line x1="280.10" y1="534.23" x2="280.10" y2="535.81" stroke="#e4dccc" stroke-width="0.45"/>
<line x1="271.29" y1="533.97" x2="271.29" y2="536.50" stroke="#e4e0cc" stroke-width="0.45"/>
<line x1="310.78" y1="536.16" x2="310.78" y2="539.30" stroke="#e0d8e0" stroke-width="0.45"/>
<line x1="248.53" y1="535.12" x2="248.53" y2="537.36" stroke="#e4dccc" stroke-width="0.45"/>
<line x1="216.13" y1="534.26" x2="216.13" y2="536.72" stroke="#e4dccc" stroke-width="0.45"/>
<line x1="222.80" y1="535.01" x2="222.80" y2="537.21" stroke="#d8e4d8" stroke-width="0.45"/>
<line x1="304.04" y1="534.26" x2="304.04" y2="536.41" stroke="#e4e0cc" stroke-width="0.45"/>
<line x1="306.73" y1="533.46" x2="306.73" y2="536.22" stroke="#e4dccc" stroke-width="0.45"/>
<line x1="303.78" y1="534.42" x2="303.78" y2="537.87" stroke="#dcdcdc" stroke-width="0.45"/>
<line x1="257.23" y1="536.21" x2="257.23" y2="538.47" stroke="#dcdcdc" stroke-width="0.45"/>
<line x1="311.95" y1="534.97" x2="311.95" y2="536.99" stroke="#d8e4d8" stroke-width="0.45"/>
<line x1="314.27" y1="533.83" x2="314.27" y2="535.37" stroke="#dcdcdc" stroke-width="0.45"/>
<line x1="310.09" y1="534.62" x2="310.09" y2="536.70" stroke="#e0d8e0" stroke-width="0.45"/>
<line x1="255.30" y1="535.18" x2="255.30" y2="538.60" stroke="#e4e0cc" stroke-width="0.45"/>
<line x1="228.22" y1="535.58" x2="228.22" y2="538.73" stroke="#e4e0cc" stroke-width="0.45"/>
<line x1="201.04" y1="534.85" x2="201.04" y2="536.84" stroke="#e4dccc" stroke-width="0.45"/>
<line x1="254.99" y1="533.81" x2="254.99" y2="535.85" stroke="#e4e0cc" stroke-width="0.45"/>
<line x1="217.61" y1="533.97" x2="217.61" y2="536.68" stroke="#e0d8e0" stroke-width="0.45"/>
<line x1="255.03" y1="535.91" x2="255.03" y2="539.20" stroke="#e4dccc" stroke-width="0.45"/>
<line x1="201.39" y1="533.99" x2="201.39" y2="536.56" stroke="#d8e4d8" stroke-width="0.45"/>
<line x1="238.83" y1="535.41" x2="238.83" y2="536.97" stroke="#e0d8e0" stroke-width="0.45"/>
<line x1="240.42" y1="533.44" x2="240.42" y2="534.94" stroke="#e4dccc" stroke-width="0.45"/>
<line x1="264.23" y1="535.93" x2="264.23" y2="538.52" stroke="#e4e0cc" stroke-width="0.45"/>
<line x1="201.20" y1="534.96" x2="201.20" y2="537.84" stroke="#dcdcdc" stroke-width="0.45"/>
<line x1="311.03" y1="535.83" x2="311.03" y2="539.02" stroke="#dcdcdc" stroke-width="0.45"/>
<line x1="255.16" y1="535.97" x2="255.16" y2="538.40" stroke="#d8e4d8" stroke-width="0.45"/>
<line x1="288.21" y1="535.76" x2="288.21" y2="538.65" stroke="#e0d8e0" stroke-width="0.45"/>
<line x1="250.14" y1="535.14" x2="250.14" y2="537.58" stroke="#e0d8e0" stroke-width="0.45"/>
<line x1="235.88" y1="534.58" x2="235.88" y2="537.18" stroke="#d8e4d8" stroke-width="0.45"/>
<line x1="257.73" y1="534.78" x2="257.73" y2="537.13" stroke="#e0d8e0" stroke-width="0.45"/>
<line x1="262.84" y1="533.23" x2="262.84" y2="535.19" stroke="#e4e0cc" stroke-width="0.45"/>
<line x1="295.39" y1="535.19" x2="295.39" y2="536.74" stroke="#e4e0cc" stroke-width="0.45"/>
<line x1="284.04" y1="536.29" x2="284.04" y2="539.20" stroke="#e4e0cc" stroke-width="0.45"/>
<line x1="205.22" y1="533.72" x2="205.22" y2="536.51" stroke="#e4e0cc" stroke-width="0.45"/>
<line x1="310.91" y1="536.28" x2="310.91" y2="539.19" stroke="#d8e4d8" stroke-width="0.45"/>
<line x1="250.74" y1="535.02" x2="250.74" y2="537.34" stroke="#d8e4d8" stroke-width="0.45"/>
<line x1="218.36" y1="533.70" x2="218.36" y2="536.31" stroke="#e4dccc" stroke-width="0.45"/>
<line x1="276.74" y1="533.92" x2="276.74" y2="536.57" stroke="#e4e0cc" stroke-width="0.45"/>
<line x1="213.35" y1="535.90" x2="213.35" y2="537.67" stroke="#dcdcdc" stroke-width="0.45"/>
<line x1="250.01" y1="535.26" x2="250.01" y2="537.74" stroke="#e0d8e0" stroke-width="0.45"/>
<line x1="240.85" y1="536.02" x2="240.85" y2="537.80" stroke="#e0d8e0" stroke-width="0.45"/>
<line x1="233.98" y1="535.08" x2="233.98" y2="537.60" stroke="#e4dccc" stroke-width="0.45"/>
<line x1="306.02" y1="534.81" x2="306.02" y2="536.76" stroke="#e4dccc" stroke-width="0.45"/>
<line x1="206.89" y1="533.84" x2="206.89" y2="536.84" stroke="#d8e4d8" stroke-width="0.45"/>
<line x1="259.99" y1="535.67" x2="259.99" y2="538.89" stroke="#d8e4d8" stroke-width="0.45"/>
<line x1="252.54" y1="533.59" x2="252.54" y2="536.52" stroke="#dcdcdc" stroke-width="0.45"/>
<line x1="276.14" y1="534.89" x2="276.14" y2="536.46" stroke="#e4e0cc" stroke-width="0.45"/>
<line x1="300.52" y1="534.96" x2="300.52" y2="536.94" stroke="#e4dccc" stroke-width="0.45"/>
<line x1="302.10" y1="536.18" x2="302.10" y2="537.89" stroke="#dcdcdc" stroke-width="0.45"/>
<line x1="261.59" y1="535.39" x2="261.59" y2="537.00" stroke="#e4dccc" stroke-width="0.45"/>
<line x1="217.14" y1="535.25" x2="217.14" y2="537.19" stroke="#dcdcdc" stroke-width="0.45"/>
<line x1="213.08" y1="535.71" x2="213.08" y2="537.49" stroke="#dcdcdc" stroke-width="0.45"/>
<line x1="272.60" y1="535.76" x2="272.60" y2="537.84" stroke="#e0d8e0" stroke-width="0.45"/>
<line x1="308.37" y1="535.63" x2="308.37" y2="537.88" stroke="#e0d8e0" stroke-width="0.45"/>
<line x1="284.06" y1="535.14" x2="284.06" y2="538.25" stroke="#e0d8e0" stroke-width="0.45"/>
<line x1="250.21" y1="534.71" x2="250.21" y2="537.39" stroke="#e0d8e0" stroke-width="0.45"/>
<line x1="266.57" y1="534.31" x2="266.57" y2="536.00" stroke="#d8e4d8" stroke-width="0.45"/>
<line x1="203.38" y1="533.65" x2="203.38" y2="536.13" stroke="#d8e4d8" stroke-width="0.45"/>
<line x1="309.14" y1="533.00" x2="309.14" y2="535.44" stroke="#e0d8e0" stroke-width="0.45"/>
<line x1="303.60" y1="536.04" x2="303.60" y2="538.19" stroke="#e4dccc" stroke-width="0.45"/>
<line x1="253.54" y1="533.51" x2="253.54" y2="535.33" stroke="#d8e4d8" stroke-width="0.45"/>
<line x1="243.33" y1="535.87" x2="243.33" y2="538.31" stroke="#dcdcdc" stroke-width="0.45"/>
<line x1="264.09" y1="533.92" x2="264.09" y2="535.74" stroke="#e4e0cc" stroke-width="0.45"/>
<line x1="233.09" y1="533.11" x2="233.09" y2="536.40" stroke="#d8e4d8" stroke-width="0.45"/>
<line x1="239.78" y1="534.04" x2="239.78" y2="535.66" stroke="#e0d8e0" stroke-width="0.45"/>
<line x1="202.04" y1="534.56" x2="202.04" y2="537.95" stroke="#dcdcdc" stroke-width="0.45"/>
<line x1="213.30" y1="533.96" x2="213.30" y2="536.81" stroke="#e0d8e0" stroke-width="0.45"/>
<line x1="284.83" y1="533.11" x2="284.83" y2="536.04" stroke="#d8e4d8" stroke-width="0.45"/>
<line x1="266.74" y1="535.04" x2="266.74" y2="538.36" stroke="#e4e0cc" stroke-width="0.45"/>
<line x1="282.19" y1="533.61" x2="282.19" y2="535.83" stroke="#e0d8e0" stroke-width="0.45"/>
<line x1="207.32" y1="533.54" x2="207.32" y2="535.52" stroke="#dcdcdc" stroke-width="0.45"/>
<line x1="278.15" y1="535.13" x2="278.15" y2="537.49" stroke="#e4e0cc" stroke-width="0.45"/>
<line x1="313.63" y1="534.52" x2="313.63" y2="536.93" stroke="#e4e0cc" stroke-width="0.45"/>
<line x1="279.22" y1="533.15" x2="279.22" y2="535.75" stroke="#d8e4d8" stroke-width="0.45"/>
<line x1="315.28" y1="534.87" x2="315.28" y2="538.24" stroke="#e4dccc" stroke-width="0.45"/>
<line x1="283.33" y1="535.97" x2="283.33" y2="538.45" stroke="#d8e4d8" stroke-width="0.45"/>
<line x1="308.98" y1="535.25" x2="308.98" y2="538.04" stroke="#e4e0cc" stroke-width="0.45"/>
<line x1="257.70" y1="533.16" x2="257.70" y2="536.32" stroke="#e4e0cc" stroke-width="0.45"/>
<line x1="251.67" y1="535.89" x2="251.67" y2="539.29" stroke="#e4e0cc" stroke-width="0.45"/>
<line x1="222.26" y1="535.11" x2="222.26" y2="536.99" stroke="#e4dccc" stroke-width="0.45"/>
<line x1="226.85" y1="535.61" x2="226.85" y2="537.28" stroke="#e0d8e0" stroke-width="0.45"/>
<line x1="314.76" y1="534.97" x2="314.76" y2="538.19" stroke="#d8e4d8" stroke-width="0.45"/>
<line x1="224.59" y1="534.46" x2="224.59" y2="536.67" stroke="#e4e0cc" stroke-width="0.45"/>
<line x1="249.01" y1="534.72" x2="249.01" y2="536.49" stroke="#dcdcdc" stroke-width="0.45"/>
<line x1="200.95" y1="535.27" x2="200.95" y2="538.56" stroke="#e0d8e0" stroke-width="0.45"/>
<line x1="316.46" y1="533.38" x2="316.46" y2="535.51" stroke="#e4dccc" stroke-width="0.45"/>
<line x1="209.75" y1="535.70" x2="209.75" y2="537.83" stroke="#e0d8e0" stroke-width="0.45"/>
<line x1="214.69" y1="534.56" x2="214.69" y2="537.45" stroke="#e4e0cc" stroke-width="0.45"/>
<line x1="292.96" y1="535.20" x2="292.96" y2="537.25" stroke="#e4dccc" stroke-width="0.45"/>
<line x1="257.14" y1="533.16" x2="257.14" y2="535.06" stroke="#d8e4d8" stroke-width="0.45"/>
<line x1="232.96" y1="535.92" x2="232.96" y2="537.57" stroke="#e0d8e0" stroke-width="0.45"/>
<line x1="289.53" y1="535.48" x2="289.53" y2="538.09" stroke="#dcdcdc" stroke-width="0.45"/>
<line x1="304.34" y1="534.90" x2="304.34" y2="537.28" stroke="#d8e4d8" stroke-width="0.45"/>
<line x1="295.07" y1="535.40" x2="295.07" y2="538.30" stroke="#e4e0cc" stroke-width="0.45"/>
<line x1="230.82" y1="534.85" x2="230.82" y2="537.00" stroke="#dcdcdc" stroke-width="0.45"/>
<line x1="235.35" y1="533.87" x2="235.35" y2="536.72" stroke="#d8e4d8" stroke-width="0.45"/>
<line x1="232.91" y1="534.79" x2="232.91" y2="537.77" stroke="#e4e0cc" stroke-width="0.45"/>
<line x1="202.76" y1="533.17" x2="202.76" y2="534.93" stroke="#e4e0cc" stroke-width="0.45"/>
<line x1="241.29" y1="536.13" x2="241.29" y2="538.86" stroke="#e0d8e0" stroke-width="0.45"/>
<line x1="226.54" y1="533.41" x2="226.54" y2="535.32" stroke="#dcdcdc" stroke-width="0.45"/>
<line x1="241.41" y1="534.93" x2="241.41" y2="538.08" stroke="#d8e4d8" stroke-width="0.45"/>
<line x1="284.54" y1="533.88" x2="284.54" y2="536.60" stroke="#e4e0cc" stroke-width="0.45"/>
<line x1="273.28" y1="534.47" x2="273.28" y2="537.85" stroke="#d8e4d8" stroke-width="0.45"/>
<line x1="292.49" y1="534.10" x2="292.49" y2="536.49" stroke="#e4e0cc" stroke-width="0.45"/>
<line x1="226.21" y1="534.43" x2="226.21" y2="536.82" stroke="#e4dccc" stroke-width="0.45"/>
<line x1="289.30" y1="534.76" x2="289.30" y2="538.20" stroke="#d8e4d8" stroke-width="0.45"/>
<line x1="269.23" y1="533.42" x2="269.23" y2="536.62" stroke="#e4e0cc" stroke-width="0.45"/>
<line x1="279.70" y1="536.23" x2="279.70" y2="537.79" stroke="#d8e4d8" stroke-width="0.45"/>
<line x1="267.01" y1="535.33" x2="267.01" y2="537.54" stroke="#dcdcdc" stroke-width="0.45"/>
<line x1="253.81" y1="533.91" x2="253.81" y2="535.82" stroke="#d8e4d8" stroke-width="0.45"/>
<line x1="265.30" y1="535.52" x2="265.30" y2="538.59" stroke="#e0d8e0" stroke-width="0.45"/>
<line x1="242.40" y1="535.69" x2="242.40" y2="538.51" stroke="#d8e4d8" stroke-width="0.45"/>
<line x1="305.78" y1="535.04" x2="305.78" y2="537.34" stroke="#e4e0cc" stroke-width="0.45"/>
<line x1="216.24" y1="534.62" x2="216.24" y2="536.19" stroke="#d8e4d8" stroke-width="0.45"/>
<line x1="219.34" y1="535.49" x2="219.34" y2="537.55" stroke="#e4e0cc" stroke-width="0.45"/>
<line x1="307.24" y1="534.57" x2="307.24" y2="537.01" stroke="#e0d8e0" stroke-width="0.45"/>
<line x1="261.95" y1="535.64" x2="261.95" y2="537.89" stroke="#e4e0cc" stroke-width="0.45"/>
<line x1="200.68" y1="535.00" x2="200.68" y2="537.74" stroke="#e4dccc" stroke-width="0.45"/>
<line x1="294.65" y1="534.05" x2="294.65" y2="535.60" stroke="#e4e0cc" stroke-width="0.45"/>
<line x1="236.01" y1="534.65" x2="236.01" y2="537.25" stroke="#dcdcdc" stroke-width="0.45"/>
<line x1="280.30" y1="536.24" x2="280.30" y2="539.37" stroke="#dcdcdc" stroke-width="0.45"/>
<line x1="307.59" y1="535.21" x2="307.59" y2="537.79" stroke="#e4dccc" stroke-width="0.45"/>
<line x1="292.95" y1="536.16" x2="292.95" y2="537.70" stroke="#e0d8e0" stroke-width="0.45"/>
<line x1="289.59" y1="533.94" x2="289.59" y2="535.59" stroke="#d8e4d8" stroke-width="0.45"/>
<line x1="209.71" y1="535.02" x2="209.71" y2="538.24" stroke="#e0d8e0" stroke-width="0.45"/>
<line x1="309.59" y1="534.01" x2="309.59" y2="537.37" stroke="#dcdcdc" stroke-width="0.45"/>
<line x1="231.63" y1="533.24" x2="231.63" y2="536.24" stroke="#d8e4d8" stroke-width="0.45"/>
<line x1="277.88" y1="535.96" x2="277.88" y2="538.84" stroke="#e0d8e0" stroke-width="0.45"/>
<line x1="297.58" y1="535.02" x2="297.58" y2="536.93" stroke="#e4dccc" stroke-width="0.45"/>
<line x1="259.95" y1="533.79" x2="259.95" y2="537.24" stroke="#e4e0cc" stroke-width="0.45"/>
<line x1="263.14" y1="536.20" x2="263.14" y2="539.04" stroke="#dcdcdc" stroke-width="0.45"/>
<line x1="243.72" y1="535.97" x2="243.72" y2="539.29" stroke="#e4dccc" stroke-width="0.45"/>
<line x1="271.28" y1="534.07" x2="271.28" y2="537.26" stroke="#dcdcdc" stroke-width="0.45"/>
<line x1="303.55" y1="533.82" x2="303.55" y2="535.52" stroke="#e0d8e0" stroke-width="0.45"/>
<line x1="233.88" y1="535.63" x2="233.88" y2="537.29" stroke="#e0d8e0" stroke-width="0.45"/>
<line x1="310.71" y1="535.09" x2="310.71" y2="538.12" stroke="#e4e0cc" stroke-width="0.45"/>
<line x1="225.78" y1="534.88" x2="225.78" y2="537.63" stroke="#e4e0cc" stroke-width="0.45"/>
<line x1="274.37" y1="535.40" x2="274.37" y2="537.74" stroke="#e4dccc" stroke-width="0.45"/>
<line x1="249.27" y1="534.97" x2="249.27" y2="536.96" stroke="#e4dccc" stroke-width="0.45"/>
<line x1="248.44" y1="535.00" x2="248.44" y2="538.43" stroke="#e4e0cc" stroke-width="0.45"/>
<line x1="221.41" y1="533.49" x2="221.41" y2="535.58" stroke="#e4e0cc" stroke-width="0.45"/>
<line x1="292.32" y1="539.69" x2="292.32" y2="541.71" stroke="#a0a0a0" stroke-width="0.45"/>
<line x1="199.55" y1="539.63" x2="199.55" y2="542.65" stroke="#a8a8b8" stroke-width="0.45"/>
<line x1="243.16" y1="538.86" x2="243.16" y2="541.97" stroke="#a0a0a0" stroke-width="0.45"/>
<line x1="284.89" y1="541.35" x2="284.89" y2="543.93" stroke="#bcbcbc" stroke-width="0.45"/>
<line x1="210.52" y1="539.96" x2="210.52" y2="543.07" stroke="#a8a8b8" stroke-width="0.45"/>
<line x1="230.57" y1="540.47" x2="230.57" y2="543.66" stroke="#a8a8b8" stroke-width="0.45"/>
<line x1="238.76" y1="539.21" x2="238.76" y2="541.53" stroke="#a0a0a0" stroke-width="0.45"/>
<line x1="228.81" y1="540.75" x2="228.81" y2="543.65" stroke="#a0a0a0" stroke-width="0.45"/>
<line x1="292.68" y1="541.51" x2="292.68" y2="544.19" stroke="#a0a0a0" stroke-width="0.45"/>
<line x1="223.00" y1="539.70" x2="223.00" y2="542.86" stroke="#909090" stroke-width="0.45"/>
<line x1="222.17" y1="540.31" x2="222.17" y2="543.21" stroke="#a8a8b8" stroke-width="0.45"/>
<line x1="293.74" y1="540.27" x2="293.74" y2="542.26" stroke="#a0a0a0" stroke-width="0.45"/>
<line x1="249.77" y1="540.10" x2="249.77" y2="541.78" stroke="#909090" stroke-width="0.45"/>
<line x1="302.47" y1="538.58" x2="302.47" y2="541.29" stroke="#a8a8b8" stroke-width="0.45"/>
<line x1="230.84" y1="539.28" x2="230.84" y2="541.23" stroke="#b0b0b0" stroke-width="0.45"/>
<line x1="269.39" y1="537.85" x2="269.39" y2="540.90" stroke="#a8a8b8" stroke-width="0.45"/>
<line x1="201.50" y1="539.98" x2="201.50" y2="542.82" stroke="#909090" stroke-width="0.45"/>
<line x1="271.88" y1="539.27" x2="271.88" y2="541.55" stroke="#909090" stroke-width="0.45"/>
<line x1="214.34" y1="538.01" x2="214.34" y2="540.36" stroke="#bcbcbc" stroke-width="0.45"/>
<line x1="286.82" y1="538.17" x2="286.82" y2="540.56" stroke="#bcbcbc" stroke-width="0.45"/>
<line x1="293.76" y1="541.28" x2="293.76" y2="544.12" stroke="#a0a0a0" stroke-width="0.45"/>
<line x1="303.57" y1="540.86" x2="303.57" y2="543.12" stroke="#bcbcbc" stroke-width="0.45"/>
<line x1="208.45" y1="539.64" x2="208.45" y2="542.55" stroke="#bcbcbc" stroke-width="0.45"/>
<line x1="247.36" y1="538.55" x2="247.36" y2="541.41" stroke="#a0a0a0" stroke-width="0.45"/>
<line x1="252.31" y1="537.87" x2="252.31" y2="540.45" stroke="#b0b0b0" stroke-width="0.45"/>
<line x1="228.88" y1="538.53" x2="228.88" y2="541.04" stroke="#909090" stroke-width="0.45"/>
<line x1="238.04" y1="538.79" x2="238.04" y2="541.11" stroke="#a8a8b8" stroke-width="0.45"/>
<line x1="302.38" y1="539.69" x2="302.38" y2="542.40" stroke="#a8a8b8" stroke-width="0.45"/>
<line x1="276.29" y1="538.35" x2="276.29" y2="540.61" stroke="#bcbcbc" stroke-width="0.45"/>
<line x1="235.26" y1="539.06" x2="235.26" y2="541.88" stroke="#bcbcbc" stroke-width="0.45"/>
<line x1="313.08" y1="539.27" x2="313.08" y2="541.97" stroke="#a8a8b8" stroke-width="0.45"/>
<line x1="236.95" y1="541.60" x2="236.95" y2="544.56" stroke="#bcbcbc" stroke-width="0.45"/>
<line x1="218.01" y1="539.98" x2="218.01" y2="542.73" stroke="#909090" stroke-width="0.45"/>
<line x1="312.36" y1="537.92" x2="312.36" y2="540.96" stroke="#b0b0b0" stroke-width="0.45"/>
<line x1="212.62" y1="539.21" x2="212.62" y2="542.59" stroke="#909090" stroke-width="0.45"/>
<line x1="299.36" y1="541.39" x2="299.36" y2="543.19" stroke="#a0a0a0" stroke-width="0.45"/>
<line x1="231.00" y1="539.45" x2="231.00" y2="542.51" stroke="#a0a0a0" stroke-width="0.45"/>
<line x1="294.68" y1="538.10" x2="294.68" y2="540.06" stroke="#bcbcbc" stroke-width="0.45"/>
<line x1="242.90" y1="540.46" x2="242.90" y2="542.44" stroke="#b0b0b0" stroke-width="0.45"/>
<line x1="236.74" y1="540.25" x2="236.74" y2="541.94" stroke="#a0a0a0" stroke-width="0.45"/>
<line x1="211.84" y1="539.60" x2="211.84" y2="542.90" stroke="#bcbcbc" stroke-width="0.45"/>
<line x1="273.12" y1="538.30" x2="273.12" y2="541.46" stroke="#a8a8b8" stroke-width="0.45"/>
<line x1="209.27" y1="540.26" x2="209.27" y2="542.29" stroke="#a8a8b8" stroke-width="0.45"/>
<line x1="297.59" y1="539.75" x2="297.59" y2="541.29" stroke="#bcbcbc" stroke-width="0.45"/>
<line x1="274.08" y1="541.34" x2="274.08" y2="543.73" stroke="#b0b0b0" stroke-width="0.45"/>
<line x1="290.58" y1="539.98" x2="290.58" y2="542.43" stroke="#bcbcbc" stroke-width="0.45"/>
<line x1="267.28" y1="541.61" x2="267.28" y2="543.69" stroke="#909090" stroke-width="0.45"/>
<line x1="309.44" y1="539.76" x2="309.44" y2="541.81" stroke="#a0a0a0" stroke-width="0.45"/>
<line x1="231.57" y1="539.48" x2="231.57" y2="542.82" stroke="#bcbcbc" stroke-width="0.45"/>
<line x1="203.23" y1="538.77" x2="203.23" y2="541.48" stroke="#a0a0a0" stroke-width="0.45"/>
<line x1="227.40" y1="540.68" x2="227.40" y2="542.86" stroke="#a0a0a0" stroke-width="0.45"/>
<line x1="203.24" y1="540.53" x2="203.24" y2="542.72" stroke="#b0b0b0" stroke-width="0.45"/>
<line x1="208.58" y1="539.36" x2="208.58" y2="541.13" stroke="#a0a0a0" stroke-width="0.45"/>
<line x1="286.43" y1="538.30" x2="286.43" y2="540.50" stroke="#a0a0a0" stroke-width="0.45"/>
<line x1="313.98" y1="539.85" x2="313.98" y2="541.65" stroke="#b0b0b0" stroke-width="0.45"/>
<line x1="232.46" y1="539.78" x2="232.46" y2="542.98" stroke="#b0b0b0" stroke-width="0.45"/>
<line x1="292.71" y1="540.51" x2="292.71" y2="543.44" stroke="#b0b0b0" stroke-width="0.45"/>
<line x1="214.22" y1="540.75" x2="214.22" y2="544.24" stroke="#b0b0b0" stroke-width="0.45"/>
<line x1="265.14" y1="540.87" x2="265.14" y2="543.50" stroke="#a0a0a0" stroke-width="0.45"/>
<line x1="221.51" y1="541.13" x2="221.51" y2="543.69" stroke="#909090" stroke-width="0.45"/>
<line x1="200.63" y1="539.95" x2="200.63" y2="542.77" stroke="#a8a8b8" stroke-width="0.45"/>
<line x1="283.32" y1="540.94" x2="283.32" y2="543.18" stroke="#a8a8b8" stroke-width="0.45"/>
<line x1="277.49" y1="538.44" x2="277.49" y2="541.19" stroke="#b0b0b0" stroke-width="0.45"/>
<line x1="244.51" y1="537.85" x2="244.51" y2="540.29" stroke="#a0a0a0" stroke-width="0.45"/>
<line x1="206.43" y1="538.19" x2="206.43" y2="540.43" stroke="#a8a8b8" stroke-width="0.45"/>
<line x1="203.27" y1="538.68" x2="203.27" y2="540.99" stroke="#a8a8b8" stroke-width="0.45"/>
<line x1="288.85" y1="538.16" x2="288.85" y2="539.82" stroke="#909090" stroke-width="0.45"/>
<line x1="266.59" y1="538.46" x2="266.59" y2="541.28" stroke="#a0a0a0" stroke-width="0.45"/>
<line x1="213.55" y1="540.54" x2="213.55" y2="542.39" stroke="#a0a0a0" stroke-width="0.45"/>
<line x1="279.52" y1="540.73" x2="279.52" y2="543.58" stroke="#a0a0a0" stroke-width="0.45"/>
<line x1="284.84" y1="538.80" x2="284.84" y2="540.76" stroke="#909090" stroke-width="0.45"/>
<line x1="294.95" y1="540.87" x2="294.95" y2="542.80" stroke="#a8a8b8" stroke-width="0.45"/>
<line x1="268.79" y1="539.86" x2="268.79" y2="542.82" stroke="#909090" stroke-width="0.45"/>
<line x1="313.44" y1="540.83" x2="313.44" y2="542.52" stroke="#909090" stroke-width="0.45"/>
<line x1="269.16" y1="539.21" x2="269.16" y2="542.09" stroke="#a0a0a0" stroke-width="0.45"/>
<line x1="225.97" y1="539.21" x2="225.97" y2="542.09" stroke="#a0a0a0" stroke-width="0.45"/>
<line x1="239.35" y1="539.14" x2="239.35" y2="540.70" stroke="#a0a0a0" stroke-width="0.45"/>
<line x1="238.83" y1="537.81" x2="238.83" y2="540.97" stroke="#bcbcbc" stroke-width="0.45"/>
<line x1="209.74" y1="540.20" x2="209.74" y2="542.16" stroke="#a8a8b8" stroke-width="0.45"/>
<line x1="214.23" y1="538.51" x2="214.23" y2="541.96" stroke="#a8a8b8" stroke-width="0.45"/>
<line x1="244.42" y1="539.47" x2="244.42" y2="542.01" stroke="#a8a8b8" stroke-width="0.45"/>
<line x1="296.67" y1="538.79" x2="296.67" y2="540.89" stroke="#909090" stroke-width="0.45"/>
<line x1="203.34" y1="538.21" x2="203.34" y2="540.06" stroke="#bcbcbc" stroke-width="0.45"/>
<line x1="212.19" y1="539.80" x2="212.19" y2="541.54" stroke="#a0a0a0" stroke-width="0.45"/>
<line x1="268.85" y1="539.70" x2="268.85" y2="542.94" stroke="#bcbcbc" stroke-width="0.45"/>
<line x1="289.27" y1="540.97" x2="289.27" y2="543.41" stroke="#a8a8b8" stroke-width="0.45"/>
<line x1="298.00" y1="538.40" x2="298.00" y2="541.74" stroke="#bcbcbc" stroke-width="0.45"/>
<line x1="301.26" y1="539.12" x2="301.26" y2="541.12" stroke="#a0a0a0" stroke-width="0.45"/>
<line x1="215.04" y1="540.09" x2="215.04" y2="542.95" stroke="#909090" stroke-width="0.45"/>
<line x1="225.63" y1="538.49" x2="225.63" y2="540.80" stroke="#909090" stroke-width="0.45"/>
<line x1="272.08" y1="541.41" x2="272.08" y2="543.09" stroke="#b0b0b0" stroke-width="0.45"/>
<line x1="244.01" y1="540.74" x2="244.01" y2="544.06" stroke="#b0b0b0" stroke-width="0.45"/>
<line x1="216.76" y1="539.83" x2="216.76" y2="542.88" stroke="#a0a0a0" stroke-width="0.45"/>
<line x1="256.60" y1="541.24" x2="256.60" y2="543.40" stroke="#909090" stroke-width="0.45"/>
<line x1="282.85" y1="541.18" x2="282.85" y2="543.98" stroke="#bcbcbc" stroke-width="0.45"/>
<line x1="292.84" y1="538.82" x2="292.84" y2="540.40" stroke="#a0a0a0" stroke-width="0.45"/>
<line x1="268.41" y1="540.61" x2="268.41" y2="542.42" stroke="#a8a8b8" stroke-width="0.45"/>
<line x1="258.60" y1="540.85" x2="258.60" y2="543.88" stroke="#a0a0a0" stroke-width="0.45"/>
<line x1="312.72" y1="541.62" x2="312.72" y2="544.45" stroke="#a0a0a0" stroke-width="0.45"/>
<line x1="214.11" y1="539.12" x2="214.11" y2="542.57" stroke="#909090" stroke-width="0.45"/>
<line x1="295.28" y1="538.48" x2="295.28" y2="540.35" stroke="#b0b0b0" stroke-width="0.45"/>
<line x1="273.08" y1="540.68" x2="273.08" y2="543.10" stroke="#bcbcbc" stroke-width="0.45"/>
<line x1="212.43" y1="538.33" x2="212.43" y2="541.78" stroke="#a8a8b8" stroke-width="0.45"/>
<line x1="222.47" y1="540.66" x2="222.47" y2="544.10" stroke="#909090" stroke-width="0.45"/>
<line x1="272.74" y1="538.87" x2="272.74" y2="540.37" stroke="#a0a0a0" stroke-width="0.45"/>
<line x1="302.74" y1="539.67" x2="302.74" y2="542.43" stroke="#a0a0a0" stroke-width="0.45"/>
<line x1="236.72" y1="538.87" x2="236.72" y2="541.81" stroke="#a0a0a0" stroke-width="0.45"/>
<line x1="244.44" y1="539.11" x2="244.44" y2="542.09" stroke="#a8a8b8" stroke-width="0.45"/>
<line x1="300.00" y1="541.05" x2="300.00" y2="542.84" stroke="#b0b0b0" stroke-width="0.45"/>
<line x1="277.57" y1="540.70" x2="277.57" y2="543.78" stroke="#bcbcbc" stroke-width="0.45"/>
<line x1="310.16" y1="538.21" x2="310.16" y2="540.60" stroke="#b0b0b0" stroke-width="0.45"/>
<line x1="200.96" y1="540.45" x2="200.96" y2="542.91" stroke="#b0b0b0" stroke-width="0.45"/>
<line x1="207.73" y1="539.36" x2="207.73" y2="541.25" stroke="#a0a0a0" stroke-width="0.45"/>
<line x1="263.07" y1="539.51" x2="263.07" y2="541.52" stroke="#b0b0b0" stroke-width="0.45"/>
<line x1="262.90" y1="538.95" x2="262.90" y2="541.83" stroke="#909090" stroke-width="0.45"/>
<line x1="231.48" y1="541.63" x2="231.48" y2="544.56" stroke="#a8a8b8" stroke-width="0.45"/>
<line x1="204.85" y1="540.38" x2="204.85" y2="543.12" stroke="#b0b0b0" stroke-width="0.45"/>
<line x1="199.88" y1="539.97" x2="199.88" y2="541.98" stroke="#bcbcbc" stroke-width="0.45"/>
<line x1="298.28" y1="537.85" x2="298.28" y2="539.77" stroke="#909090" stroke-width="0.45"/>
<line x1="235.09" y1="538.88" x2="235.09" y2="540.93" stroke="#b0b0b0" stroke-width="0.45"/>
<line x1="234.90" y1="538.65" x2="234.90" y2="541.61" stroke="#909090" stroke-width="0.45"/>
<line x1="269.05" y1="540.98" x2="269.05" y2="544.13" stroke="#a0a0a0" stroke-width="0.45"/>
<line x1="267.01" y1="538.51" x2="267.01" y2="541.86" stroke="#909090" stroke-width="0.45"/>
<line x1="225.33" y1="541.27" x2="225.33" y2="544.02" stroke="#bcbcbc" stroke-width="0.45"/>
<line x1="213.88" y1="541.59" x2="213.88" y2="543.20" stroke="#a0a0a0" stroke-width="0.45"/>
<line x1="303.72" y1="540.17" x2="303.72" y2="542.21" stroke="#b0b0b0" stroke-width="0.45"/>
<line x1="274.16" y1="539.68" x2="274.16" y2="542.47" stroke="#a0a0a0" stroke-width="0.45"/>
<line x1="297.43" y1="539.83" x2="297.43" y2="542.61" stroke="#909090" stroke-width="0.45"/>
<line x1="241.75" y1="540.72" x2="241.75" y2="542.41" stroke="#bcbcbc" stroke-width="0.45"/>
<line x1="289.01" y1="541.29" x2="289.01" y2="543.12" stroke="#bcbcbc" stroke-width="0.45"/>
<line x1="231.98" y1="539.04" x2="231.98" y2="541.87" stroke="#a8a8b8" stroke-width="0.45"/>
<line x1="258.90" y1="540.39" x2="258.90" y2="542.01" stroke="#a0a0a0" stroke-width="0.45"/>
<line x1="249.88" y1="538.49" x2="249.88" y2="540.51" stroke="#a0a0a0" stroke-width="0.45"/>
<line x1="199.64" y1="540.59" x2="199.64" y2="542.78" stroke="#909090" stroke-width="0.45"/>
<line x1="246.71" y1="540.69" x2="246.71" y2="542.75" stroke="#a0a0a0" stroke-width="0.45"/>
<line x1="257.48" y1="541.29" x2="257.48" y2="543.27" stroke="#909090" stroke-width="0.45"/>
<line x1="201.26" y1="540.82" x2="201.26" y2="543.41" stroke="#a0a0a0" stroke-width="0.45"/>
<line x1="244.04" y1="540.86" x2="244.04" y2="543.64" stroke="#b0b0b0" stroke-width="0.45"/>
<line x1="300.57" y1="538.22" x2="300.57" y2="541.31" stroke="#a0a0a0" stroke-width="0.45"/>
<line x1="215.33" y1="537.92" x2="215.33" y2="539.94" stroke="#a0a0a0" stroke-width="0.45"/>
<line x1="224.38" y1="540.78" x2="224.38" y2="544.06" stroke="#909090" stroke-width="0.45"/>
<line x1="217.49" y1="540.89" x2="217.49" y2="543.58" stroke="#a0a0a0" stroke-width="0.45"/>
<line x1="303.91" y1="540.19" x2="303.91" y2="542.66" stroke="#bcbcbc" stroke-width="0.45"/>
<line x1="237.28" y1="539.57" x2="237.28" y2="542.67" stroke="#a8a8b8" stroke-width="0.45"/>
<line x1="261.74" y1="540.41" x2="261.74" y2="542.19" stroke="#b0b0b0" stroke-width="0.45"/>
<line x1="225.57" y1="539.62" x2="225.57" y2="542.66" stroke="#909090" stroke-width="0.45"/>
<line x1="231.64" y1="541.13" x2="231.64" y2="543.77" stroke="#a8a8b8" stroke-width="0.45"/>
<line x1="225.92" y1="539.39" x2="225.92" y2="541.68" stroke="#a0a0a0" stroke-width="0.45"/>
<line x1="267.01" y1="541.38" x2="267.01" y2="542.95" stroke="#a0a0a0" stroke-width="0.45"/>
<line x1="236.36" y1="540.32" x2="236.36" y2="543.81" stroke="#bcbcbc" stroke-width="0.45"/>
<line x1="250.52" y1="539.21" x2="250.52" y2="542.13" stroke="#909090" stroke-width="0.45"/>
<line x1="243.08" y1="539.40" x2="243.08" y2="542.08" stroke="#a0a0a0" stroke-width="0.45"/>
<line x1="235.17" y1="540.39" x2="235.17" y2="542.37" stroke="#a8a8b8" stroke-width="0.45"/>
<line x1="253.42" y1="538.43" x2="253.42" y2="541.08" stroke="#a8a8b8" stroke-width="0.45"/>
<line x1="278.73" y1="540.92" x2="278.73" y2="542.57" stroke="#bcbcbc" stroke-width="0.45"/>
<line x1="250.14" y1="537.85" x2="250.14" y2="541.12" stroke="#bcbcbc" stroke-width="0.45"/>
<line x1="270.55" y1="539.49" x2="270.55" y2="541.11" stroke="#bcbcbc" stroke-width="0.45"/>
<line x1="202.53" y1="539.86" x2="202.53" y2="543.35" stroke="#a8a8b8" stroke-width="0.45"/>
<line x1="218.29" y1="539.67" x2="218.29" y2="541.31" stroke="#b0b0b0" stroke-width="0.45"/>
<line x1="268.14" y1="537.92" x2="268.14" y2="541.05" stroke="#a0a0a0" stroke-width="0.45"/>
<line x1="226.75" y1="538.78" x2="226.75" y2="542.13" stroke="#a8a8b8" stroke-width="0.45"/>
<line x1="260.57" y1="541.04" x2="260.57" y2="543.32" stroke="#909090" stroke-width="0.45"/>
<line x1="282.63" y1="540.21" x2="282.63" y2="542.55" stroke="#a0a0a0" stroke-width="0.45"/>
<line x1="219.98" y1="537.95" x2="219.98" y2="540.53" stroke="#909090" stroke-width="0.45"/>
<line x1="223.44" y1="541.01" x2="223.44" y2="543.46" stroke="#a0a0a0" stroke-width="0.45"/>
<line x1="211.53" y1="539.69" x2="211.53" y2="543.06" stroke="#bcbcbc" stroke-width="0.45"/>
<line x1="254.54" y1="539.26" x2="254.54" y2="541.05" stroke="#b0b0b0" stroke-width="0.45"/>
<line x1="224.26" y1="541.18" x2="224.26" y2="543.22" stroke="#b0b0b0" stroke-width="0.45"/>
<line x1="225.29" y1="539.24" x2="225.29" y2="541.48" stroke="#bcbcbc" stroke-width="0.45"/>
<line x1="287.91" y1="541.08" x2="287.91" y2="544.06" stroke="#909090" stroke-width="0.45"/>
<line x1="305.14" y1="539.76" x2="305.14" y2="541.66" stroke="#a0a0a0" stroke-width="0.45"/>
<line x1="313.75" y1="541.43" x2="313.75" y2="543.03" stroke="#a8a8b8" stroke-width="0.45"/>
<line x1="249.21" y1="541.39" x2="249.21" y2="544.78" stroke="#a0a0a0" stroke-width="0.45"/>
<line x1="274.29" y1="538.26" x2="274.29" y2="540.98" stroke="#a0a0a0" stroke-width="0.45"/>
<line x1="292.02" y1="541.66" x2="292.02" y2="543.36" stroke="#a8a8b8" stroke-width="0.45"/>
<line x1="266.06" y1="541.60" x2="266.06" y2="544.87" stroke="#bcbcbc" stroke-width="0.45"/>
<line x1="221.27" y1="540.79" x2="221.27" y2="543.83" stroke="#b0b0b0" stroke-width="0.45"/>
<line x1="200.59" y1="538.63" x2="200.59" y2="541.27" stroke="#909090" stroke-width="0.45"/>
<line x1="217.07" y1="537.91" x2="217.07" y2="539.62" stroke="#a0a0a0" stroke-width="0.45"/>
<line x1="259.40" y1="540.39" x2="259.40" y2="543.35" stroke="#b0b0b0" stroke-width="0.45"/>
<line x1="264.67" y1="540.35" x2="264.67" y2="543.05" stroke="#a8a8b8" stroke-width="0.45"/>
<line x1="257.79" y1="541.18" x2="257.79" y2="543.87" stroke="#bcbcbc" stroke-width="0.45"/>
<line x1="262.62" y1="541.48" x2="262.62" y2="544.32" stroke="#b0b0b0" stroke-width="0.45"/>
<line x1="222.83" y1="539.44" x2="222.83" y2="542.34" stroke="#909090" stroke-width="0.45"/>
<line x1="276.58" y1="538.64" x2="276.58" y2="540.73" stroke="#bcbcbc" stroke-width="0.45"/>
<line x1="285.83" y1="540.75" x2="285.83" y2="543.55" stroke="#909090" stroke-width="0.45"/>
<line x1="236.34" y1="539.38" x2="236.34" y2="541.60" stroke="#909090" stroke-width="0.45"/>
<line x1="247.31" y1="540.85" x2="247.31" y2="543.56" stroke="#909090" stroke-width="0.45"/>
<line x1="275.91" y1="540.36" x2="275.91" y2="543.08" stroke="#909090" stroke-width="0.45"/>
<line x1="258.16" y1="537.83" x2="258.16" y2="539.46" stroke="#a8a8b8" stroke-width="0.45"/>
<line x1="262.05" y1="540.16" x2="262.05" y2="543.59" stroke="#bcbcbc" stroke-width="0.45"/>
<line x1="263.29" y1="541.57" x2="263.29" y2="544.75" stroke="#a0a0a0" stroke-width="0.45"/>
<line x1="204.18" y1="538.29" x2="204.18" y2="540.43" stroke="#bcbcbc" stroke-width="0.45"/>
<line x1="301.18" y1="541.66" x2="301.18" y2="544.99" stroke="#a8a8b8" stroke-width="0.45"/>
<line x1="231.11" y1="538.85" x2="231.11" y2="540.99" stroke="#b0b0b0" stroke-width="0.45"/>
<line x1="286.39" y1="540.13" x2="286.39" y2="543.62" stroke="#a8a8b8" stroke-width="0.45"/>
<line x1="267.17" y1="538.75" x2="267.17" y2="541.49" stroke="#a0a0a0" stroke-width="0.45"/>
<line x1="223.91" y1="539.48" x2="223.91" y2="542.78" stroke="#a0a0a0" stroke-width="0.45"/>
<line x1="271.46" y1="541.35" x2="271.46" y2="544.69" stroke="#909090" stroke-width="0.45"/>
<line x1="266.96" y1="539.29" x2="266.96" y2="541.92" stroke="#bcbcbc" stroke-width="0.45"/>
<line x1="296.59" y1="538.53" x2="296.59" y2="541.15" stroke="#a0a0a0" stroke-width="0.45"/>
<line x1="315.03" y1="539.84" x2="315.03" y2="541.84" stroke="#b0b0b0" stroke-width="0.45"/>
<line x1="219.21" y1="540.17" x2="219.21" y2="542.37" stroke="#b0b0b0" stroke-width="0.45"/>
<line x1="265.50" y1="538.42" x2="265.50" y2="540.18" stroke="#b0b0b0" stroke-width="0.45"/>
<line x1="292.87" y1="538.01" x2="292.87" y2="539.67" stroke="#bcbcbc" stroke-width="0.45"/>
<line x1="264.36" y1="539.25" x2="264.36" y2="541.57" stroke="#909090" stroke-width="0.45"/>
<line x1="260.12" y1="539.42" x2="260.12" y2="542.11" stroke="#b0b0b0" stroke-width="0.45"/>
<line x1="249.01" y1="539.29" x2="249.01" y2="541.91" stroke="#bcbcbc" stroke-width="0.45"/>
<line x1="269.33" y1="537.99" x2="269.33" y2="540.96" stroke="#b0b0b0" stroke-width="0.45"/>
<line x1="300.51" y1="540.38" x2="300.51" y2="542.66" stroke="#bcbcbc" stroke-width="0.45"/>
<line x1="271.69" y1="539.10" x2="271.69" y2="541.82" stroke="#bcbcbc" stroke-width="0.45"/>
<line x1="279.80" y1="540.55" x2="279.80" y2="542.25" stroke="#a0a0a0" stroke-width="0.45"/>
<line x1="221.49" y1="540.44" x2="221.49" y2="543.41" stroke="#bcbcbc" stroke-width="0.45"/>
<line x1="290.96" y1="539.20" x2="290.96" y2="541.07" stroke="#a0a0a0" stroke-width="0.45"/>
<line x1="204.74" y1="537.83" x2="204.74" y2="541.10" stroke="#bcbcbc" stroke-width="0.45"/>
<line x1="280.71" y1="538.26" x2="280.71" y2="540.72" stroke="#a8a8b8" stroke-width="0.45"/>
<line x1="199.95" y1="540.37" x2="199.95" y2="543.20" stroke="#bcbcbc" stroke-width="0.45"/>
<line x1="315.52" y1="541.36" x2="315.52" y2="543.74" stroke="#b0b0b0" stroke-width="0.45"/>
<line x1="247.96" y1="538.72" x2="247.96" y2="541.99" stroke="#a8a8b8" stroke-width="0.45"/>
<line x1="274.08" y1="541.41" x2="274.08" y2="544.18" stroke="#a0a0a0" stroke-width="0.45"/>
<line x1="253.81" y1="538.64" x2="253.81" y2="541.28" stroke="#a0a0a0" stroke-width="0.45"/>
<line x1="273.17" y1="540.66" x2="273.17" y2="543.29" stroke="#a8a8b8" stroke-width="0.45"/>
<line x1="225.98" y1="540.81" x2="225.98" y2="543.50" stroke="#909090" stroke-width="0.45"/>
<line x1="300.18" y1="539.36" x2="300.18" y2="542.14" stroke="#909090" stroke-width="0.45"/>
<line x1="236.40" y1="538.58" x2="236.40" y2="541.25" stroke="#909090" stroke-width="0.45"/>
<line x1="301.49" y1="538.12" x2="301.49" y2="540.32" stroke="#909090" stroke-width="0.45"/>
<line x1="296.60" y1="538.10" x2="296.60" y2="541.44" stroke="#a0a0a0" stroke-width="0.45"/>
<line x1="217.90" y1="541.00" x2="217.90" y2="543.18" stroke="#a0a0a0" stroke-width="0.45"/>
<line x1="248.96" y1="538.55" x2="248.96" y2="542.02" stroke="#b0b0b0" stroke-width="0.45"/>
<line x1="231.68" y1="538.67" x2="231.68" y2="540.38" stroke="#b0b0b0" stroke-width="0.45"/>
<line x1="224.80" y1="540.49" x2="224.80" y2="542.64" stroke="#a0a0a0" stroke-width="0.45"/>
<line x1="290.75" y1="541.41" x2="290.75" y2="544.36" stroke="#a0a0a0" stroke-width="0.45"/>
<line x1="263.92" y1="541.10" x2="263.92" y2="544.49" stroke="#b0b0b0" stroke-width="0.45"/>
<line x1="305.70" y1="540.81" x2="305.70" y2="542.86" stroke="#a8a8b8" stroke-width="0.45"/>
<line x1="265.50" y1="541.37" x2="265.50" y2="544.45" stroke="#bcbcbc" stroke-width="0.45"/>
<line x1="254.40" y1="540.81" x2="254.40" y2="544.29" stroke="#a8a8b8" stroke-width="0.45"/>
<line x1="283.53" y1="540.16" x2="283.53" y2="543.59" stroke="#a8a8b8" stroke-width="0.45"/>
<line x1="313.35" y1="538.94" x2="313.35" y2="540.44" stroke="#909090" stroke-width="0.45"/>
<line x1="234.29" y1="540.25" x2="234.29" y2="542.89" stroke="#b0b0b0" stroke-width="0.45"/>
<line x1="286.06" y1="538.24" x2="286.06" y2="541.19" stroke="#909090" stroke-width="0.45"/>
<line x1="223.01" y1="540.28" x2="223.01" y2="543.43" stroke="#909090" stroke-width="0.45"/>
<line x1="289.17" y1="538.55" x2="289.17" y2="541.67" stroke="#a0a0a0" stroke-width="0.45"/>
<line x1="253.13" y1="538.26" x2="253.13" y2="540.48" stroke="#bcbcbc" stroke-width="0.45"/>
<line x1="277.75" y1="539.42" x2="277.75" y2="541.44" stroke="#a0a0a0" stroke-width="0.45"/>
<line x1="213.82" y1="537.93" x2="213.82" y2="539.45" stroke="#a0a0a0" stroke-width="0.45"/>
<line x1="200.96" y1="539.52" x2="200.96" y2="542.65" stroke="#a0a0a0" stroke-width="0.45"/>
<line x1="205.82" y1="538.88" x2="205.82" y2="540.97" stroke="#909090" stroke-width="0.45"/>
<line x1="225.32" y1="539.87" x2="225.32" y2="541.91" stroke="#909090" stroke-width="0.45"/>
<line x1="217.85" y1="540.80" x2="217.85" y2="544.18" stroke="#a0a0a0" stroke-width="0.45"/>
<line x1="209.97" y1="538.25" x2="209.97" y2="540.80" stroke="#bcbcbc" stroke-width="0.45"/>
<line x1="262.42" y1="539.10" x2="262.42" y2="541.64" stroke="#bcbcbc" stroke-width="0.45"/>
<line x1="208.18" y1="538.75" x2="208.18" y2="540.69" stroke="#909090" stroke-width="0.45"/>
<line x1="301.33" y1="539.29" x2="301.33" y2="542.05" stroke="#a0a0a0" stroke-width="0.45"/>
<line x1="281.87" y1="538.63" x2="281.87" y2="540.35" stroke="#bcbcbc" stroke-width="0.45"/>
<line x1="298.09" y1="540.52" x2="298.09" y2="542.41" stroke="#b0b0b0" stroke-width="0.45"/>
<line x1="209.26" y1="541.56" x2="209.26" y2="543.55" stroke="#bcbcbc" stroke-width="0.45"/>
<line x1="276.04" y1="539.53" x2="276.04" y2="541.93" stroke="#a0a0a0" stroke-width="0.45"/>
<line x1="264.70" y1="541.10" x2="264.70" y2="543.93" stroke="#a0a0a0" stroke-width="0.45"/>
<line x1="306.06" y1="537.83" x2="306.06" y2="539.96" stroke="#909090" stroke-width="0.45"/>
<line x1="263.92" y1="539.63" x2="263.92" y2="541.62" stroke="#bcbcbc" stroke-width="0.45"/>
<line x1="248.51" y1="537.87" x2="248.51" y2="541.27" stroke="#bcbcbc" stroke-width="0.45"/>
<line x1="291.50" y1="539.61" x2="291.50" y2="541.12" stroke="#a0a0a0" stroke-width="0.45"/>
<line x1="295.35" y1="538.45" x2="295.35" y2="540.38" stroke="#a0a0a0" stroke-width="0.45"/>
<line x1="260.71" y1="540.28" x2="260.71" y2="541.96" stroke="#bcbcbc" stroke-width="0.45"/>
<line x1="210.48" y1="540.75" x2="210.48" y2="543.40" stroke="#a8a8b8" stroke-width="0.45"/>
<line x1="275.69" y1="538.28" x2="275.69" y2="540.00" stroke="#909090" stroke-width="0.45"/>
<line x1="254.53" y1="540.27" x2="254.53" y2="542.24" stroke="#909090" stroke-width="0.45"/>
<line x1="221.17" y1="540.81" x2="221.17" y2="543.77" stroke="#a0a0a0" stroke-width="0.45"/>
<line x1="305.60" y1="540.70" x2="305.60" y2="544.08" stroke="#909090" stroke-width="0.45"/>
<line x1="304.31" y1="540.12" x2="304.31" y2="543.35" stroke="#b0b0b0" stroke-width="0.45"/>
<line x1="237.67" y1="538.63" x2="237.67" y2="540.22" stroke="#a0a0a0" stroke-width="0.45"/>
<line x1="263.72" y1="541.16" x2="263.72" y2="542.91" stroke="#a0a0a0" stroke-width="0.45"/>
<line x1="240.60" y1="541.22" x2="240.60" y2="543.97" stroke="#a0a0a0" stroke-width="0.45"/>
<line x1="206.82" y1="538.31" x2="206.82" y2="541.11" stroke="#a8a8b8" stroke-width="0.45"/>
<line x1="273.61" y1="537.90" x2="273.61" y2="539.42" stroke="#b0b0b0" stroke-width="0.45"/>
<line x1="306.93" y1="541.45" x2="306.93" y2="543.56" stroke="#b0b0b0" stroke-width="0.45"/>
<line x1="250.54" y1="540.27" x2="250.54" y2="542.58" stroke="#a8a8b8" stroke-width="0.45"/>
<line x1="298.16" y1="538.89" x2="298.16" y2="540.87" stroke="#a0a0a0" stroke-width="0.45"/>
<line x1="249.29" y1="538.64" x2="249.29" y2="541.53" stroke="#909090" stroke-width="0.45"/>
<line x1="285.36" y1="541.27" x2="285.36" y2="543.01" stroke="#909090" stroke-width="0.45"/>
<line x1="244.46" y1="541.55" x2="244.46" y2="543.37" stroke="#a8a8b8" stroke-width="0.45"/>
<line x1="307.60" y1="537.88" x2="307.60" y2="540.04" stroke="#bcbcbc" stroke-width="0.45"/>
<line x1="312.74" y1="539.46" x2="312.74" y2="541.53" stroke="#a0a0a0" stroke-width="0.45"/>
<line x1="224.67" y1="538.90" x2="224.67" y2="540.85" stroke="#a8a8b8" stroke-width="0.45"/>
<line x1="199.56" y1="541.06" x2="199.56" y2="543.40" stroke="#a0a0a0" stroke-width="0.45"/>
<line x1="251.72" y1="539.98" x2="251.72" y2="542.45" stroke="#bcbcbc" stroke-width="0.45"/>
<line x1="222.76" y1="537.90" x2="222.76" y2="539.70" stroke="#a8a8b8" stroke-width="0.45"/>
<line x1="270.76" y1="540.47" x2="270.76" y2="542.25" stroke="#bcbcbc" stroke-width="0.45"/>
<line x1="257.19" y1="541.19" x2="257.19" y2="543.15" stroke="#909090" stroke-width="0.45"/>
<line x1="314.33" y1="538.40" x2="314.33" y2="541.61" stroke="#bcbcbc" stroke-width="0.45"/>
<line x1="222.63" y1="538.93" x2="222.63" y2="541.06" stroke="#a0a0a0" stroke-width="0.45"/>
<line x1="309.78" y1="538.51" x2="309.78" y2="541.71" stroke="#b0b0b0" stroke-width="0.45"/>
<line x1="234.98" y1="539.92" x2="234.98" y2="542.73" stroke="#a0a0a0" stroke-width="0.45"/>
<line x1="257.71" y1="540.14" x2="257.71" y2="543.49" stroke="#909090" stroke-width="0.45"/>
<line x1="257.49" y1="539.80" x2="257.49" y2="541.48" stroke="#a0a0a0" stroke-width="0.45"/>
<line x1="271.21" y1="539.46" x2="271.21" y2="541.81" stroke="#a0a0a0" stroke-width="0.45"/>
<line x1="272.70" y1="539.93" x2="272.70" y2="542.88" stroke="#909090" stroke-width="0.45"/>
<line x1="223.61" y1="539.61" x2="223.61" y2="542.00" stroke="#a8a8b8" stroke-width="0.45"/>
<line x1="254.61" y1="541.64" x2="254.61" y2="543.23" stroke="#bcbcbc" stroke-width="0.45"/>
<line x1="270.40" y1="539.49" x2="270.40" y2="542.34" stroke="#a8a8b8" stroke-width="0.45"/>
<line x1="232.78" y1="541.44" x2="232.78" y2="543.27" stroke="#b0b0b0" stroke-width="0.45"/>
<line x1="234.90" y1="540.37" x2="234.90" y2="542.97" stroke="#a8a8b8" stroke-width="0.45"/>
<line x1="219.42" y1="541.61" x2="219.42" y2="544.35" stroke="#a8a8b8" stroke-width="0.45"/>
<line x1="229.14" y1="539.10" x2="229.14" y2="542.03" stroke="#a0a0a0" stroke-width="0.45"/>
<line x1="307.50" y1="541.11" x2="307.50" y2="543.17" stroke="#b0b0b0" stroke-width="0.45"/>
<line x1="298.70" y1="538.15" x2="298.70" y2="539.79" stroke="#a0a0a0" stroke-width="0.45"/>
<line x1="207.15" y1="539.20" x2="207.15" y2="542.10" stroke="#bcbcbc" stroke-width="0.45"/>
<line x1="316.34" y1="540.84" x2="316.34" y2="542.90" stroke="#b0b0b0" stroke-width="0.45"/>
<line x1="205.50" y1="540.35" x2="205.50" y2="543.74" stroke="#b0b0b0" stroke-width="0.45"/>
<line x1="279.35" y1="540.98" x2="279.35" y2="542.50" stroke="#a0a0a0" stroke-width="0.45"/>
<line x1="282.03" y1="538.93" x2="282.03" y2="541.44" stroke="#bcbcbc" stroke-width="0.45"/>
<line x1="300.10" y1="537.97" x2="300.10" y2="540.04" stroke="#909090" stroke-width="0.45"/>
<line x1="245.43" y1="539.99" x2="245.43" y2="541.86" stroke="#a0a0a0" stroke-width="0.45"/>
<line x1="226.02" y1="540.12" x2="226.02" y2="543.56" stroke="#a0a0a0" stroke-width="0.45"/>
<line x1="253.71" y1="538.52" x2="253.71" y2="540.28" stroke="#b0b0b0" stroke-width="0.45"/>
<line x1="230.07" y1="540.28" x2="230.07" y2="542.74" stroke="#a8a8b8" stroke-width="0.45"/>
<line x1="217.02" y1="540.00" x2="217.02" y2="541.97" stroke="#b0b0b0" stroke-width="0.45"/>
<line x1="213.26" y1="538.42" x2="213.26" y2="540.15" stroke="#bcbcbc" stroke-width="0.45"/>
<line x1="266.77" y1="539.33" x2="266.77" y2="541.95" stroke="#b0b0b0" stroke-width="0.45"/>
<line x1="264.36" y1="541.17" x2="264.36" y2="543.88" stroke="#bcbcbc" stroke-width="0.45"/>
<line x1="308.50" y1="541.21" x2="308.50" y2="543.72" stroke="#a8a8b8" stroke-width="0.45"/>
<line x1="223.16" y1="538.70" x2="223.16" y2="541.58" stroke="#909090" stroke-width="0.45"/>
<line x1="306.99" y1="540.70" x2="306.99" y2="542.95" stroke="#a8a8b8" stroke-width="0.45"/>
<line x1="212.31" y1="538.70" x2="212.31" y2="541.73" stroke="#bcbcbc" stroke-width="0.45"/>
<line x1="213.93" y1="540.58" x2="213.93" y2="542.76" stroke="#a8a8b8" stroke-width="0.45"/>
<line x1="289.87" y1="539.72" x2="289.87" y2="541.98" stroke="#bcbcbc" stroke-width="0.45"/>
<line x1="309.32" y1="541.51" x2="309.32" y2="543.05" stroke="#bcbcbc" stroke-width="0.45"/>
<line x1="297.25" y1="540.32" x2="297.25" y2="542.73" stroke="#bcbcbc" stroke-width="0.45"/>
<line x1="206.64" y1="538.32" x2="206.64" y2="541.14" stroke="#a0a0a0" stroke-width="0.45"/>
<line x1="255.17" y1="539.68" x2="255.17" y2="542.08" stroke="#bcbcbc" stroke-width="0.45"/>
<line x1="282.89" y1="540.12" x2="282.89" y2="543.46" stroke="#a0a0a0" stroke-width="0.45"/>
<line x1="253.11" y1="539.19" x2="253.11" y2="542.58" stroke="#909090" stroke-width="0.45"/>
<line x1="300.39" y1="539.66" x2="300.39" y2="542.26" stroke="#a8a8b8" stroke-width="0.45"/>
<line x1="248.66" y1="538.37" x2="248.66" y2="541.29" stroke="#909090" stroke-width="0.45"/>
<line x1="282.77" y1="540.54" x2="282.77" y2="543.73" stroke="#bcbcbc" stroke-width="0.45"/>
<line x1="272.55" y1="538.64" x2="272.55" y2="541.85" stroke="#a0a0a0" stroke-width="0.45"/>
<line x1="254.94" y1="538.40" x2="254.94" y2="539.93" stroke="#b0b0b0" stroke-width="0.45"/>
<line x1="234.88" y1="540.28" x2="234.88" y2="543.57" stroke="#909090" stroke-width="0.45"/>
<line x1="238.14" y1="539.27" x2="238.14" y2="542.00" stroke="#a8a8b8" stroke-width="0.45"/>
<line x1="235.01" y1="541.03" x2="235.01" y2="542.68" stroke="#909090" stroke-width="0.45"/>
<line x1="234.78" y1="541.63" x2="234.78" y2="543.42" stroke="#bcbcbc" stroke-width="0.45"/>
<line x1="224.65" y1="540.69" x2="224.65" y2="542.57" stroke="#bcbcbc" stroke-width="0.45"/>
<line x1="205.84" y1="537.87" x2="205.84" y2="541.08" stroke="#a0a0a0" stroke-width="0.45"/>
<line x1="221.90" y1="538.80" x2="221.90" y2="542.09" stroke="#bcbcbc" stroke-width="0.45"/>
<line x1="207.49" y1="539.90" x2="207.49" y2="542.33" stroke="#a0a0a0" stroke-width="0.45"/>
<line x1="225.09" y1="539.31" x2="225.09" y2="541.83" stroke="#a8a8b8" stroke-width="0.45"/>
<line x1="304.00" y1="541.22" x2="304.00" y2="542.90" stroke="#b0b0b0" stroke-width="0.45"/>
<line x1="292.40" y1="538.19" x2="292.40" y2="539.86" stroke="#b0b0b0" stroke-width="0.45"/>
<line x1="278.32" y1="540.34" x2="278.32" y2="542.20" stroke="#b0b0b0" stroke-width="0.45"/>
<line x1="261.49" y1="541.25" x2="261.49" y2="544.20" stroke="#b0b0b0" stroke-width="0.45"/>
<line x1="296.08" y1="539.55" x2="296.08" y2="541.08" stroke="#b0b0b0" stroke-width="0.45"/>
<line x1="212.81" y1="538.60" x2="212.81" y2="542.09" stroke="#a0a0a0" stroke-width="0.45"/>
<line x1="207.93" y1="539.02" x2="207.93" y2="540.81" stroke="#bcbcbc" stroke-width="0.45"/>
<line x1="271.99" y1="540.98" x2="271.99" y2="543.39" stroke="#b0b0b0" stroke-width="0.45"/>
<line x1="215.47" y1="539.13" x2="215.47" y2="541.99" stroke="#a0a0a0" stroke-width="0.45"/>
<line x1="236.98" y1="540.73" x2="236.98" y2="542.41" stroke="#909090" stroke-width="0.45"/>
<line x1="249.09" y1="540.86" x2="249.09" y2="543.24" stroke="#bcbcbc" stroke-width="0.45"/>
<line x1="226.26" y1="540.80" x2="226.26" y2="542.54" stroke="#b0b0b0" stroke-width="0.45"/>
<line x1="266.48" y1="538.47" x2="266.48" y2="540.75" stroke="#bcbcbc" stroke-width="0.45"/>
<line x1="268.19" y1="541.48" x2="268.19" y2="544.97" stroke="#b0b0b0" stroke-width="0.45"/>
<line x1="203.94" y1="538.03" x2="203.94" y2="540.42" stroke="#a0a0a0" stroke-width="0.45"/>
<line x1="236.98" y1="540.33" x2="236.98" y2="542.10" stroke="#a0a0a0" stroke-width="0.45"/>
<line x1="259.50" y1="540.80" x2="259.50" y2="543.59" stroke="#a8a8b8" stroke-width="0.45"/>
<line x1="312.80" y1="540.51" x2="312.80" y2="542.01" stroke="#909090" stroke-width="0.45"/>
<line x1="261.60" y1="538.47" x2="261.60" y2="540.15" stroke="#909090" stroke-width="0.45"/>
<line x1="278.72" y1="539.75" x2="278.72" y2="542.69" stroke="#b0b0b0" stroke-width="0.45"/>
<line x1="315.78" y1="541.69" x2="315.78" y2="543.69" stroke="#a0a0a0" stroke-width="0.45"/>
<line x1="275.54" y1="539.57" x2="275.54" y2="542.83" stroke="#a0a0a0" stroke-width="0.45"/>
<line x1="261.84" y1="539.15" x2="261.84" y2="540.71" stroke="#a0a0a0" stroke-width="0.45"/>
<line x1="300.49" y1="538.85" x2="300.49" y2="541.82" stroke="#a0a0a0" stroke-width="0.45"/>
<line x1="233.20" y1="539.38" x2="233.20" y2="542.33" stroke="#909090" stroke-width="0.45"/>
<line x1="240.61" y1="540.03" x2="240.61" y2="541.58" stroke="#909090" stroke-width="0.45"/>
<line x1="294.38" y1="541.07" x2="294.38" y2="543.13" stroke="#b0b0b0" stroke-width="0.45"/>
<line x1="284.29" y1="541.53" x2="284.29" y2="544.43" stroke="#a8a8b8" stroke-width="0.45"/>
<line x1="256.82" y1="539.76" x2="256.82" y2="541.98" stroke="#909090" stroke-width="0.45"/>
<line x1="290.40" y1="538.80" x2="290.40" y2="540.75" stroke="#909090" stroke-width="0.45"/>
<line x1="304.62" y1="540.87" x2="304.62" y2="544.34" stroke="#909090" stroke-width="0.45"/>
<line x1="296.29" y1="540.52" x2="296.29" y2="543.12" stroke="#a0a0a0" stroke-width="0.45"/>
<line x1="309.62" y1="540.37" x2="309.62" y2="542.54" stroke="#a0a0a0" stroke-width="0.45"/>
<line x1="218.04" y1="540.24" x2="218.04" y2="543.12" stroke="#a8a8b8" stroke-width="0.45"/>
<path d="M199.00,512.56 L201.00,514.42 L203.00,515.32 L205.40,515.91 L207.80,517.39 L209.90,514.14 L212.00,511.18 L214.25,509.60 L216.50,507.01 L220.00,502.03 L222.00,503.48 L224.00,503.48 L226.00,504.35 L228.00,503.92 L230.00,504.93 L232.14,504.98 L234.29,504.10 L236.43,504.68 L238.57,504.34 L240.71,503.01 L242.86,502.72 L245.00,503.05 L247.12,503.48 L249.25,502.76 L251.38,502.51 L253.50,502.71 L255.62,502.18 L257.75,502.37 L259.88,502.58 L262.00,502.59 L264.00,502.55 L266.00,502.81 L268.00,503.06 L270.00,503.62 L272.00,503.68 L274.00,503.63 L276.00,504.87 L278.00,504.80 L280.00,505.17 L282.00,505.12 L284.00,506.59 L286.00,506.93 L288.00,506.55 L290.00,507.30 L292.00,508.27 L294.00,508.75 L296.00,509.52 L298.00,509.41 L300.00,510.40 L302.00,511.20 L304.00,511.76 L306.00,513.11 L308.00,514.46 L310.00,515.42 L312.00,516.01 L315.00,518.00" fill="none" stroke="#ec98a4" stroke-width="0.45" stroke-linejoin="round"/>
<path d="M199.00,512.55 L201.20,512.14 L203.40,510.67 L205.60,510.30 L207.80,510.80 L210.00,510.28 L212.22,509.58 L214.45,508.52 L216.68,508.25 L218.90,507.63 L220.93,505.96 L222.97,503.82 L225.00,502.52 L227.14,502.10 L229.29,502.12 L231.43,502.08 L233.57,501.65 L235.71,500.80 L237.86,500.31 L240.00,499.72 L242.00,499.72 L244.00,499.98 L246.00,500.78 L248.00,500.87 L250.00,501.22 L252.00,502.11 L254.00,501.94 L256.00,502.25 L258.00,502.14 L260.00,502.16 L262.00,502.79 L264.09,503.29 L266.18,504.47 L268.27,505.78 L270.36,506.12 L272.45,506.25 L274.55,507.84 L276.64,508.45 L278.73,509.10 L280.82,510.03 L282.91,510.59 L285.00,511.35 L287.14,511.68 L289.29,513.29 L291.43,514.13 L293.57,514.02 L295.71,515.59 L297.86,516.40 L300.00,516.95 L302.00,518.04 L304.00,518.99 L306.00,520.51 L308.00,521.00 L310.00,522.00" fill="none" stroke="#e6c48a" stroke-width="0.45" stroke-linejoin="round"/>
<path d="M199.00,508.69 L201.33,507.39 L203.67,505.51 L206.00,504.12 L208.00,502.90 L210.00,500.98 L212.00,499.67 L214.00,499.40 L216.00,497.88 L218.00,497.01 L220.00,497.09 L222.00,496.55 L224.00,497.07 L226.00,496.72 L228.00,497.00 L230.00,496.50 L232.00,497.16 L234.09,497.62 L236.18,497.39 L238.27,497.83 L240.36,497.93 L242.45,497.39 L244.55,498.40 L246.64,498.38 L248.73,498.22 L250.82,498.07 L252.91,499.26 L255.00,498.97 L257.08,499.76 L259.17,500.45 L261.25,500.76 L263.33,501.51 L265.42,501.37 L267.50,502.36 L269.58,502.43 L271.67,503.52 L273.75,503.95 L275.83,503.52 L277.92,504.06 L280.00,504.66 L282.00,506.26 L284.00,506.32 L286.00,507.25 L288.00,507.56 L290.00,508.51 L292.00,509.06 L294.00,509.72 L296.00,510.70 L298.00,511.40 L300.00,512.49 L302.14,513.36 L304.29,514.80 L306.43,515.86 L308.57,517.16 L310.71,517.92 L312.86,518.45 L315.00,520.00" fill="none" stroke="#d8a85a" stroke-width="0.45" stroke-linejoin="round"/>
<path d="M199.00,507.68 L201.13,505.32 L203.27,503.48 L205.40,500.99 L207.85,499.03 L210.30,497.58 L212.45,497.28 L214.60,496.21 L216.75,495.24 L218.90,493.67 L221.37,493.84 L223.83,493.33 L226.30,493.01 L228.45,493.70 L230.60,494.61 L232.75,496.24 L234.90,496.89 L236.98,496.96 L239.07,497.05 L241.15,496.41 L243.24,496.64 L245.32,497.11 L247.41,497.33 L249.49,497.57 L251.58,497.69 L253.66,496.83 L255.75,497.55 L257.83,497.72 L259.92,497.61 L262.00,497.31 L264.09,498.33 L266.18,498.53 L268.27,500.21 L270.36,500.79 L272.45,501.08 L274.55,501.44 L276.64,502.84 L278.73,503.10 L280.82,504.13 L282.91,504.75 L285.00,505.01 L287.00,505.60 L289.00,506.52 L291.00,507.02 L293.00,507.39 L295.00,508.27 L297.00,509.58 L299.00,509.35 L301.00,510.06 L303.00,511.45 L305.00,511.74 L307.00,513.44 L309.00,514.77 L311.00,516.01 L313.00,518.20 L315.00,519.00" fill="none" stroke="#3aa868" stroke-width="0.45" stroke-linejoin="round"/>
<path d="M199.00,506.15 L201.00,503.62 L203.00,501.02 L205.00,498.53 L207.33,496.95 L209.67,495.84 L212.00,493.43 L214.30,492.96 L216.60,492.53 L218.90,491.18 L221.45,492.23 L224.00,492.04 L226.00,492.65 L228.00,492.57 L230.00,493.12 L232.00,493.34 L234.00,492.85 L236.00,493.29 L238.00,493.55 L240.00,494.50 L242.00,494.59 L244.00,494.14 L246.00,495.17 L248.00,494.66 L250.00,495.50 L252.00,495.19 L254.00,495.31 L256.00,496.63 L258.00,496.11 L260.00,496.39 L262.00,497.58 L264.00,498.23 L266.00,498.32 L268.00,499.91 L270.00,500.19 L272.00,501.14 L274.00,501.36 L276.00,503.03 L278.00,503.51 L280.00,504.63 L282.00,505.33 L284.00,505.40 L286.00,506.26 L288.00,506.81 L290.00,507.57 L292.09,508.75 L294.18,510.31 L296.27,511.94 L298.36,512.49 L300.45,514.58 L302.55,515.44 L304.64,516.68 L306.73,518.56 L308.82,519.43 L310.91,520.51 L313.00,522.00" fill="none" stroke="#2ab09c" stroke-width="0.45" stroke-linejoin="round"/>
<path d="M199.00,510.67 L201.20,509.45 L203.40,506.35 L205.60,504.95 L207.80,502.10 L209.87,501.10 L211.93,500.80 L214.00,498.65 L216.00,498.34 L218.00,497.28 L220.00,496.44 L222.00,496.85 L224.00,496.85 L226.00,497.98 L228.00,497.45 L230.00,497.98 L232.10,497.91 L234.20,498.40 L236.30,498.76 L238.40,499.54 L240.50,499.10 L242.60,498.98 L244.70,499.34 L246.80,500.41 L248.90,499.49 L251.00,500.34 L253.20,500.53 L255.40,501.35 L257.60,501.45 L259.80,502.35 L262.00,502.60 L264.00,503.45 L266.00,504.42 L268.00,504.71 L270.00,504.86 L272.00,505.43 L274.00,507.16 L276.00,507.29 L278.00,507.60 L280.00,509.18 L282.00,509.41 L284.00,510.26 L286.00,511.11 L288.00,511.07 L290.00,511.83 L292.08,513.20 L294.17,513.06 L296.25,514.57 L298.33,514.52 L300.42,515.98 L302.50,516.74 L304.58,517.79 L306.67,518.41 L308.75,518.75 L310.83,519.14 L312.92,519.83 L315.00,521.00" fill="none" stroke="#7272aa" stroke-width="0.45" stroke-linejoin="round"/>
<path d="M199.00,511.96 L201.33,509.85 L203.67,507.57 L206.00,506.44 L208.00,503.91 L210.00,503.00 L212.00,501.98 L214.00,499.50 L216.00,499.57 L218.00,499.14 L220.00,497.95 L222.00,497.85 L224.00,498.24 L226.00,497.94 L228.00,498.27 L230.00,497.59 L232.00,497.69 L234.00,497.53 L236.00,498.01 L238.00,498.51 L240.00,498.11 L242.00,498.60 L244.00,498.41 L246.00,499.11 L248.00,498.61 L250.00,499.11 L252.00,499.85 L254.00,500.18 L256.00,500.09 L258.00,499.96 L260.00,500.45 L262.00,500.65 L264.00,501.34 L266.00,502.57 L268.00,502.44 L270.00,503.86 L272.00,504.46 L274.00,504.07 L276.00,505.05 L278.00,505.79 L280.00,505.83 L282.00,506.91 L284.00,508.09 L286.00,507.73 L288.00,508.92 L290.00,508.95 L292.00,510.09 L294.00,511.11 L296.00,510.92 L298.00,511.32 L300.00,512.05 L302.00,513.23 L304.00,513.24 L306.00,513.96 L308.00,515.09 L310.00,516.23 L312.00,516.27 L314.00,517.00" fill="none" stroke="#cc96b0" stroke-width="0.45" stroke-linejoin="round"/>
<path d="M199.00,500.79 L201.00,499.25 L203.00,498.51 L205.00,496.49 L207.33,496.04 L209.67,494.84 L212.00,493.47 L214.00,494.21 L216.00,493.84 L218.00,494.52 L220.00,494.28 L222.00,494.51 L224.00,495.48 L226.00,496.54 L228.00,496.26 L230.00,496.95 L232.00,498.01 L234.00,498.97 L236.00,499.09 L238.24,500.46 L240.48,502.73 L242.72,503.20 L244.96,505.75 L247.20,506.65 L249.70,504.92 L252.20,503.34 L254.65,505.12 L257.10,507.28 L259.55,508.07 L262.00,510.10 L264.09,510.71 L266.18,510.94 L268.27,511.69 L270.36,511.66 L272.45,512.20 L274.55,512.92 L276.64,514.03 L278.73,514.28 L280.82,514.69 L282.91,515.56 L285.00,515.94 L287.00,516.26 L289.00,517.35 L291.00,517.74 L293.00,517.69 L295.00,518.59 L297.00,519.03 L299.00,519.95 L301.00,520.28 L303.00,520.25 L305.00,521.58 L307.00,520.54 L309.00,520.90 L311.00,521.31 L313.00,520.58 L315.00,520.99 L315.50,529.50" fill="none" stroke="#8a96bc" stroke-width="0.45" stroke-linejoin="round"/>
<path d="M199.00,505.35 L201.00,498.09 L203.50,490.98 L205.40,486.91 L207.70,487.75 L210.00,489.70 L212.16,489.50 L214.32,489.89 L216.48,489.47 L218.64,489.98 L220.80,489.43 L224.50,493.16 L226.71,493.25 L228.93,493.04 L231.14,493.36 L233.36,493.70 L235.57,493.29 L237.79,493.89 L240.00,494.37 L242.00,494.26 L244.00,495.45 L246.00,495.86 L248.00,496.59 L250.00,496.53 L252.00,496.78 L254.00,498.18 L256.00,498.73 L258.00,498.84 L260.00,498.97 L262.00,499.64 L264.00,500.88 L266.00,501.18 L268.00,502.68 L270.00,502.96 L272.00,503.21 L274.00,504.47 L276.00,504.83 L278.00,506.23 L280.00,506.92 L282.00,507.16 L284.00,508.03 L286.00,508.81 L288.00,509.65 L290.00,510.57 L292.05,510.62 L294.09,512.20 L296.14,513.67 L298.18,514.49 L300.23,516.02 L302.27,516.60 L304.32,518.73 L306.36,519.48 L308.41,520.18 L310.45,522.01 L312.50,523.00" fill="none" stroke="#58bcc8" stroke-width="0.45" stroke-linejoin="round"/>
<path d="M199.00,491.09 L201.90,489.01 L204.80,487.29 L207.55,486.55 L210.30,486.98 L212.80,485.79 L215.55,484.98 L218.30,483.79 L220.75,485.12 L223.20,485.79 L225.67,486.93 L228.13,489.01 L230.60,490.30 L233.00,487.95 L235.80,489.83 L238.60,490.42 L240.73,490.99 L242.85,491.71 L244.98,493.02 L247.11,493.59 L249.24,494.70 L251.36,495.51 L253.49,495.71 L255.62,497.31 L257.75,498.41 L259.87,499.23 L262.00,499.64 L264.00,499.63 L266.00,500.26 L268.00,501.10 L270.00,502.74 L272.00,502.66 L274.00,503.41 L276.00,504.73 L278.00,504.71 L280.00,505.67 L282.00,506.21 L284.00,506.44 L286.00,507.74 L288.00,508.73 L290.00,508.59 L292.00,509.67 L294.00,510.90 L296.00,511.44 L298.00,513.00 L300.00,514.38 L302.00,515.19 L304.00,516.04 L306.00,517.43 L308.00,517.58 L310.00,519.08 L312.00,519.85 L314.00,521.00" fill="none" stroke="#a4c0b0" stroke-width="0.45" stroke-linejoin="round"/>
<line x1="198.80" y1="482.20" x2="198.80" y2="575.40" stroke="#222" stroke-width="0.9"/>
<line x1="198.40" y1="575.00" x2="317.00" y2="575.00" stroke="#222" stroke-width="0.9"/>
<line x1="196.60" y1="493.50" x2="198.80" y2="493.50" stroke="#222" stroke-width="0.6"/>
<text transform="translate(193.30,495.50)" font-size="5.8" fill="#1a1a1a" text-anchor="end">0.50</text>
<line x1="196.60" y1="507.90" x2="198.80" y2="507.90" stroke="#222" stroke-width="0.6"/>
<text transform="translate(193.30,509.90)" font-size="5.8" fill="#1a1a1a" text-anchor="end">0.25</text>
<line x1="196.60" y1="522.30" x2="198.80" y2="522.30" stroke="#222" stroke-width="0.6"/>
<text transform="translate(193.30,524.30)" font-size="5.8" fill="#1a1a1a" text-anchor="end">0.00</text>
<line x1="196.60" y1="550.90" x2="198.80" y2="550.90" stroke="#222" stroke-width="0.6"/>
<text transform="translate(193.30,552.90)" font-size="5.8" fill="#1a1a1a" text-anchor="end">5</text>
<line x1="196.60" y1="561.80" x2="198.80" y2="561.80" stroke="#222" stroke-width="0.6"/>
<text transform="translate(193.30,563.80)" font-size="5.8" fill="#1a1a1a" text-anchor="end">0</text>
<line x1="196.60" y1="572.70" x2="198.80" y2="572.70" stroke="#222" stroke-width="0.6"/>
<text transform="translate(193.30,574.70)" font-size="5.8" fill="#1a1a1a" text-anchor="end">−5</text>
<line x1="226.38" y1="575.00" x2="226.38" y2="577.40" stroke="#222" stroke-width="0.6"/>
<text transform="translate(226.38,585.90)" font-size="5.8" fill="#1a1a1a" text-anchor="middle">200</text>
<line x1="254.46" y1="575.00" x2="254.46" y2="577.40" stroke="#222" stroke-width="0.6"/>
<text transform="translate(254.46,585.90)" font-size="5.8" fill="#1a1a1a" text-anchor="middle">400</text>
<line x1="282.54" y1="575.00" x2="282.54" y2="577.40" stroke="#222" stroke-width="0.6"/>
<text transform="translate(282.54,585.90)" font-size="5.8" fill="#1a1a1a" text-anchor="middle">600</text>
<line x1="310.62" y1="575.00" x2="310.62" y2="577.40" stroke="#222" stroke-width="0.6"/>
<text transform="translate(310.62,585.90)" font-size="5.8" fill="#1a1a1a" text-anchor="middle">800</text>
<text transform="translate(167.60,507.50) rotate(-90) scale(0.76,1)" font-size="7.3" fill="#1a1a1a" class="b" text-anchor="middle">Running enrichment</text>
<text transform="translate(175.80,507.50) rotate(-90) scale(0.76,1)" font-size="7.3" fill="#1a1a1a" class="b" text-anchor="middle">score</text>
<text transform="translate(167.60,560.00) rotate(-90) scale(0.76,1)" font-size="7.3" fill="#1a1a1a" class="b" text-anchor="middle">Ranked list</text>
<text transform="translate(175.80,560.00) rotate(-90) scale(0.76,1)" font-size="7.3" fill="#1a1a1a" class="b" text-anchor="middle">metric</text>
<text transform="translate(257.40,597.40) scale(0.77,1)" font-size="7.3" fill="#1a1a1a" class="b" text-anchor="middle">Rank in ordered dataset</text>
<text transform="translate(349.40,396.10)" font-size="10.5" fill="#111" font-weight="bold">J</text>
<text transform="translate(384.9,404.2)" font-size="6" fill="#1a1a1a">Stimulated α9<tspan font-size="3.9" dy="-3">fl/fl</tspan><tspan dy="3">Mrp8Cre</tspan><tspan font-size="3.9" dy="-3">+/−</tspan><tspan dy="3"> vs. α9</tspan><tspan font-size="3.9" dy="-3">fl/fl</tspan></text>
<line x1="383.00" y1="411.10" x2="388.80" y2="411.10" stroke="#e8a2b8" stroke-width="0.75"/>
<text transform="translate(391.20,413.10)" font-size="6" fill="#1a1a1a">cytokine−mediated signaling pathway</text>
<line x1="383.00" y1="417.70" x2="388.80" y2="417.70" stroke="#e8a860" stroke-width="0.75"/>
<text transform="translate(391.20,419.70)" font-size="6" fill="#1a1a1a">granulocyte chemotaxis</text>
<line x1="383.00" y1="424.10" x2="388.80" y2="424.10" stroke="#9fb070" stroke-width="0.75"/>
<text transform="translate(391.20,426.10)" font-size="6" fill="#1a1a1a">inflammatory response</text>
<line x1="383.00" y1="430.60" x2="388.80" y2="430.60" stroke="#4cae6c" stroke-width="0.75"/>
<text transform="translate(391.20,432.60)" font-size="6" fill="#1a1a1a">interleukin−1 beta production</text>
<line x1="383.00" y1="437.30" x2="388.80" y2="437.30" stroke="#3e9282" stroke-width="0.75"/>
<text transform="translate(391.20,439.30)" font-size="6" fill="#1a1a1a">neutrophil migration</text>
<line x1="383.00" y1="443.80" x2="388.80" y2="443.80" stroke="#5fb2a8" stroke-width="0.75"/>
<text transform="translate(391.20,445.80)" font-size="6" fill="#1a1a1a">positive regulation of NF−kappaB transcription</text>
<line x1="383.00" y1="457.40" x2="388.80" y2="457.40" stroke="#58a6d8" stroke-width="0.75"/>
<text transform="translate(391.20,459.40)" font-size="6" fill="#1a1a1a">regulation of cytokine production</text>
<line x1="383.00" y1="463.90" x2="388.80" y2="463.90" stroke="#9ea0d8" stroke-width="0.75"/>
<text transform="translate(391.20,465.90)" font-size="6" fill="#1a1a1a">regulation of ERK1 and ERK2 cascade</text>
<line x1="383.00" y1="470.20" x2="388.80" y2="470.20" stroke="#7a6cae" stroke-width="0.75"/>
<text transform="translate(391.20,472.20)" font-size="6" fill="#1a1a1a">regulation of MAPK cascade</text>
<line x1="383.00" y1="476.80" x2="388.80" y2="476.80" stroke="#d6a0d2" stroke-width="0.75"/>
<text transform="translate(391.20,478.80)" font-size="6" fill="#1a1a1a">secretion by cell</text>
<text transform="translate(391.20,452.00)" font-size="6" fill="#1a1a1a">factor activity</text>
<line x1="417.96" y1="486.00" x2="417.96" y2="527.00" stroke="#f2f2f2" stroke-width="0.5"/>
<line x1="437.62" y1="486.00" x2="437.62" y2="527.00" stroke="#f2f2f2" stroke-width="0.5"/>
<line x1="457.28" y1="486.00" x2="457.28" y2="527.00" stroke="#f2f2f2" stroke-width="0.5"/>
<line x1="476.94" y1="486.00" x2="476.94" y2="527.00" stroke="#f2f2f2" stroke-width="0.5"/>
<line x1="496.60" y1="486.00" x2="496.60" y2="527.00" stroke="#f2f2f2" stroke-width="0.5"/>
<path d="M398.30,559.40 L398.30,551.00 L399.28,551.76 L400.27,552.43 L401.25,553.02 L402.23,553.55 L403.22,554.02 L404.20,554.44 L405.18,554.81 L406.16,555.14 L407.15,555.43 L408.13,555.69 L409.11,555.93 L410.10,556.14 L411.08,556.32 L412.06,556.49 L413.05,556.64 L414.03,556.78 L415.01,556.90 L415.99,557.01 L416.98,557.12 L417.96,557.21 L418.94,557.29 L419.93,557.37 L420.91,557.44 L421.89,557.51 L422.88,557.57 L423.86,557.62 L424.84,557.67 L425.82,557.72 L426.81,557.77 L427.79,557.81 L428.77,557.85 L429.76,557.89 L430.74,561.56 L431.72,561.59 L432.71,561.62 L433.69,561.65 L434.67,561.67 L435.65,561.70 L436.64,561.73 L437.62,561.76 L438.60,561.79 L439.59,561.82 L440.57,561.85 L441.55,561.87 L442.54,561.90 L443.52,561.93 L444.50,561.96 L445.48,561.99 L446.47,562.02 L447.45,562.05 L448.43,562.07 L449.42,562.10 L450.40,562.13 L451.38,562.16 L452.37,562.19 L453.35,562.22 L454.33,562.25 L455.31,562.27 L456.30,562.30 L457.28,562.33 L458.26,562.36 L459.25,562.39 L460.23,562.42 L461.21,562.45 L462.19,562.47 L463.18,562.50 L464.16,562.53 L465.14,562.56 L466.13,562.59 L467.11,562.62 L468.09,562.65 L469.08,562.67 L470.06,562.70 L471.04,562.73 L472.02,562.76 L473.01,562.79 L473.99,562.82 L474.97,562.85 L475.96,562.88 L476.94,562.91 L477.92,562.93 L478.91,562.96 L479.89,562.99 L480.87,563.02 L481.86,563.05 L482.84,563.09 L483.82,563.12 L484.80,563.15 L485.79,563.19 L486.77,563.22 L487.75,563.26 L488.74,563.30 L489.72,563.34 L490.70,563.39 L491.69,563.44 L492.67,563.49 L493.65,563.55 L494.63,563.62 L495.62,563.70 L496.60,563.79 L497.58,563.89 L498.57,564.01 L499.55,564.14 L500.53,564.30 L501.51,564.48 L502.50,564.69 L503.48,564.94 L504.46,565.23 L505.45,565.56 L506.43,565.96 L507.41,566.42 L508.40,566.97 L509.38,567.60 L510.36,568.35 L511.35,569.21 L512.33,570.22 L513.31,571.40 L513.31,559.40 Z" fill="#b3b3b3"/>
<line x1="424.62" y1="531.07" x2="424.62" y2="533.98" stroke="#c0c0dc" stroke-width="0.45"/>
<line x1="408.63" y1="534.15" x2="408.63" y2="536.66" stroke="#e0c4b0" stroke-width="0.45"/>
<line x1="444.28" y1="532.57" x2="444.28" y2="534.97" stroke="#d8b8c8" stroke-width="0.45"/>
<line x1="454.93" y1="534.54" x2="454.93" y2="536.84" stroke="#e0c4b0" stroke-width="0.45"/>
<line x1="453.82" y1="533.66" x2="453.82" y2="536.20" stroke="#d8b8c8" stroke-width="0.45"/>
<line x1="452.60" y1="533.77" x2="452.60" y2="536.59" stroke="#c0c0dc" stroke-width="0.45"/>
<line x1="409.98" y1="532.24" x2="409.98" y2="535.40" stroke="#d8b8c8" stroke-width="0.45"/>
<line x1="411.17" y1="532.02" x2="411.17" y2="534.91" stroke="#d8b8c8" stroke-width="0.45"/>
<line x1="455.23" y1="532.83" x2="455.23" y2="534.74" stroke="#c4c4c4" stroke-width="0.45"/>
<line x1="490.35" y1="530.79" x2="490.35" y2="534.18" stroke="#d4b8d8" stroke-width="0.45"/>
<line x1="454.22" y1="531.17" x2="454.22" y2="534.39" stroke="#e0c4b0" stroke-width="0.45"/>
<line x1="450.56" y1="534.46" x2="450.56" y2="536.54" stroke="#d4b8d8" stroke-width="0.45"/>
<line x1="439.31" y1="531.11" x2="439.31" y2="534.14" stroke="#c0c0dc" stroke-width="0.45"/>
<line x1="410.03" y1="531.91" x2="410.03" y2="534.13" stroke="#c4c4c4" stroke-width="0.45"/>
<line x1="471.76" y1="532.77" x2="471.76" y2="534.66" stroke="#c0c0dc" stroke-width="0.45"/>
<line x1="415.97" y1="531.78" x2="415.97" y2="534.59" stroke="#d4b8d8" stroke-width="0.45"/>
<line x1="490.32" y1="534.61" x2="490.32" y2="537.20" stroke="#d4b8d8" stroke-width="0.45"/>
<line x1="437.89" y1="531.83" x2="437.89" y2="533.77" stroke="#d8b8c8" stroke-width="0.45"/>
<line x1="402.80" y1="532.20" x2="402.80" y2="535.36" stroke="#c0ccb0" stroke-width="0.45"/>
<line x1="499.74" y1="533.46" x2="499.74" y2="535.19" stroke="#e0c4b0" stroke-width="0.45"/>
<line x1="504.38" y1="531.41" x2="504.38" y2="534.44" stroke="#d8b8c8" stroke-width="0.45"/>
<line x1="432.91" y1="534.08" x2="432.91" y2="536.34" stroke="#d8b8c8" stroke-width="0.45"/>
<line x1="493.51" y1="532.46" x2="493.51" y2="534.42" stroke="#d4b8d8" stroke-width="0.45"/>
<line x1="445.34" y1="532.33" x2="445.34" y2="533.99" stroke="#c0c0dc" stroke-width="0.45"/>
<line x1="406.91" y1="530.93" x2="406.91" y2="532.60" stroke="#c4c4c4" stroke-width="0.45"/>
<line x1="411.04" y1="532.87" x2="411.04" y2="534.68" stroke="#d4b8d8" stroke-width="0.45"/>
<line x1="504.82" y1="533.69" x2="504.82" y2="537.15" stroke="#c0c0dc" stroke-width="0.45"/>
<line x1="406.12" y1="534.61" x2="406.12" y2="536.79" stroke="#d8b8c8" stroke-width="0.45"/>
<line x1="473.38" y1="533.85" x2="473.38" y2="536.05" stroke="#d8b8c8" stroke-width="0.45"/>
<line x1="508.04" y1="533.41" x2="508.04" y2="535.90" stroke="#d8b8c8" stroke-width="0.45"/>
<line x1="405.86" y1="530.65" x2="405.86" y2="534.08" stroke="#d4b8d8" stroke-width="0.45"/>
<line x1="484.81" y1="531.27" x2="484.81" y2="533.45" stroke="#d4b8d8" stroke-width="0.45"/>
<line x1="447.71" y1="530.88" x2="447.71" y2="533.59" stroke="#d8b8c8" stroke-width="0.45"/>
<line x1="455.18" y1="534.06" x2="455.18" y2="536.32" stroke="#c0c0dc" stroke-width="0.45"/>
<line x1="411.26" y1="532.54" x2="411.26" y2="534.29" stroke="#c4c4c4" stroke-width="0.45"/>
<line x1="448.66" y1="530.91" x2="448.66" y2="534.26" stroke="#c4c4c4" stroke-width="0.45"/>
<line x1="462.72" y1="532.55" x2="462.72" y2="534.15" stroke="#c0ccb0" stroke-width="0.45"/>
<line x1="404.53" y1="530.99" x2="404.53" y2="533.94" stroke="#d8b8c8" stroke-width="0.45"/>
<line x1="479.04" y1="534.58" x2="479.04" y2="537.39" stroke="#d4b8d8" stroke-width="0.45"/>
<line x1="492.71" y1="530.92" x2="492.71" y2="534.36" stroke="#d4b8d8" stroke-width="0.45"/>
<line x1="484.39" y1="534.19" x2="484.39" y2="536.82" stroke="#d4b8d8" stroke-width="0.45"/>
<line x1="455.67" y1="532.87" x2="455.67" y2="535.85" stroke="#c0ccb0" stroke-width="0.45"/>
<line x1="472.14" y1="531.80" x2="472.14" y2="533.90" stroke="#d8b8c8" stroke-width="0.45"/>
<line x1="408.03" y1="534.67" x2="408.03" y2="538.14" stroke="#c0ccb0" stroke-width="0.45"/>
<line x1="424.27" y1="530.86" x2="424.27" y2="533.20" stroke="#c0ccb0" stroke-width="0.45"/>
<line x1="483.10" y1="534.33" x2="483.10" y2="536.86" stroke="#c4c4c4" stroke-width="0.45"/>
<line x1="469.64" y1="534.02" x2="469.64" y2="536.12" stroke="#c0ccb0" stroke-width="0.45"/>
<line x1="494.57" y1="532.68" x2="494.57" y2="534.94" stroke="#e0c4b0" stroke-width="0.45"/>
<line x1="465.10" y1="531.42" x2="465.10" y2="533.72" stroke="#c0ccb0" stroke-width="0.45"/>
<line x1="442.33" y1="532.86" x2="442.33" y2="535.74" stroke="#c4c4c4" stroke-width="0.45"/>
<line x1="439.20" y1="533.22" x2="439.20" y2="535.45" stroke="#c4c4c4" stroke-width="0.45"/>
<line x1="447.31" y1="534.20" x2="447.31" y2="536.72" stroke="#c0c0dc" stroke-width="0.45"/>
<line x1="408.26" y1="530.81" x2="408.26" y2="533.78" stroke="#e0c4b0" stroke-width="0.45"/>
<line x1="429.61" y1="534.01" x2="429.61" y2="536.76" stroke="#c0c0dc" stroke-width="0.45"/>
<line x1="492.22" y1="531.73" x2="492.22" y2="534.88" stroke="#c0ccb0" stroke-width="0.45"/>
<line x1="429.35" y1="532.35" x2="429.35" y2="534.58" stroke="#c4c4c4" stroke-width="0.45"/>
<line x1="508.10" y1="533.86" x2="508.10" y2="535.86" stroke="#d4b8d8" stroke-width="0.45"/>
<line x1="490.90" y1="532.86" x2="490.90" y2="534.75" stroke="#d4b8d8" stroke-width="0.45"/>
<line x1="455.12" y1="534.07" x2="455.12" y2="536.35" stroke="#d8b8c8" stroke-width="0.45"/>
<line x1="472.98" y1="534.97" x2="472.98" y2="538.31" stroke="#d4b8d8" stroke-width="0.45"/>
<line x1="487.85" y1="530.60" x2="487.85" y2="532.48" stroke="#e0c4b0" stroke-width="0.45"/>
<line x1="428.90" y1="532.58" x2="428.90" y2="535.82" stroke="#d8b8c8" stroke-width="0.45"/>
<line x1="501.31" y1="530.92" x2="501.31" y2="533.63" stroke="#d4b8d8" stroke-width="0.45"/>
<line x1="496.75" y1="530.80" x2="496.75" y2="533.88" stroke="#c4c4c4" stroke-width="0.45"/>
<line x1="493.42" y1="534.37" x2="493.42" y2="537.17" stroke="#d8b8c8" stroke-width="0.45"/>
<line x1="440.39" y1="534.17" x2="440.39" y2="537.12" stroke="#d8b8c8" stroke-width="0.45"/>
<line x1="466.77" y1="531.50" x2="466.77" y2="534.49" stroke="#c0ccb0" stroke-width="0.45"/>
<line x1="508.29" y1="532.84" x2="508.29" y2="534.57" stroke="#d8b8c8" stroke-width="0.45"/>
<line x1="480.52" y1="532.46" x2="480.52" y2="534.27" stroke="#c0ccb0" stroke-width="0.45"/>
<line x1="499.97" y1="532.44" x2="499.97" y2="535.50" stroke="#e0c4b0" stroke-width="0.45"/>
<line x1="410.27" y1="530.87" x2="410.27" y2="534.22" stroke="#e0c4b0" stroke-width="0.45"/>
<line x1="437.08" y1="530.99" x2="437.08" y2="532.59" stroke="#e0c4b0" stroke-width="0.45"/>
<line x1="461.81" y1="531.30" x2="461.81" y2="533.14" stroke="#c4c4c4" stroke-width="0.45"/>
<line x1="471.27" y1="534.47" x2="471.27" y2="537.44" stroke="#c0ccb0" stroke-width="0.45"/>
<line x1="453.11" y1="533.73" x2="453.11" y2="535.40" stroke="#d4b8d8" stroke-width="0.45"/>
<line x1="414.54" y1="531.10" x2="414.54" y2="533.25" stroke="#c4c4c4" stroke-width="0.45"/>
<line x1="445.08" y1="531.11" x2="445.08" y2="533.49" stroke="#e0c4b0" stroke-width="0.45"/>
<line x1="477.52" y1="533.14" x2="477.52" y2="535.86" stroke="#c0c0dc" stroke-width="0.45"/>
<line x1="445.88" y1="533.10" x2="445.88" y2="536.40" stroke="#c0c0dc" stroke-width="0.45"/>
<line x1="503.26" y1="533.04" x2="503.26" y2="535.96" stroke="#c4c4c4" stroke-width="0.45"/>
<line x1="497.15" y1="534.30" x2="497.15" y2="536.85" stroke="#c4c4c4" stroke-width="0.45"/>
<line x1="433.90" y1="534.76" x2="433.90" y2="537.92" stroke="#c4c4c4" stroke-width="0.45"/>
<line x1="493.80" y1="532.75" x2="493.80" y2="536.19" stroke="#c0ccb0" stroke-width="0.45"/>
<line x1="459.30" y1="531.80" x2="459.30" y2="533.74" stroke="#d4b8d8" stroke-width="0.45"/>
<line x1="458.50" y1="534.21" x2="458.50" y2="537.01" stroke="#e0c4b0" stroke-width="0.45"/>
<line x1="413.04" y1="530.64" x2="413.04" y2="533.88" stroke="#c0c0dc" stroke-width="0.45"/>
<line x1="456.25" y1="532.06" x2="456.25" y2="534.96" stroke="#c0ccb0" stroke-width="0.45"/>
<line x1="469.22" y1="534.24" x2="469.22" y2="535.77" stroke="#e0c4b0" stroke-width="0.45"/>
<line x1="492.53" y1="533.11" x2="492.53" y2="534.86" stroke="#c0c0dc" stroke-width="0.45"/>
<line x1="507.98" y1="533.04" x2="507.98" y2="535.70" stroke="#c0c0dc" stroke-width="0.45"/>
<line x1="498.12" y1="535.00" x2="498.12" y2="536.58" stroke="#c0ccb0" stroke-width="0.45"/>
<line x1="466.94" y1="532.16" x2="466.94" y2="535.63" stroke="#c4c4c4" stroke-width="0.45"/>
<line x1="411.01" y1="533.43" x2="411.01" y2="535.88" stroke="#c0ccb0" stroke-width="0.45"/>
<line x1="418.18" y1="532.65" x2="418.18" y2="535.30" stroke="#e0c4b0" stroke-width="0.45"/>
<line x1="504.39" y1="532.19" x2="504.39" y2="534.94" stroke="#c0c0dc" stroke-width="0.45"/>
<line x1="403.36" y1="534.68" x2="403.36" y2="537.51" stroke="#e0c4b0" stroke-width="0.45"/>
<line x1="472.53" y1="530.65" x2="472.53" y2="532.61" stroke="#d8b8c8" stroke-width="0.45"/>
<line x1="439.74" y1="532.64" x2="439.74" y2="534.49" stroke="#c0ccb0" stroke-width="0.45"/>
<line x1="414.76" y1="534.04" x2="414.76" y2="537.10" stroke="#c0ccb0" stroke-width="0.45"/>
<line x1="482.78" y1="533.58" x2="482.78" y2="535.99" stroke="#d4b8d8" stroke-width="0.45"/>
<line x1="432.50" y1="534.37" x2="432.50" y2="536.76" stroke="#c0c0dc" stroke-width="0.45"/>
<line x1="470.10" y1="534.54" x2="470.10" y2="536.92" stroke="#c0c0dc" stroke-width="0.45"/>
<line x1="414.35" y1="530.99" x2="414.35" y2="533.92" stroke="#c4c4c4" stroke-width="0.45"/>
<line x1="474.36" y1="532.62" x2="474.36" y2="534.88" stroke="#c0ccb0" stroke-width="0.45"/>
<line x1="460.77" y1="533.16" x2="460.77" y2="536.22" stroke="#c4c4c4" stroke-width="0.45"/>
<line x1="455.98" y1="530.90" x2="455.98" y2="533.98" stroke="#d8b8c8" stroke-width="0.45"/>
<line x1="484.78" y1="531.16" x2="484.78" y2="533.46" stroke="#e0c4b0" stroke-width="0.45"/>
<line x1="506.09" y1="534.80" x2="506.09" y2="536.33" stroke="#e0c4b0" stroke-width="0.45"/>
<line x1="449.07" y1="531.92" x2="449.07" y2="533.48" stroke="#e0c4b0" stroke-width="0.45"/>
<line x1="399.62" y1="533.82" x2="399.62" y2="536.47" stroke="#d8b8c8" stroke-width="0.45"/>
<line x1="471.39" y1="530.70" x2="471.39" y2="532.63" stroke="#d8b8c8" stroke-width="0.45"/>
<line x1="434.79" y1="532.37" x2="434.79" y2="535.69" stroke="#d8b8c8" stroke-width="0.45"/>
<line x1="399.05" y1="530.93" x2="399.05" y2="533.45" stroke="#c4c4c4" stroke-width="0.45"/>
<line x1="453.41" y1="534.19" x2="453.41" y2="536.53" stroke="#c4c4c4" stroke-width="0.45"/>
<line x1="411.64" y1="531.16" x2="411.64" y2="532.96" stroke="#d4b8d8" stroke-width="0.45"/>
<line x1="479.17" y1="533.67" x2="479.17" y2="537.05" stroke="#c4c4c4" stroke-width="0.45"/>
<line x1="448.30" y1="531.64" x2="448.30" y2="534.53" stroke="#d8b8c8" stroke-width="0.45"/>
<line x1="421.50" y1="531.78" x2="421.50" y2="534.82" stroke="#d8b8c8" stroke-width="0.45"/>
<line x1="434.60" y1="531.51" x2="434.60" y2="533.81" stroke="#e0c4b0" stroke-width="0.45"/>
<line x1="477.32" y1="531.88" x2="477.32" y2="533.94" stroke="#c0ccb0" stroke-width="0.45"/>
<line x1="401.44" y1="533.66" x2="401.44" y2="536.55" stroke="#e0c4b0" stroke-width="0.45"/>
<line x1="422.84" y1="534.13" x2="422.84" y2="536.94" stroke="#d8b8c8" stroke-width="0.45"/>
<line x1="496.91" y1="531.20" x2="496.91" y2="534.35" stroke="#c0c0dc" stroke-width="0.45"/>
<line x1="425.99" y1="532.46" x2="425.99" y2="535.74" stroke="#d8b8c8" stroke-width="0.45"/>
<line x1="492.22" y1="533.58" x2="492.22" y2="536.90" stroke="#d4b8d8" stroke-width="0.45"/>
<line x1="497.23" y1="533.28" x2="497.23" y2="536.01" stroke="#c0ccb0" stroke-width="0.45"/>
<line x1="451.98" y1="532.83" x2="451.98" y2="535.01" stroke="#e0c4b0" stroke-width="0.45"/>
<line x1="505.89" y1="531.58" x2="505.89" y2="533.52" stroke="#d4b8d8" stroke-width="0.45"/>
<line x1="480.66" y1="534.64" x2="480.66" y2="536.81" stroke="#d4b8d8" stroke-width="0.45"/>
<line x1="413.51" y1="530.82" x2="413.51" y2="532.97" stroke="#c0ccb0" stroke-width="0.45"/>
<line x1="463.57" y1="531.56" x2="463.57" y2="534.25" stroke="#c4c4c4" stroke-width="0.45"/>
<line x1="493.91" y1="532.30" x2="493.91" y2="535.33" stroke="#c0ccb0" stroke-width="0.45"/>
<line x1="412.39" y1="533.55" x2="412.39" y2="536.90" stroke="#c0c0dc" stroke-width="0.45"/>
<line x1="495.95" y1="533.19" x2="495.95" y2="535.67" stroke="#c0c0dc" stroke-width="0.45"/>
<line x1="460.92" y1="530.57" x2="460.92" y2="532.10" stroke="#e0c4b0" stroke-width="0.45"/>
<line x1="478.61" y1="532.75" x2="478.61" y2="535.00" stroke="#c4c4c4" stroke-width="0.45"/>
<line x1="453.70" y1="530.96" x2="453.70" y2="532.82" stroke="#d4b8d8" stroke-width="0.45"/>
<line x1="405.17" y1="531.74" x2="405.17" y2="534.34" stroke="#c0c0dc" stroke-width="0.45"/>
<line x1="421.41" y1="534.64" x2="421.41" y2="536.26" stroke="#c4c4c4" stroke-width="0.45"/>
<line x1="437.95" y1="531.91" x2="437.95" y2="534.38" stroke="#c4c4c4" stroke-width="0.45"/>
<line x1="416.88" y1="533.81" x2="416.88" y2="535.86" stroke="#c0c0dc" stroke-width="0.45"/>
<line x1="505.43" y1="532.65" x2="505.43" y2="535.08" stroke="#d8b8c8" stroke-width="0.45"/>
<line x1="485.16" y1="534.92" x2="485.16" y2="537.98" stroke="#d4b8d8" stroke-width="0.45"/>
<line x1="405.53" y1="533.43" x2="405.53" y2="536.80" stroke="#d4b8d8" stroke-width="0.45"/>
<line x1="458.12" y1="531.22" x2="458.12" y2="532.95" stroke="#c4c4c4" stroke-width="0.45"/>
<line x1="503.34" y1="534.13" x2="503.34" y2="535.98" stroke="#d4b8d8" stroke-width="0.45"/>
<line x1="436.25" y1="533.05" x2="436.25" y2="536.45" stroke="#c0ccb0" stroke-width="0.45"/>
<line x1="469.52" y1="532.99" x2="469.52" y2="535.09" stroke="#c0c0dc" stroke-width="0.45"/>
<line x1="483.57" y1="532.09" x2="483.57" y2="533.70" stroke="#c0ccb0" stroke-width="0.45"/>
<line x1="444.22" y1="530.82" x2="444.22" y2="532.81" stroke="#c0ccb0" stroke-width="0.45"/>
<line x1="493.13" y1="532.62" x2="493.13" y2="534.69" stroke="#c4c4c4" stroke-width="0.45"/>
<line x1="505.57" y1="532.97" x2="505.57" y2="535.77" stroke="#c0c0dc" stroke-width="0.45"/>
<line x1="470.12" y1="530.81" x2="470.12" y2="533.10" stroke="#c0ccb0" stroke-width="0.45"/>
<line x1="460.82" y1="531.33" x2="460.82" y2="533.80" stroke="#e0c4b0" stroke-width="0.45"/>
<line x1="463.24" y1="531.37" x2="463.24" y2="533.37" stroke="#c4c4c4" stroke-width="0.45"/>
<line x1="441.87" y1="532.07" x2="441.87" y2="533.81" stroke="#d4b8d8" stroke-width="0.45"/>
<line x1="457.36" y1="530.68" x2="457.36" y2="532.37" stroke="#d4b8d8" stroke-width="0.45"/>
<line x1="481.29" y1="531.98" x2="481.29" y2="533.69" stroke="#c0ccb0" stroke-width="0.45"/>
<line x1="420.84" y1="532.41" x2="420.84" y2="534.81" stroke="#c0c0dc" stroke-width="0.45"/>
<line x1="477.07" y1="530.62" x2="477.07" y2="532.38" stroke="#e0c4b0" stroke-width="0.45"/>
<line x1="449.63" y1="533.52" x2="449.63" y2="536.84" stroke="#c0ccb0" stroke-width="0.45"/>
<line x1="446.93" y1="534.03" x2="446.93" y2="536.47" stroke="#d8b8c8" stroke-width="0.45"/>
<line x1="475.42" y1="534.25" x2="475.42" y2="537.30" stroke="#c0c0dc" stroke-width="0.45"/>
<line x1="480.23" y1="532.50" x2="480.23" y2="534.55" stroke="#e0c4b0" stroke-width="0.45"/>
<line x1="462.36" y1="534.26" x2="462.36" y2="537.59" stroke="#c4c4c4" stroke-width="0.45"/>
<line x1="422.94" y1="530.51" x2="422.94" y2="533.78" stroke="#d4b8d8" stroke-width="0.45"/>
<line x1="510.28" y1="530.89" x2="510.28" y2="532.72" stroke="#c0ccb0" stroke-width="0.45"/>
<line x1="435.09" y1="534.74" x2="435.09" y2="536.84" stroke="#c0c0dc" stroke-width="0.45"/>
<line x1="423.82" y1="533.16" x2="423.82" y2="536.47" stroke="#d8b8c8" stroke-width="0.45"/>
<line x1="423.99" y1="533.40" x2="423.99" y2="535.89" stroke="#e0c4b0" stroke-width="0.45"/>
<line x1="451.32" y1="538.62" x2="451.32" y2="540.49" stroke="#bcbcbc" stroke-width="0.45"/>
<line x1="475.46" y1="539.61" x2="475.46" y2="542.91" stroke="#bcbcbc" stroke-width="0.45"/>
<line x1="408.13" y1="541.43" x2="408.13" y2="544.33" stroke="#b8b8d8" stroke-width="0.45"/>
<line x1="481.29" y1="540.45" x2="481.29" y2="542.86" stroke="#a8c4d4" stroke-width="0.45"/>
<line x1="480.93" y1="538.21" x2="480.93" y2="539.81" stroke="#a8c4d4" stroke-width="0.45"/>
<line x1="413.96" y1="537.77" x2="413.96" y2="540.64" stroke="#b8b8d8" stroke-width="0.45"/>
<line x1="488.22" y1="541.36" x2="488.22" y2="543.27" stroke="#a8ccb8" stroke-width="0.45"/>
<line x1="424.35" y1="541.24" x2="424.35" y2="544.28" stroke="#a8d0c4" stroke-width="0.45"/>
<line x1="501.99" y1="538.68" x2="501.99" y2="541.80" stroke="#a8d0c4" stroke-width="0.45"/>
<line x1="421.54" y1="541.19" x2="421.54" y2="542.80" stroke="#a8ccb8" stroke-width="0.45"/>
<line x1="441.81" y1="538.08" x2="441.81" y2="540.06" stroke="#a8d0c4" stroke-width="0.45"/>
<line x1="482.19" y1="541.55" x2="482.19" y2="543.06" stroke="#a8ccb8" stroke-width="0.45"/>
<line x1="485.37" y1="541.26" x2="485.37" y2="543.17" stroke="#a8c4d4" stroke-width="0.45"/>
<line x1="399.93" y1="538.06" x2="399.93" y2="541.39" stroke="#a8ccb8" stroke-width="0.45"/>
<line x1="455.59" y1="539.59" x2="455.59" y2="542.93" stroke="#b8b8d8" stroke-width="0.45"/>
<line x1="446.47" y1="538.31" x2="446.47" y2="541.34" stroke="#a8d0c4" stroke-width="0.45"/>
<line x1="478.20" y1="538.22" x2="478.20" y2="540.94" stroke="#a8c4d4" stroke-width="0.45"/>
<line x1="507.29" y1="538.63" x2="507.29" y2="541.50" stroke="#a8ccb8" stroke-width="0.45"/>
<line x1="495.27" y1="540.59" x2="495.27" y2="543.25" stroke="#bcbcbc" stroke-width="0.45"/>
<line x1="402.87" y1="541.49" x2="402.87" y2="543.47" stroke="#a8d0c4" stroke-width="0.45"/>
<line x1="468.06" y1="540.59" x2="468.06" y2="543.78" stroke="#a8ccb8" stroke-width="0.45"/>
<line x1="457.99" y1="540.75" x2="457.99" y2="542.43" stroke="#b8b8d8" stroke-width="0.45"/>
<line x1="438.23" y1="539.04" x2="438.23" y2="540.96" stroke="#b8b8d8" stroke-width="0.45"/>
<line x1="421.46" y1="540.63" x2="421.46" y2="542.89" stroke="#b8b8d8" stroke-width="0.45"/>
<line x1="467.68" y1="539.32" x2="467.68" y2="541.25" stroke="#a8ccb8" stroke-width="0.45"/>
<line x1="449.17" y1="540.92" x2="449.17" y2="543.04" stroke="#bcbcbc" stroke-width="0.45"/>
<line x1="431.19" y1="540.79" x2="431.19" y2="542.34" stroke="#b8b8d8" stroke-width="0.45"/>
<line x1="487.22" y1="539.59" x2="487.22" y2="542.51" stroke="#a8d0c4" stroke-width="0.45"/>
<line x1="427.05" y1="539.29" x2="427.05" y2="541.25" stroke="#a8ccb8" stroke-width="0.45"/>
<line x1="507.94" y1="539.64" x2="507.94" y2="543.05" stroke="#a8d0c4" stroke-width="0.45"/>
<line x1="462.33" y1="540.30" x2="462.33" y2="542.15" stroke="#a8c4d4" stroke-width="0.45"/>
<line x1="494.29" y1="537.62" x2="494.29" y2="541.00" stroke="#bcbcbc" stroke-width="0.45"/>
<line x1="490.48" y1="541.48" x2="490.48" y2="544.95" stroke="#bcbcbc" stroke-width="0.45"/>
<line x1="467.54" y1="537.71" x2="467.54" y2="540.11" stroke="#a8ccb8" stroke-width="0.45"/>
<line x1="487.88" y1="540.07" x2="487.88" y2="543.50" stroke="#bcbcbc" stroke-width="0.45"/>
<line x1="439.06" y1="539.52" x2="439.06" y2="541.58" stroke="#a8c4d4" stroke-width="0.45"/>
<line x1="507.68" y1="538.74" x2="507.68" y2="540.48" stroke="#b8b8d8" stroke-width="0.45"/>
<line x1="446.45" y1="540.46" x2="446.45" y2="543.48" stroke="#a8c4d4" stroke-width="0.45"/>
<line x1="442.28" y1="540.29" x2="442.28" y2="542.33" stroke="#a8c4d4" stroke-width="0.45"/>
<line x1="466.49" y1="539.58" x2="466.49" y2="541.28" stroke="#b8b8d8" stroke-width="0.45"/>
<line x1="404.48" y1="538.04" x2="404.48" y2="541.14" stroke="#b8b8d8" stroke-width="0.45"/>
<line x1="491.70" y1="540.78" x2="491.70" y2="542.72" stroke="#a8c4d4" stroke-width="0.45"/>
<line x1="400.47" y1="539.49" x2="400.47" y2="542.17" stroke="#a8c4d4" stroke-width="0.45"/>
<line x1="460.64" y1="538.23" x2="460.64" y2="540.69" stroke="#a8ccb8" stroke-width="0.45"/>
<line x1="505.95" y1="537.78" x2="505.95" y2="540.58" stroke="#b8b8d8" stroke-width="0.45"/>
<line x1="464.65" y1="541.23" x2="464.65" y2="543.82" stroke="#b8b8d8" stroke-width="0.45"/>
<line x1="458.15" y1="540.19" x2="458.15" y2="543.29" stroke="#b8b8d8" stroke-width="0.45"/>
<line x1="498.15" y1="539.78" x2="498.15" y2="541.88" stroke="#b8b8d8" stroke-width="0.45"/>
<line x1="480.92" y1="537.93" x2="480.92" y2="540.83" stroke="#a8c4d4" stroke-width="0.45"/>
<line x1="450.25" y1="541.23" x2="450.25" y2="544.19" stroke="#a8d0c4" stroke-width="0.45"/>
<line x1="475.70" y1="539.07" x2="475.70" y2="542.32" stroke="#a8ccb8" stroke-width="0.45"/>
<line x1="425.11" y1="540.12" x2="425.11" y2="543.38" stroke="#b8b8d8" stroke-width="0.45"/>
<line x1="403.07" y1="537.86" x2="403.07" y2="539.45" stroke="#b8b8d8" stroke-width="0.45"/>
<line x1="445.30" y1="537.79" x2="445.30" y2="539.67" stroke="#b8b8d8" stroke-width="0.45"/>
<line x1="467.72" y1="537.85" x2="467.72" y2="539.41" stroke="#a8c4d4" stroke-width="0.45"/>
<line x1="469.58" y1="539.75" x2="469.58" y2="541.30" stroke="#b8b8d8" stroke-width="0.45"/>
<line x1="486.64" y1="537.86" x2="486.64" y2="540.00" stroke="#bcbcbc" stroke-width="0.45"/>
<line x1="451.41" y1="539.98" x2="451.41" y2="543.43" stroke="#a8d0c4" stroke-width="0.45"/>
<line x1="510.45" y1="537.95" x2="510.45" y2="540.14" stroke="#a8c4d4" stroke-width="0.45"/>
<line x1="425.14" y1="538.31" x2="425.14" y2="540.25" stroke="#a8c4d4" stroke-width="0.45"/>
<line x1="411.50" y1="537.81" x2="411.50" y2="540.60" stroke="#a8ccb8" stroke-width="0.45"/>
<line x1="408.33" y1="540.61" x2="408.33" y2="543.05" stroke="#a8ccb8" stroke-width="0.45"/>
<line x1="457.99" y1="541.17" x2="457.99" y2="542.83" stroke="#bcbcbc" stroke-width="0.45"/>
<line x1="399.62" y1="540.37" x2="399.62" y2="541.90" stroke="#b8b8d8" stroke-width="0.45"/>
<line x1="427.62" y1="537.59" x2="427.62" y2="539.30" stroke="#b8b8d8" stroke-width="0.45"/>
<line x1="489.40" y1="541.28" x2="489.40" y2="543.73" stroke="#a8ccb8" stroke-width="0.45"/>
<line x1="434.61" y1="540.18" x2="434.61" y2="543.05" stroke="#a8c4d4" stroke-width="0.45"/>
<line x1="413.94" y1="540.86" x2="413.94" y2="544.31" stroke="#a8ccb8" stroke-width="0.45"/>
<line x1="487.85" y1="541.41" x2="487.85" y2="544.66" stroke="#a8d0c4" stroke-width="0.45"/>
<line x1="502.96" y1="537.62" x2="502.96" y2="540.00" stroke="#a8ccb8" stroke-width="0.45"/>
<line x1="446.07" y1="539.57" x2="446.07" y2="541.76" stroke="#bcbcbc" stroke-width="0.45"/>
<line x1="493.59" y1="539.31" x2="493.59" y2="540.96" stroke="#a8d0c4" stroke-width="0.45"/>
<line x1="433.00" y1="540.06" x2="433.00" y2="542.70" stroke="#a8d0c4" stroke-width="0.45"/>
<line x1="448.71" y1="538.88" x2="448.71" y2="540.50" stroke="#a8c4d4" stroke-width="0.45"/>
<line x1="409.38" y1="539.78" x2="409.38" y2="541.66" stroke="#bcbcbc" stroke-width="0.45"/>
<line x1="479.41" y1="541.46" x2="479.41" y2="543.14" stroke="#a8c4d4" stroke-width="0.45"/>
<line x1="509.16" y1="540.02" x2="509.16" y2="543.40" stroke="#b8b8d8" stroke-width="0.45"/>
<line x1="474.74" y1="538.39" x2="474.74" y2="540.97" stroke="#a8d0c4" stroke-width="0.45"/>
<line x1="436.90" y1="540.31" x2="436.90" y2="542.66" stroke="#a8ccb8" stroke-width="0.45"/>
<line x1="424.69" y1="540.71" x2="424.69" y2="543.81" stroke="#bcbcbc" stroke-width="0.45"/>
<line x1="455.77" y1="540.51" x2="455.77" y2="542.58" stroke="#a8d0c4" stroke-width="0.45"/>
<line x1="459.29" y1="538.44" x2="459.29" y2="541.91" stroke="#a8ccb8" stroke-width="0.45"/>
<line x1="434.56" y1="538.13" x2="434.56" y2="539.95" stroke="#a8ccb8" stroke-width="0.45"/>
<line x1="409.85" y1="540.23" x2="409.85" y2="542.52" stroke="#a8d0c4" stroke-width="0.45"/>
<line x1="499.39" y1="541.15" x2="499.39" y2="543.66" stroke="#b8b8d8" stroke-width="0.45"/>
<line x1="439.39" y1="538.35" x2="439.39" y2="541.68" stroke="#bcbcbc" stroke-width="0.45"/>
<line x1="463.11" y1="540.76" x2="463.11" y2="542.62" stroke="#b8b8d8" stroke-width="0.45"/>
<line x1="418.38" y1="540.37" x2="418.38" y2="541.91" stroke="#bcbcbc" stroke-width="0.45"/>
<line x1="453.10" y1="541.31" x2="453.10" y2="544.32" stroke="#a8d0c4" stroke-width="0.45"/>
<line x1="429.83" y1="539.67" x2="429.83" y2="542.13" stroke="#a8c4d4" stroke-width="0.45"/>
<line x1="511.32" y1="538.89" x2="511.32" y2="541.89" stroke="#a8c4d4" stroke-width="0.45"/>
<line x1="438.28" y1="537.71" x2="438.28" y2="539.77" stroke="#b8b8d8" stroke-width="0.45"/>
<line x1="437.91" y1="538.28" x2="437.91" y2="541.34" stroke="#b8b8d8" stroke-width="0.45"/>
<line x1="474.61" y1="539.40" x2="474.61" y2="541.59" stroke="#a8ccb8" stroke-width="0.45"/>
<line x1="483.51" y1="541.29" x2="483.51" y2="543.22" stroke="#a8c4d4" stroke-width="0.45"/>
<line x1="421.92" y1="539.28" x2="421.92" y2="542.47" stroke="#b8b8d8" stroke-width="0.45"/>
<line x1="511.88" y1="539.58" x2="511.88" y2="541.21" stroke="#bcbcbc" stroke-width="0.45"/>
<line x1="490.32" y1="541.22" x2="490.32" y2="543.60" stroke="#a8d0c4" stroke-width="0.45"/>
<line x1="481.10" y1="539.84" x2="481.10" y2="543.17" stroke="#a8c4d4" stroke-width="0.45"/>
<line x1="507.95" y1="541.24" x2="507.95" y2="543.26" stroke="#a8ccb8" stroke-width="0.45"/>
<line x1="426.92" y1="541.57" x2="426.92" y2="543.44" stroke="#a8d0c4" stroke-width="0.45"/>
<line x1="459.02" y1="538.91" x2="459.02" y2="540.85" stroke="#b8b8d8" stroke-width="0.45"/>
<line x1="511.76" y1="537.74" x2="511.76" y2="540.95" stroke="#a8ccb8" stroke-width="0.45"/>
<line x1="464.66" y1="540.26" x2="464.66" y2="542.44" stroke="#a8c4d4" stroke-width="0.45"/>
<line x1="478.91" y1="538.75" x2="478.91" y2="540.32" stroke="#bcbcbc" stroke-width="0.45"/>
<line x1="444.86" y1="539.41" x2="444.86" y2="542.84" stroke="#a8c4d4" stroke-width="0.45"/>
<line x1="403.74" y1="541.02" x2="403.74" y2="544.29" stroke="#a8c4d4" stroke-width="0.45"/>
<line x1="479.34" y1="541.38" x2="479.34" y2="543.65" stroke="#b8b8d8" stroke-width="0.45"/>
<line x1="484.53" y1="538.14" x2="484.53" y2="540.40" stroke="#b8b8d8" stroke-width="0.45"/>
<line x1="507.53" y1="538.09" x2="507.53" y2="540.42" stroke="#a8d0c4" stroke-width="0.45"/>
<line x1="483.56" y1="537.90" x2="483.56" y2="541.33" stroke="#b8b8d8" stroke-width="0.45"/>
<line x1="457.81" y1="539.07" x2="457.81" y2="542.11" stroke="#bcbcbc" stroke-width="0.45"/>
<line x1="495.02" y1="537.56" x2="495.02" y2="539.45" stroke="#b8b8d8" stroke-width="0.45"/>
<line x1="405.63" y1="539.45" x2="405.63" y2="542.81" stroke="#b8b8d8" stroke-width="0.45"/>
<line x1="410.67" y1="538.33" x2="410.67" y2="541.27" stroke="#a8ccb8" stroke-width="0.45"/>
<line x1="427.78" y1="538.45" x2="427.78" y2="540.30" stroke="#bcbcbc" stroke-width="0.45"/>
<line x1="470.89" y1="539.05" x2="470.89" y2="541.83" stroke="#bcbcbc" stroke-width="0.45"/>
<line x1="435.51" y1="539.82" x2="435.51" y2="541.38" stroke="#a8c4d4" stroke-width="0.45"/>
<line x1="482.83" y1="537.87" x2="482.83" y2="539.80" stroke="#a8c4d4" stroke-width="0.45"/>
<line x1="428.19" y1="539.00" x2="428.19" y2="541.62" stroke="#a8d0c4" stroke-width="0.45"/>
<line x1="478.71" y1="537.89" x2="478.71" y2="540.21" stroke="#a8ccb8" stroke-width="0.45"/>
<line x1="447.17" y1="537.75" x2="447.17" y2="540.39" stroke="#a8c4d4" stroke-width="0.45"/>
<line x1="456.43" y1="539.03" x2="456.43" y2="541.85" stroke="#a8d0c4" stroke-width="0.45"/>
<line x1="500.36" y1="540.54" x2="500.36" y2="543.07" stroke="#bcbcbc" stroke-width="0.45"/>
<line x1="445.19" y1="541.59" x2="445.19" y2="543.72" stroke="#a8c4d4" stroke-width="0.45"/>
<line x1="450.68" y1="539.33" x2="450.68" y2="542.79" stroke="#bcbcbc" stroke-width="0.45"/>
<line x1="446.89" y1="537.74" x2="446.89" y2="539.96" stroke="#a8ccb8" stroke-width="0.45"/>
<line x1="481.25" y1="539.23" x2="481.25" y2="541.46" stroke="#a8c4d4" stroke-width="0.45"/>
<line x1="441.31" y1="539.64" x2="441.31" y2="542.60" stroke="#a8d0c4" stroke-width="0.45"/>
<line x1="406.22" y1="540.85" x2="406.22" y2="543.64" stroke="#a8ccb8" stroke-width="0.45"/>
<line x1="446.81" y1="538.80" x2="446.81" y2="540.46" stroke="#a8ccb8" stroke-width="0.45"/>
<line x1="428.24" y1="541.59" x2="428.24" y2="545.00" stroke="#a8c4d4" stroke-width="0.45"/>
<line x1="509.76" y1="540.05" x2="509.76" y2="542.04" stroke="#a8c4d4" stroke-width="0.45"/>
<line x1="479.26" y1="538.00" x2="479.26" y2="540.65" stroke="#b8b8d8" stroke-width="0.45"/>
<line x1="421.70" y1="537.93" x2="421.70" y2="540.44" stroke="#b8b8d8" stroke-width="0.45"/>
<line x1="477.07" y1="541.58" x2="477.07" y2="543.23" stroke="#a8c4d4" stroke-width="0.45"/>
<line x1="458.26" y1="538.10" x2="458.26" y2="541.09" stroke="#bcbcbc" stroke-width="0.45"/>
<line x1="499.52" y1="538.78" x2="499.52" y2="540.85" stroke="#a8c4d4" stroke-width="0.45"/>
<line x1="481.45" y1="540.21" x2="481.45" y2="542.33" stroke="#b8b8d8" stroke-width="0.45"/>
<line x1="475.96" y1="537.75" x2="475.96" y2="540.31" stroke="#a8d0c4" stroke-width="0.45"/>
<line x1="479.15" y1="537.84" x2="479.15" y2="540.85" stroke="#a8ccb8" stroke-width="0.45"/>
<line x1="494.07" y1="537.81" x2="494.07" y2="540.27" stroke="#bcbcbc" stroke-width="0.45"/>
<line x1="465.41" y1="540.06" x2="465.41" y2="543.55" stroke="#b8b8d8" stroke-width="0.45"/>
<line x1="454.23" y1="539.75" x2="454.23" y2="543.13" stroke="#a8d0c4" stroke-width="0.45"/>
<line x1="464.27" y1="540.45" x2="464.27" y2="542.83" stroke="#a8ccb8" stroke-width="0.45"/>
<line x1="464.93" y1="540.44" x2="464.93" y2="543.47" stroke="#b8b8d8" stroke-width="0.45"/>
<line x1="418.20" y1="541.05" x2="418.20" y2="543.21" stroke="#a8ccb8" stroke-width="0.45"/>
<line x1="482.28" y1="541.50" x2="482.28" y2="545.00" stroke="#b8b8d8" stroke-width="0.45"/>
<line x1="435.62" y1="538.18" x2="435.62" y2="541.64" stroke="#a8c4d4" stroke-width="0.45"/>
<line x1="477.63" y1="538.89" x2="477.63" y2="540.55" stroke="#bcbcbc" stroke-width="0.45"/>
<line x1="487.50" y1="541.32" x2="487.50" y2="544.74" stroke="#bcbcbc" stroke-width="0.45"/>
<line x1="427.90" y1="540.06" x2="427.90" y2="543.17" stroke="#a8ccb8" stroke-width="0.45"/>
<line x1="406.85" y1="538.48" x2="406.85" y2="540.57" stroke="#a8d0c4" stroke-width="0.45"/>
<line x1="441.54" y1="537.68" x2="441.54" y2="539.59" stroke="#b8b8d8" stroke-width="0.45"/>
<line x1="492.96" y1="539.91" x2="492.96" y2="541.57" stroke="#a8ccb8" stroke-width="0.45"/>
<line x1="486.37" y1="537.54" x2="486.37" y2="540.82" stroke="#bcbcbc" stroke-width="0.45"/>
<line x1="486.84" y1="540.58" x2="486.84" y2="542.40" stroke="#a8d0c4" stroke-width="0.45"/>
<line x1="408.84" y1="538.01" x2="408.84" y2="541.22" stroke="#a8ccb8" stroke-width="0.45"/>
<line x1="416.94" y1="538.59" x2="416.94" y2="540.49" stroke="#bcbcbc" stroke-width="0.45"/>
<line x1="477.56" y1="539.57" x2="477.56" y2="542.15" stroke="#a8c4d4" stroke-width="0.45"/>
<line x1="445.11" y1="539.46" x2="445.11" y2="541.77" stroke="#bcbcbc" stroke-width="0.45"/>
<line x1="408.96" y1="541.65" x2="408.96" y2="544.61" stroke="#bcbcbc" stroke-width="0.45"/>
<line x1="419.78" y1="540.04" x2="419.78" y2="542.31" stroke="#a8ccb8" stroke-width="0.45"/>
<line x1="450.45" y1="540.02" x2="450.45" y2="543.14" stroke="#a8ccb8" stroke-width="0.45"/>
<line x1="442.85" y1="541.30" x2="442.85" y2="543.46" stroke="#b8b8d8" stroke-width="0.45"/>
<line x1="423.94" y1="539.00" x2="423.94" y2="542.36" stroke="#a8c4d4" stroke-width="0.45"/>
<line x1="408.49" y1="537.50" x2="408.49" y2="540.13" stroke="#a8ccb8" stroke-width="0.45"/>
<line x1="505.94" y1="540.35" x2="505.94" y2="542.94" stroke="#a8c4d4" stroke-width="0.45"/>
<line x1="472.82" y1="540.13" x2="472.82" y2="542.14" stroke="#a8ccb8" stroke-width="0.45"/>
<line x1="464.82" y1="539.05" x2="464.82" y2="541.13" stroke="#a8c4d4" stroke-width="0.45"/>
<line x1="422.34" y1="538.17" x2="422.34" y2="541.31" stroke="#b8b8d8" stroke-width="0.45"/>
<line x1="412.83" y1="539.88" x2="412.83" y2="542.99" stroke="#a8c4d4" stroke-width="0.45"/>
<line x1="400.96" y1="540.06" x2="400.96" y2="542.81" stroke="#a8c4d4" stroke-width="0.45"/>
<line x1="444.48" y1="540.50" x2="444.48" y2="543.38" stroke="#a8d0c4" stroke-width="0.45"/>
<line x1="465.46" y1="537.81" x2="465.46" y2="539.61" stroke="#a8d0c4" stroke-width="0.45"/>
<line x1="411.15" y1="538.13" x2="411.15" y2="540.59" stroke="#b8b8d8" stroke-width="0.45"/>
<line x1="428.40" y1="541.43" x2="428.40" y2="543.12" stroke="#bcbcbc" stroke-width="0.45"/>
<line x1="464.37" y1="540.22" x2="464.37" y2="541.72" stroke="#bcbcbc" stroke-width="0.45"/>
<line x1="487.48" y1="540.63" x2="487.48" y2="543.18" stroke="#b8b8d8" stroke-width="0.45"/>
<line x1="494.57" y1="538.34" x2="494.57" y2="541.19" stroke="#bcbcbc" stroke-width="0.45"/>
<line x1="474.20" y1="541.07" x2="474.20" y2="542.95" stroke="#a8c4d4" stroke-width="0.45"/>
<line x1="485.03" y1="540.55" x2="485.03" y2="542.09" stroke="#a8ccb8" stroke-width="0.45"/>
<line x1="496.20" y1="540.62" x2="496.20" y2="543.80" stroke="#a8ccb8" stroke-width="0.45"/>
<line x1="432.88" y1="539.79" x2="432.88" y2="542.16" stroke="#bcbcbc" stroke-width="0.45"/>
<line x1="509.80" y1="540.32" x2="509.80" y2="542.85" stroke="#a8c4d4" stroke-width="0.45"/>
<line x1="409.48" y1="538.41" x2="409.48" y2="539.98" stroke="#a8ccb8" stroke-width="0.45"/>
<line x1="492.87" y1="540.51" x2="492.87" y2="543.34" stroke="#a8c4d4" stroke-width="0.45"/>
<line x1="465.92" y1="540.80" x2="465.92" y2="543.40" stroke="#a8ccb8" stroke-width="0.45"/>
<line x1="429.19" y1="538.10" x2="429.19" y2="539.68" stroke="#bcbcbc" stroke-width="0.45"/>
<line x1="477.52" y1="540.71" x2="477.52" y2="543.61" stroke="#a8c4d4" stroke-width="0.45"/>
<line x1="504.18" y1="538.50" x2="504.18" y2="540.05" stroke="#b8b8d8" stroke-width="0.45"/>
<line x1="404.99" y1="540.48" x2="404.99" y2="542.67" stroke="#a8ccb8" stroke-width="0.45"/>
<line x1="407.20" y1="541.67" x2="407.20" y2="544.49" stroke="#a8c4d4" stroke-width="0.45"/>
<line x1="462.81" y1="539.74" x2="462.81" y2="541.87" stroke="#a8d0c4" stroke-width="0.45"/>
<line x1="481.36" y1="539.98" x2="481.36" y2="541.93" stroke="#a8d0c4" stroke-width="0.45"/>
<line x1="452.13" y1="539.36" x2="452.13" y2="541.80" stroke="#bcbcbc" stroke-width="0.45"/>
<line x1="422.48" y1="538.17" x2="422.48" y2="539.89" stroke="#a8d0c4" stroke-width="0.45"/>
<line x1="441.25" y1="538.91" x2="441.25" y2="541.65" stroke="#a8c4d4" stroke-width="0.45"/>
<line x1="474.73" y1="537.77" x2="474.73" y2="540.01" stroke="#a8c4d4" stroke-width="0.45"/>
<line x1="508.24" y1="540.99" x2="508.24" y2="542.73" stroke="#b8b8d8" stroke-width="0.45"/>
<path d="M398.00,488.94 L400.29,489.64 L402.57,490.65 L404.86,490.67 L407.14,491.30 L409.43,491.96 L411.71,492.05 L414.00,493.01 L416.29,493.73 L418.57,494.49 L420.86,494.23 L423.14,495.05 L425.43,495.37 L427.71,496.80 L430.00,497.23 L432.31,496.91 L434.62,498.50 L436.92,498.94 L439.23,499.03 L441.54,499.45 L443.85,499.36 L446.15,499.65 L448.46,500.73 L450.77,500.63 L453.08,501.24 L455.38,501.77 L457.69,501.97 L460.00,502.96 L462.22,503.37 L464.44,504.30 L466.67,504.36 L468.89,504.95 L471.11,505.22 L473.33,505.86 L475.56,506.06 L477.78,506.29 L480.00,507.60 L483.00,508.09 L486.00,508.41 L489.00,505.75 L493.00,499.78 L495.65,495.98 L498.30,492.35 L500.53,491.55 L502.77,491.85 L505.00,490.88 L507.47,490.75 L509.93,489.53 L512.40,489.00" fill="none" stroke="#e8a2b8" stroke-width="0.5" stroke-linejoin="round"/>
<path d="M398.00,487.97 L400.25,489.02 L402.50,489.87 L404.75,490.07 L407.00,490.75 L409.25,492.02 L411.50,492.73 L413.75,494.21 L416.00,494.90 L418.25,495.62 L420.50,496.40 L422.75,497.36 L425.00,497.57 L427.31,498.70 L429.62,499.13 L431.92,500.79 L434.23,500.55 L436.54,502.23 L438.85,502.10 L441.15,503.61 L443.46,503.96 L445.77,504.81 L448.08,506.10 L450.38,505.88 L452.69,506.70 L455.00,508.50 L457.27,508.83 L459.55,509.15 L461.82,511.04 L464.09,511.81 L466.36,511.63 L468.64,512.82 L470.91,513.29 L473.18,514.32 L475.45,515.51 L477.73,515.78 L480.00,517.24 L482.43,517.03 L484.86,517.75 L487.29,519.09 L489.71,519.17 L492.14,519.76 L494.57,520.54 L497.00,520.97 L500.00,519.86 L503.00,518.44 L507.00,503.27 L511.00,496.00" fill="none" stroke="#e8a860" stroke-width="0.5" stroke-linejoin="round"/>
<path d="M398.00,488.71 L400.20,490.22 L402.40,491.22 L404.60,492.42 L406.80,492.62 L409.00,493.68 L411.20,494.58 L413.40,495.67 L415.60,497.28 L417.80,497.56 L420.00,499.04 L422.31,499.50 L424.62,500.45 L426.92,501.46 L429.23,502.79 L431.54,503.36 L433.85,503.49 L436.15,504.65 L438.46,505.35 L440.77,507.06 L443.08,507.83 L445.38,508.67 L447.69,509.55 L450.00,510.29 L452.33,511.37 L454.67,512.02 L457.00,512.21 L459.33,513.75 L461.67,514.15 L464.00,515.31 L466.33,515.91 L468.67,516.58 L471.00,517.34 L473.33,518.25 L475.67,518.94 L478.00,519.54 L480.20,520.78 L482.40,521.16 L484.60,521.78 L486.80,521.83 L489.00,522.07 L491.20,522.70 L493.40,522.36 L495.60,523.41 L497.80,523.53 L500.00,523.61 L502.50,522.64 L505.00,522.03 L508.00,504.70 L511.00,497.00" fill="none" stroke="#9fb070" stroke-width="0.5" stroke-linejoin="round"/>
<path d="M398.00,489.53 L400.20,491.24 L402.40,492.18 L404.60,493.53 L406.80,493.73 L409.00,494.71 L411.20,496.28 L413.40,497.19 L415.60,497.76 L417.80,499.22 L420.00,499.88 L422.31,501.18 L424.62,501.23 L426.92,502.21 L429.23,503.87 L431.54,504.06 L433.85,504.79 L436.15,506.29 L438.46,506.93 L440.77,507.20 L443.08,508.52 L445.38,509.50 L447.69,509.75 L450.00,511.18 L452.27,511.37 L454.55,512.44 L456.82,512.95 L459.09,513.92 L461.36,515.66 L463.64,515.79 L465.91,517.32 L468.18,517.47 L470.45,518.49 L472.73,519.63 L475.00,520.22 L477.22,520.09 L479.44,521.22 L481.67,521.83 L483.89,521.84 L486.11,522.29 L488.33,523.78 L490.56,523.91 L492.78,524.08 L495.00,524.94 L497.57,524.49 L500.15,525.01 L502.73,524.48 L505.30,523.82 L508.00,510.38 L510.00,495.51 L512.00,490.00" fill="none" stroke="#4cae6c" stroke-width="0.5" stroke-linejoin="round"/>
<path d="M398.00,489.56 L400.25,489.16 L402.50,490.78 L404.75,490.84 L407.00,492.58 L409.25,492.17 L411.50,493.96 L413.75,494.47 L416.00,495.43 L418.25,496.35 L420.50,496.19 L422.75,497.06 L425.00,498.25 L427.31,498.43 L429.62,499.10 L431.92,499.75 L434.23,501.20 L436.54,501.91 L438.85,502.51 L441.15,502.51 L443.46,504.05 L445.77,504.24 L448.08,504.60 L450.38,505.56 L452.69,506.21 L455.00,506.49 L457.27,507.62 L459.55,507.92 L461.82,508.72 L464.09,509.70 L466.36,509.90 L468.64,510.16 L470.91,511.25 L473.18,511.96 L475.45,511.90 L477.73,512.99 L480.00,512.42 L482.25,512.94 L484.50,513.36 L486.75,514.65 L489.00,514.73 L491.25,515.14 L493.50,514.99 L495.75,515.62 L498.00,516.46 L500.50,511.52 L503.00,507.54 L507.00,499.46 L509.50,496.46 L512.00,493.00" fill="none" stroke="#3e9282" stroke-width="0.5" stroke-linejoin="round"/>
<path d="M398.00,487.83 L400.20,488.68 L402.40,489.30 L404.60,490.04 L406.80,490.69 L409.00,491.69 L411.20,491.91 L413.40,493.06 L415.60,493.01 L417.80,494.06 L420.00,494.80 L422.31,495.19 L424.62,496.52 L426.92,496.62 L429.23,497.81 L431.54,498.62 L433.85,498.40 L436.15,499.78 L438.46,500.29 L440.77,500.74 L443.08,500.59 L445.38,501.72 L447.69,502.54 L450.00,502.76 L452.33,503.17 L454.67,503.77 L457.00,504.21 L459.33,505.35 L461.67,505.32 L464.00,505.91 L466.33,506.67 L468.67,507.54 L471.00,507.25 L473.33,507.45 L475.67,509.07 L478.00,509.40 L480.43,509.78 L482.86,509.89 L485.29,509.97 L487.71,510.30 L490.14,510.91 L492.57,511.52 L495.00,511.48 L497.50,509.24 L500.00,506.27 L503.00,502.42 L506.00,500.41 L508.50,495.99 L511.00,492.00" fill="none" stroke="#5fb2a8" stroke-width="0.5" stroke-linejoin="round"/>
<path d="M398.00,487.03 L400.43,488.08 L402.86,488.98 L405.29,488.89 L407.71,490.18 L410.14,490.82 L412.57,491.48 L415.00,491.53 L417.22,491.88 L419.44,492.75 L421.67,493.63 L423.89,493.48 L426.11,494.22 L428.33,494.45 L430.56,495.53 L432.78,496.09 L435.00,495.88 L437.27,497.14 L439.55,496.57 L441.82,498.01 L444.09,498.63 L446.36,498.31 L448.64,499.52 L450.91,499.89 L453.18,500.91 L455.45,500.56 L457.73,501.50 L460.00,502.46 L462.27,502.71 L464.55,502.86 L466.82,503.13 L469.09,504.71 L471.36,504.70 L473.64,505.87 L475.91,505.39 L478.18,506.74 L480.45,507.29 L482.73,507.96 L485.00,507.42 L487.87,508.51 L490.73,508.80 L493.60,510.30 L496.80,506.33 L500.00,503.55 L503.00,499.85 L506.00,497.33 L510.00,493.00" fill="none" stroke="#58a6d8" stroke-width="0.5" stroke-linejoin="round"/>
<path d="M398.00,486.62 L400.20,487.89 L402.40,488.20 L404.60,488.74 L406.80,489.79 L409.00,490.49 L411.20,491.18 L413.40,491.85 L415.60,492.32 L417.80,493.00 L420.00,494.23 L422.22,494.23 L424.44,495.10 L426.67,495.68 L428.89,496.22 L431.11,496.76 L433.33,496.35 L435.56,496.80 L437.78,497.84 L440.00,498.09 L442.20,498.14 L444.40,499.21 L446.60,499.95 L448.80,500.40 L451.00,500.16 L453.20,500.76 L455.40,500.91 L457.60,502.57 L459.80,502.16 L462.00,503.27 L464.30,503.55 L466.60,504.11 L468.90,504.53 L471.20,505.39 L473.50,505.62 L475.80,505.76 L478.10,506.04 L480.40,506.97 L482.70,508.01 L485.00,507.57 L487.67,508.55 L490.33,508.82 L493.00,508.59 L496.00,505.15 L499.00,502.22 L502.00,498.92 L505.00,495.89 L508.00,493.48 L511.00,491.00" fill="none" stroke="#9ea0d8" stroke-width="0.5" stroke-linejoin="round"/>
<path d="M398.00,488.21 L400.22,489.01 L402.44,489.36 L404.67,490.01 L406.89,490.54 L409.11,491.93 L411.33,491.75 L413.56,492.24 L415.78,493.05 L418.00,493.71 L420.20,494.29 L422.40,494.72 L424.60,495.03 L426.80,495.79 L429.00,496.27 L431.20,497.08 L433.40,497.14 L435.60,497.48 L437.80,498.14 L440.00,499.05 L442.27,499.41 L444.55,500.37 L446.82,501.00 L449.09,501.08 L451.36,501.25 L453.64,502.55 L455.91,503.12 L458.18,503.24 L460.45,504.10 L462.73,504.21 L465.00,505.50 L467.30,505.90 L469.60,506.35 L471.90,507.04 L474.20,506.68 L476.50,507.55 L478.80,508.28 L481.10,508.86 L483.40,508.87 L485.70,509.07 L488.00,510.15 L491.00,508.53 L494.00,508.25 L497.00,503.91 L500.00,500.95 L503.00,498.48 L506.00,495.54 L508.50,493.98 L511.00,492.00" fill="none" stroke="#7a6cae" stroke-width="0.5" stroke-linejoin="round"/>
<path d="M398.00,488.49 L400.20,488.82 L402.40,489.52 L404.60,490.29 L406.80,490.11 L409.00,491.16 L411.20,492.09 L413.40,492.65 L415.60,492.89 L417.80,493.00 L420.00,493.89 L422.20,494.89 L424.40,494.12 L426.60,494.68 L428.80,495.74 L431.00,495.44 L433.20,495.45 L435.40,495.88 L437.60,496.89 L439.80,496.50 L442.00,496.91 L444.22,497.71 L446.44,498.48 L448.67,498.66 L450.89,498.72 L453.11,499.87 L455.33,499.78 L457.56,500.40 L459.78,501.07 L462.00,502.23 L464.29,502.17 L466.57,503.09 L468.86,502.88 L471.14,503.26 L473.43,503.57 L475.71,504.82 L478.00,505.43 L480.33,504.00 L482.67,503.35 L485.00,502.42 L488.90,497.17 L493.00,495.26 L495.65,493.61 L498.30,492.78 L500.53,492.19 L502.77,491.47 L505.00,490.58 L507.47,490.50 L509.93,489.73 L512.40,489.00" fill="none" stroke="#d6a0d2" stroke-width="0.5" stroke-linejoin="round"/>
<line x1="397.90" y1="485.60" x2="397.90" y2="574.20" stroke="#222" stroke-width="0.9"/>
<line x1="397.50" y1="573.80" x2="513.00" y2="573.80" stroke="#222" stroke-width="0.9"/>
<line x1="395.70" y1="489.90" x2="397.90" y2="489.90" stroke="#222" stroke-width="0.6"/>
<text transform="translate(392.40,491.90)" font-size="5.8" fill="#1a1a1a" text-anchor="end">0.00</text>
<line x1="395.70" y1="503.75" x2="397.90" y2="503.75" stroke="#222" stroke-width="0.6"/>
<text transform="translate(392.40,505.75)" font-size="5.8" fill="#1a1a1a" text-anchor="end">−0.25</text>
<line x1="395.70" y1="517.60" x2="397.90" y2="517.60" stroke="#222" stroke-width="0.6"/>
<text transform="translate(392.40,519.60)" font-size="5.8" fill="#1a1a1a" text-anchor="end">−0.50</text>
<line x1="395.70" y1="552.20" x2="397.90" y2="552.20" stroke="#222" stroke-width="0.6"/>
<text transform="translate(392.40,554.20)" font-size="5.8" fill="#1a1a1a" text-anchor="end">3</text>
<line x1="395.70" y1="559.40" x2="397.90" y2="559.40" stroke="#222" stroke-width="0.6"/>
<text transform="translate(392.40,561.40)" font-size="5.8" fill="#1a1a1a" text-anchor="end">0</text>
<line x1="395.70" y1="566.60" x2="397.90" y2="566.60" stroke="#222" stroke-width="0.6"/>
<text transform="translate(392.40,568.60)" font-size="5.8" fill="#1a1a1a" text-anchor="end">−3</text>
<line x1="395.70" y1="573.80" x2="397.90" y2="573.80" stroke="#222" stroke-width="0.6"/>
<text transform="translate(392.40,575.80)" font-size="5.8" fill="#1a1a1a" text-anchor="end">−6</text>
<line x1="417.96" y1="573.80" x2="417.96" y2="576.20" stroke="#222" stroke-width="0.6"/>
<text transform="translate(417.96,585.90)" font-size="5.8" fill="#1a1a1a" text-anchor="middle">100</text>
<line x1="437.62" y1="573.80" x2="437.62" y2="576.20" stroke="#222" stroke-width="0.6"/>
<text transform="translate(437.62,585.90)" font-size="5.8" fill="#1a1a1a" text-anchor="middle">200</text>
<line x1="457.28" y1="573.80" x2="457.28" y2="576.20" stroke="#222" stroke-width="0.6"/>
<text transform="translate(457.28,585.90)" font-size="5.8" fill="#1a1a1a" text-anchor="middle">300</text>
<line x1="476.94" y1="573.80" x2="476.94" y2="576.20" stroke="#222" stroke-width="0.6"/>
<text transform="translate(476.94,585.90)" font-size="5.8" fill="#1a1a1a" text-anchor="middle">400</text>
<line x1="496.60" y1="573.80" x2="496.60" y2="576.20" stroke="#222" stroke-width="0.6"/>
<text transform="translate(496.60,585.90)" font-size="5.8" fill="#1a1a1a" text-anchor="middle">500</text>
<text transform="translate(363.00,508.00) rotate(-90) scale(0.76,1)" font-size="7.3" fill="#1a1a1a" class="b" text-anchor="middle">Running enrichment</text>
<text transform="translate(372.00,508.00) rotate(-90) scale(0.76,1)" font-size="7.3" fill="#1a1a1a" class="b" text-anchor="middle">score</text>
<text transform="translate(363.00,559.00) rotate(-90) scale(0.76,1)" font-size="7.3" fill="#1a1a1a" class="b" text-anchor="middle">Ranked list</text>
<text transform="translate(372.00,559.00) rotate(-90) scale(0.76,1)" font-size="7.3" fill="#1a1a1a" class="b" text-anchor="middle">metric</text>
<text transform="translate(457.00,597.30) scale(0.77,1)" font-size="7.3" fill="#1a1a1a" class="b" text-anchor="middle">Rank in ordered dataset</text>
<g fill="#626262"><rect x="0" y="0" width="520" height="1.0"/><rect x="0" y="0" width="1.2" height="606"/><rect x="0" y="604.6" width="520" height="1.4"/><rect x="518.75" y="0" width="1.25" height="606"/></g>
</svg>
</body></html>
